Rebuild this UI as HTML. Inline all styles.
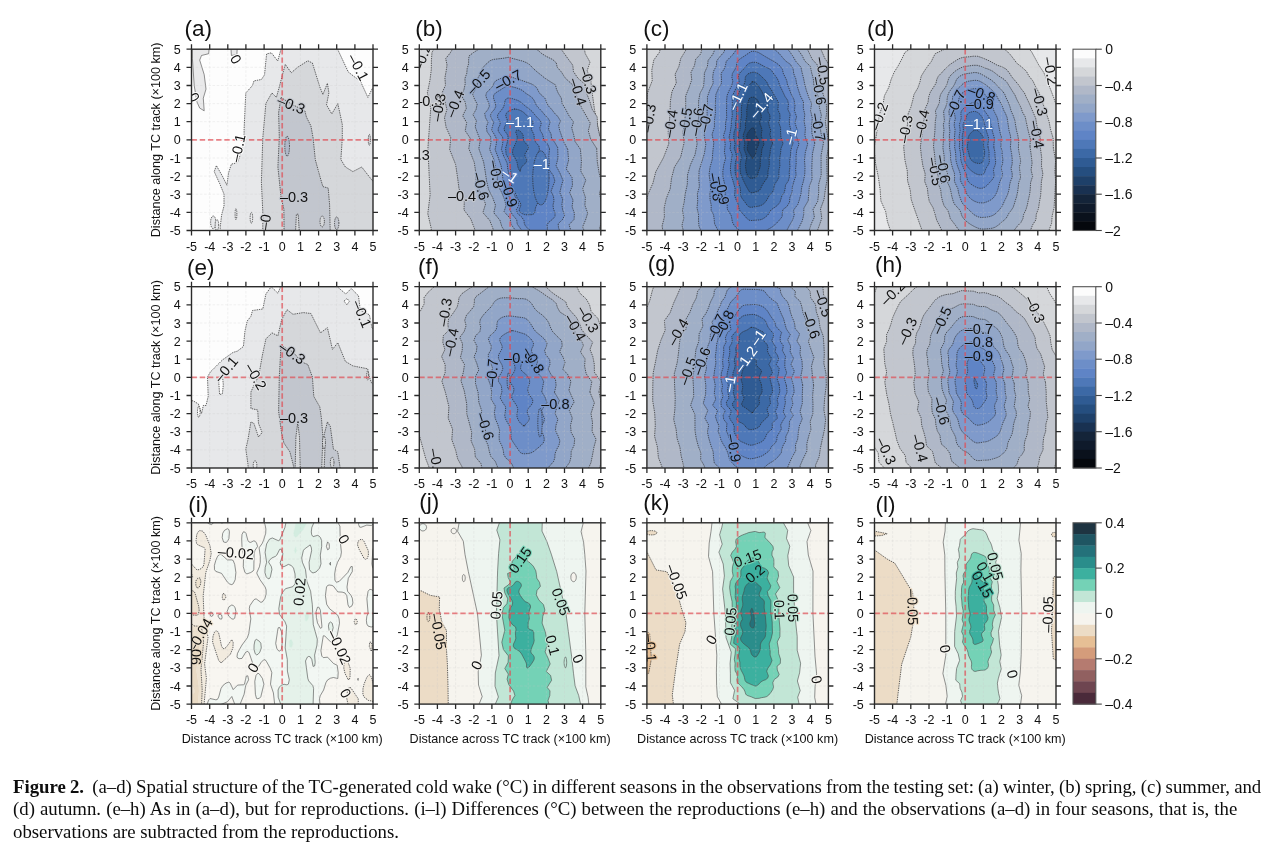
<!DOCTYPE html>
<html><head><meta charset="utf-8"><title>Figure 2</title>
<style>
html,body{margin:0;padding:0;background:#fff;width:1268px;height:850px;overflow:hidden}
svg{position:absolute;left:0;top:0}
svg text{font-family:'Liberation Sans', Arial, Helvetica, sans-serif;fill:#111}
.tl{font-size:12.5px}
.at{font-size:12.6px}
.pl{font-size:22.5px}
.cl{font-size:14.5px;text-anchor:middle;stroke-width:2.2px;paint-order:stroke;stroke-linejoin:round}
.cb{font-size:14px}
.cd{stroke:#262626;stroke-width:.7;stroke-dasharray:1.4 .9}
.cs{stroke:#4a4a4a;stroke-width:.6}
.cap{position:absolute;left:13px;font-family:'Liberation Serif','Times New Roman',serif;font-size:18.8px;line-height:23px;color:#0d0d0d;white-space:nowrap}
.cap b{font-weight:bold}
</style></head><body>
<svg width="1268" height="850" viewBox="0 0 1268 850">
<clipPath id="k00"><rect x="191.5" y="49.2" width="181.5" height="181.3"/></clipPath>
<g clip-path="url(#k00)">
<rect x="191.5" y="49.2" width="181.5" height="181.3" fill="#fdfdfd"/>
<path d="M281 43.8l56.8 0 0 5.8 10.5 22.4 5.6 4.4 6.4 4.5 7.6 16.5 4.4-8.9 6.1 4.2 0 143.2-158.2 0 0-8.8 1.4-12 2.4-9.1 0-11.9-4.4-10.7-5.4-11.8 2.2-6 6 10.5 4.5 9.1 1.6-12.2 2.9-8.9 6-1.4 2.2-6 4.5-18.7 0-9 1.7-36.1 1.4-1.5 5.3-5.9 1.4-4.6 7.5-1.4 3.1-4.6 2.1-21 4.8-1.1 6.3 8.2 3.3-11.8z" fill="#e7e8ea" class="cd"/>
<path d="M262.8 235.9l0-23.9-1.4-29.9 .7-22.5 .7-21.7 3.1-34.5 6-10.5 4.5 4.5 2.9-10.5 3.1-12 2.9-10.5 6 8.4 6-5.3 10.5-6.7 4.6 2.2 7.4 23.9 3.1 7.6 4.5-11.2 1.5 9.6-2.4 12 5.3 9 6-10.3 4.5 20.8 0 13.5-1.4 21.7 4.5 7.4 7.5 4.6 8.8-4.6 10.6 13.6 6.1 2.8 0 52.5z" fill="#d5d7da" class="cd"/>
<path d="M281 97.4l6.7 4.4 5.3 3.1 11.9 5.9 1.5 6.2 4.5 8.9 2.2 12 2.2 21.7 4.5 16.5 3.1 10.5 5.3 1.5 1.4 16.5 .7 31.3-30.8 0-1.3-21.7-1.8 0-1.1 21.7-11.2 0-.2-26.8-2.9-12-3.1-30.1 1.4-29.9-.7-24.4z" fill="#c2c6ce" class="cd"/>
<path d="M289.5 146.2l-.1-2.6-.2-2.4-.4-2.1-.5-1.5-.5-1-.6-.4-.7.4-.5 1-.5 1.5-.4 2.1-.2 2.4-.1 2.6 .1 2.6 .2 2.4 .4 2 .5 1.6 .5 1 .7.4 .6-.4 .5-1 .5-1.6 .4-2 .2-2.4z" fill="#b0b8c8" class="cd"/>
<path d="M192.4 43.8l17.2 0-.9 9.9-7.2 1.8-1.8 4.6 4.5 14.5 1.8 14.5-2.7 9.1 .9 12.6-4.5-2.7-2.8-6.3-2.7-16.3-1.8-27.2z" fill="#e9e9ea" class="cs"/>
<path d="M230.7 43.8l6.7 0-.5 10.8-5.5.9z" fill="#e9e9ea" class="cs"/>
<path d="M216 222.3l-.1-1.6-.3-1.5-.4-1.3-.6-1.1-.6-.6-.7-.2-.7.2-.7.6-.5 1.1-.5 1.3-.2 1.5-.1 1.6 .1 1.7 .2 1.5 .5 1.3 .5 1 .7.7 .7.2 .7-.2 .6-.7 .6-1 .4-1.3 .3-1.5z" fill="#e7e8ea" class="cd"/>
<path d="M236.9 214.2l-.1-1.4 0-1.3-.2-1.2-.2-.8-.2-.6-.2-.2-.3.2-.2.6-.2.8-.1 1.2-.1 1.3 0 1.4 0 1.4 .1 1.3 .1 1.1 .2.9 .2.5 .3.2 .2-.2 .2-.5 .2-.9 .2-1.1 0-1.3z" fill="#e7e8ea" class="cd"/>
<path d="M252.7 217.8l-.1-1.4-.1-1.3-.2-1.1-.3-.9-.3-.5-.3-.2-.3.2-.3.5-.3.9-.2 1.1-.1 1.3-.1 1.4 .1 1.4 .1 1.3 .2 1.2 .3.8 .3.6 .3.1 .3-.1 .3-.6 .3-.8 .2-1.2 .1-1.3z" fill="#e7e8ea" class="cd"/>
<path d="M324.4 221.4l-.1-1.4-.2-1.3-.4-1.1-.4-.9-.6-.5-.5-.2-.6.2-.5.5-.5.9-.3 1.1-.2 1.3-.1 1.4 .1 1.4 .2 1.4 .3 1.1 .5.8 .5.6 .6.2 .5-.2 .6-.6 .4-.8 .4-1.1 .2-1.4z" fill="#d5d7da" class="cd"/>
<path d="M338.9 223.2l-.1-1.6-.2-1.5-.4-1.3-.4-1-.5-.7-.6-.2-.6.2-.5.7-.4 1-.4 1.3-.2 1.5-.1 1.6 .1 1.7 .2 1.5 .4 1.3 .4 1 .5.7 .6.2 .6-.2 .5-.7 .4-1 .4-1.3 .2-1.5z" fill="#c2c6ce" class="cd"/>
<path d="M370.5 139.9l-.1-1.5-.1-1.3-.2-1.1-.2-.9-.2-.5-.3-.2-.3.2-.3.5-.2.9-.2 1.1-.1 1.3 0 1.5 0 1.4 .1 1.3 .2 1.1 .2.9 .3.5 .3.2 .3-.2 .2-.5 .2-.9 .2-1.1 .1-1.3z" fill="#d5d7da" class="cd"/>
<path d="M218.7 225.1l0-1.4-.2-1.4-.3-1.1-.4-.8-.4-.6-.5-.2-.5.2-.4.6-.4.8-.3 1.1-.1 1.4-.1 1.4 .1 1.4 .1 1.3 .3 1.1 .4.9 .4.5 .5.2 .5-.2 .4-.5 .4-.9 .3-1.1 .2-1.3z" fill="#e7e8ea" class="cd"/>
<path d="M209.7 49.2V230.5M191.5 212.4H373M227.8 49.2V230.5M191.5 194.2H373M245.9 49.2V230.5M191.5 176.1H373M264.1 49.2V230.5M191.5 158H373M282.2 49.2V230.5M191.5 139.9H373M300.4 49.2V230.5M191.5 121.7H373M318.6 49.2V230.5M191.5 103.6H373M336.7 49.2V230.5M191.5 85.5H373M354.9 49.2V230.5M191.5 67.3H373" stroke="#c8c8c8" stroke-width="0.7" stroke-dasharray="2.6 1.6" fill="none" opacity="0.35"/>
<path d="M282.2 49.2V230.5M191.5 139.9H373" stroke="#e04850" stroke-width="1.7" stroke-dasharray="5.4 2.8" fill="none" opacity="0.68"/>
<text x="236" y="64.3" transform="rotate(60 236 59.2)" style="fill:#111;stroke:#fdfdfd" class="cl">0</text>
<text x="194.2" y="102.3" transform="rotate(60 194.2 97.2)" style="fill:#111;stroke:#fdfdfd" class="cl">0</text>
<text x="358.5" y="72.4" transform="rotate(62 358.5 67.3)" style="fill:#111;stroke:#fdfdfd" class="cl">–0.1</text>
<text x="291.3" y="109.6" transform="rotate(22 291.3 104.5)" style="fill:#111;stroke:#c2c6ce" class="cl">–0.3</text>
<text x="237.8" y="153.1" transform="rotate(-78 237.8 148)" style="fill:#111;stroke:#fdfdfd" class="cl">–0.1</text>
<text x="294" y="202.1" transform="rotate(0 294 197)" style="fill:#111;stroke:#c2c6ce" class="cl">–0.3</text>
<text x="265" y="227.4" transform="rotate(-82 265 222.3)" style="fill:#111;stroke:#d5d7da" class="cl">–0</text>
</g>
<path d="M191.5 49.2v-5M191.5 230.5v5M191.5 230.5h-5M373 230.5h5M209.7 49.2v-5M209.7 230.5v5M191.5 212.4h-5M373 212.4h5M227.8 49.2v-5M227.8 230.5v5M191.5 194.2h-5M373 194.2h5M245.9 49.2v-5M245.9 230.5v5M191.5 176.1h-5M373 176.1h5M264.1 49.2v-5M264.1 230.5v5M191.5 158h-5M373 158h5M282.2 49.2v-5M282.2 230.5v5M191.5 139.9h-5M373 139.9h5M300.4 49.2v-5M300.4 230.5v5M191.5 121.7h-5M373 121.7h5M318.6 49.2v-5M318.6 230.5v5M191.5 103.6h-5M373 103.6h5M336.7 49.2v-5M336.7 230.5v5M191.5 85.5h-5M373 85.5h5M354.9 49.2v-5M354.9 230.5v5M191.5 67.3h-5M373 67.3h5M373 49.2v-5M373 230.5v5M191.5 49.2h-5M373 49.2h5" stroke="#2a2a2a" stroke-width="1.3" fill="none"/>
<rect x="191.5" y="49.2" width="181.5" height="181.3" fill="none" stroke="#2a2a2a" stroke-width="1.4"/>
<text x="191.5" y="250.6" text-anchor="middle" class="tl">-5</text>
<text x="180.8" y="235" text-anchor="end" class="tl">-5</text>
<text x="209.7" y="250.6" text-anchor="middle" class="tl">-4</text>
<text x="180.8" y="216.9" text-anchor="end" class="tl">-4</text>
<text x="227.8" y="250.6" text-anchor="middle" class="tl">-3</text>
<text x="180.8" y="198.7" text-anchor="end" class="tl">-3</text>
<text x="245.9" y="250.6" text-anchor="middle" class="tl">-2</text>
<text x="180.8" y="180.6" text-anchor="end" class="tl">-2</text>
<text x="264.1" y="250.6" text-anchor="middle" class="tl">-1</text>
<text x="180.8" y="162.5" text-anchor="end" class="tl">-1</text>
<text x="282.2" y="250.6" text-anchor="middle" class="tl">0</text>
<text x="180.8" y="144.4" text-anchor="end" class="tl">0</text>
<text x="300.4" y="250.6" text-anchor="middle" class="tl">1</text>
<text x="180.8" y="126.2" text-anchor="end" class="tl">1</text>
<text x="318.6" y="250.6" text-anchor="middle" class="tl">2</text>
<text x="180.8" y="108.1" text-anchor="end" class="tl">2</text>
<text x="336.7" y="250.6" text-anchor="middle" class="tl">3</text>
<text x="180.8" y="90" text-anchor="end" class="tl">3</text>
<text x="354.9" y="250.6" text-anchor="middle" class="tl">4</text>
<text x="180.8" y="71.8" text-anchor="end" class="tl">4</text>
<text x="373" y="250.6" text-anchor="middle" class="tl">5</text>
<text x="180.8" y="53.7" text-anchor="end" class="tl">5</text>
<text x="184.5" y="36.1" class="pl">(a)</text>
<text x="160.0" y="139.9" transform="rotate(-90 160.0 139.9)" text-anchor="middle" class="at">Distance along TC track (×100 km)</text>
<clipPath id="k01"><rect x="419.3" y="49.2" width="181.5" height="181.3"/></clipPath>
<g clip-path="url(#k01)">
<rect x="419.3" y="49.2" width="181.5" height="181.3" fill="#e7e8ea"/>
<path d="M611.7 149.7l0-44.3 0-18 0-14.2 0-11.2 0-10.2 0-10 0-3.5-4.4 0-2.1 0-1.7 0-.4 0-3.6 0-4.9 0-4.1 0-4.4 0-5.1 0-5.5 0-5.9 0-6.7 0-8 0-10.5 0-25.5 0-28.2 0-12.6 0-10 0-8.5 0-7 0-5.1 0-3.6 0-4 0-5.8 0-5.6 0-4.3 0-3 0 .4 0-5.1 0-2.8 0-1.5 0-2.7 0-1.1 4.9 .1 9-.1 9.6 0 11.6 0 13.8 0 18.4 0 43.6 0 51.7 0 20.9 0 16.1 0 3.5 .7 0 5.6 0-1.6 0 3.7 0-.6 0 8.7 0 1.9 0 3.1 0 3.7 0 2.4 0 5.1 0 6.8 0 6.3 0 6.4 0 7.5 0 9.4 0 12.4 0 29.8 0 25 0 10.5 0 8 0 7.1 0 6.3 0 5.2 0 4 0 5 0 6.7 0 1.5 0-1.8 0 7 0 3 0 2.1 0 2.2 0 .2 0 0-4.8 0-16 0-21.1z" fill="#d5d7da" class="cd"/>
<path d="M602.1 148.2l-7.6-38.6-2.2-15.9-1.4-12.3-3.7-10.7 2.8-8.6-4.8-8.6-1.2-7.2-5.1-5.8 2.1-2.2-3 0-.8 0-4 0-4.3 0-2.6 0-2.7 0-2.6 0-2 0-2.1 0-3 0-4.1 0-4.8 0-5.6 0-7 0-11.1 0-25.2 0-9.8 0-7.4 0-6.3 0-5.5 0-4.9 0-4.1 0-2.5 0-1.3 0-2.7 0-6 0-3.2 0 .6 0-4.8 0-1.6 0-1.1.7 .3 6.5-3.8 6.9-.6 8-.1 9-1.3 10.5-2.6 12.9 3.3 15.6-2.8 40 2.2 46.4-2.3 18.9 3.5 15-1 12 1.2.7 2.1 0 .3 0 .5 0 2.2 0 5.4 0-1.2 0 3.1 0 1.6 0 .4 0 6.7 0 6.2 0 2.8 0 2.8 0 4.5 0 5.6 0 6.2 0 7.2 0 9.4 0 23.1 0 23.4 0 8.4 0 6.1 0 4.2 0 2.2 0 1.6 0 3.2 0 6.2 0 5.4 0 1.7 0 2 0 3.2 0 1.8 0 1.2 0-.6 0 5.7 0 .5 0-1 0 1.6 0 2.4-.5-1.9-12.4 4.3-13.9-3.1-19.6z" fill="#c2c6ce" class="cd"/>
<path d="M605.8 148.2l-6-12.2-2.2-9.8-.4-9.3-5.1-7.8-2.5-8.3-3.4-8.5-.5-7.6-7.8-6.5-4.4-6.6-.8-6.5-4.8-6.5-5.1-7.1-4.2-5.9-9.1-3.6-2.4-3.7-3.1 0-6.1 0-5.2 0-4.7 0-5.8 0-6.7 0-6.9 0-7.1 0-8 0-7.7 0-4.8 0-3.7 0-3 0-3.2 0-5.1 0-5.4 0-2.3 0-1.4 0-3.5 4.2 .3 4.8-3.6 5.8-4.4 5.5 1.3 6.3-.9 6.4-1.2 6.6 .6 7.3-3.2 7.1 2.5 8.4 2.1 8.7-2.4 8.4 1.6 9.5 4.6 10.2-1 12.2 5.8 14.4 2 12.8 1.5 11.9 5.4 10.5-.4 10.6 6.8 9.1 3.8 9.9 2.5 9.3 1.3 3.2 8.4 0 2.8 0 3.3 0 3.3 0 4.8 0 7.1 0 5 0 1.7 0 5.9 0 5 0 2.9 0 3.7 0 5.3 0 6.1 0 6.7 0 11.1 0 5.8 0 5 0 4.9 0 5.4 0 4.9 0 3.8 0 3.8 0 1.3 0 2.9 0 6.4 0 1.2 0-.3 0 2.6 0 1.8 0 .7-3.2-.9-9 .9-9.5 0-9.9 0-10.5-3-10.9 1.5-11.6-4.9-12.4z" fill="#b0b8c8" class="cd"/>
<path d="M596.7 148.5l-5.9-9.2-2.5-8.5 2-7.6-4.3-7.8-4.1-7-2.8-6.1-2.3-6-1.9-5.9-2.5-5.8-7-6.4-4-6.2-4.2-4.8-.9-4.3-3.5-3.3-6.9-3.4-4.4-2.8-3.1-2.8-5.3-3.1-7.2-2-6.8-2-5.9-1.9-5.4-1.8-5.6.8-6.9.1-1.9.1-3.9.4-3.4.6-2.9 1.1-1.8 1.8-1.1 2.2-2.3 2.8-4.6 2.9-4.3 3.3-.5 3.8 0 4-1.4 4.7-.4 4.8-1.9 5.4 .3 5.3-1.3 5.9-2.3 6.1 3.6 6.1 1.1 6.4-3.6 7.4 4 6.9-1.5 8 5.1 7.7-1.5 10.2 5.4 13.5 1.7 11.4 .3 10.3 5 10.4 4.4 9.7-2.7 8.7 6.9 7.9 2.9 7.5 2.9 7.6 1.3 5.8 2.7 0 7.1 0 1.9 0 3.4 0 1.4 0 3.8 0 3.8 0 3.9 0 5.4 0 5.2 0 3.8 0 3.1 0 3.4 0 4.5 0 6.2 0 5.5 0 4.8 0 3.8 0 3 0 3.4 0 5.4 0 5.8 0 3.1 0 .9 0 1 0 3 0 1.6 0 3 0 1.2-5.3-2.4-8 2.4-7.7 1.4-8.3-1.7-9-2.2-9.6 2.4-9.4-2.7-10.8-1.9-11.4z" fill="#a0afc7" class="cd"/>
<path d="M580.4 149.2l-5.4-7.8-1.4-6.9-1.9-6.5 1.8-6.1-4.4-6-3.3-6.2-3.7-6.4-.8-5.2-3.1-5-1.8-4.2-.9-4-5.2-3.2-5.4-3.5-3.5-2.9-3.8-3-3.7-3.2-2.4-2.5-2-2.1-2.7-1.7-3.8-1.6-4.6-1.2-4.9-1.3-4.9-1.4-5.6 1-6.9.8-2.7.3-2.2.7-1.8 1.1-1.5 1.4-1.8 1.6-2 1.9-1.7 2.3-1.1 2.8-1.3 3.1-2.1 3.6-.7 3.7 .2 3.9-2.4 4.3-2.3 4.4 1.8 4.9 2.7 5-1.1 5.3-3.1 5.4 3.4 5.9-1.2 6.1 2.3 6.4 2.8 6.8-1.5 8.6 4.8 13.3 1.7 10.1 1.3 9.2 2 8.4 3.9 7.7 3 7.9-1.7 7.6 6.1 7.4 2 6.6 4 6.1 .9 6.1 .8 2.4 4 0 6 0 1.8 0 2.6 0 2.7 0 1.6 0 2.2 0 3.1 0 3.4 0 3.3 0 3.2 0 3.8 0 6.8 0 4.8 0 4.6 0 4 0 3.2 0 2.3 0 1.5 0 1.3 0 2.3 0 2.7 0 1.5 0 2.7 0 1.6-1.9 1-6-3.1-6.5 3-6.9 2.2-7-2.8-7.8 .5-8-2.8-8.4 3.2-8.7-5-9.1 .6-10.1z" fill="#92a6c8" class="cd"/>
<path d="M567.7 149.4l-4-7.7-2.2-6.1-1.9-5.4-.9-4.8 1.8-4.5-2.7-4.4-3.4-3.5-2.7-3.6-3.4-3.6-1.8-3.5-1-3.3-2.6-2.8-3-2.5-1.6-2.7-1.1-2.5-2.2-2.5-3.6-2.1-4.2-1.5-4.2-1.5-3.8-1.3-3.6-1-3.5-1.4-3.6-.9-4.3.6-1.1.5-2.3 1-2.1.9-1.8.8-1.6 1.1-1.1 1.4-.7 1.6-.8 1.9-1.6 2.1-2.5 2.3-2.2 2.4-.6 2.9 1.1 3.2 1.7 3.6 .8 3.6-1.7 3.6-3 3.6 .8 4.3 2.5 4.6-1.6 4.4 .6 4.9 3.7 5.4 .3 5.6-1.4 6.6 4.2 10.2 2 9 1.6 8.3-.2 7.8 4.2 7.3 2.8 6.7 1.9 6.7-2 6.5 6 6.5 .8 5.9 4.1 5.7 1.9 5.1 .9 4.7 .9 1.8 1.2 0 4.2 0 4.5 0 2.5 0 1.5 0 1.7 0 2.2 0 2.4 0 2.4 0 2.8 0 2.4 0 3.2 0 2.9 0 2.7 0 2.9 0 2.7 0 2.2 0 1.7 0 2.2 0 2.5 0 1.3-1.4 1.2-4.6-1.3-5.2-1.6-5.5 5-5.4 .3-6.1-2.3-6.5 .9-6.7-3.3-7.4 2.8-7.2-.4-7.8-5.8-8.6 2.3-8.8z" fill="#7f9acb" class="cd"/>
<path d="M557.7 147.6l-3-5.2-3.1-4.2-.6-4.4-2.4-4.1 .3-3.9 1.3-3.8-2-3.6-3.2-3.2-2.3-2.9-2.5-2.8-2.9-2.9-1.8-2.9-1-2.6-1.4-2.4-2.3-2.1-2.7-1.8-2.4-1.6-1.9-1.6-1.7-1.3-1.8-1-2-.8-2.3-.7-2.6-.7-3.3-.8-3.7.1-1.9.9-1.8 1.1-1.9 1.3-2 1.2-2 1.2-1.8 1.3-1.2 1.6-.4 1.9 .4 2.1 .8 2.3 .9 2.6 .2 2.7-1.3 2.8-2.6 2.9-1.5 3.2 1.5 3.5 1.9 3.6-1.3 3.7-.8 3.9 2.8 4.3 2.2 4.6-.3 4.7-1.2 5.7 3.3 8.7 2.7 7.7 1.1 7.1 .8 6.7 .4 6.4 4 6.1 2.3 6.3 2.7 6-2.8 4.9 2.9 5.5 4.2 4.8 .5 4.4 3 4.2 3 4.1 .9 3.5 .9 3.2 1.3 2.3 1 0 1 0 1.6 0 2.1 0 2.4 0 2.3 0 2.4 0 4 0 2.6 0 2.6 0 2.4 0 2.5 0 2.1 0 1.7-.5 1.4-2.8 1.4-3 .4-3.4-1.7-3.9-.3-4.1 4.2-4 2.3-4.6-2.1-5.2-.7-5.4 .8-5.5-2.9-6.3 1.4-6 1.8-6.3-3-7.2-3.9-7.4 1.9-7.8z" fill="#6d8ec8" class="cd"/>
<path d="M549.5 148.7l-1.8-4.6-3.7-3.5-.7-3.5-.9-3.2-2-2.9-.6-3.1 1.2-2.9 .2-2.8-1.8-2.5-2.6-2.6-2.2-2.6-1.8-2.3-2-2-2.3-1.8-2.3-1.6-1.9-1.6-1.6-1.4-1.4-1.2-1.5-1.1-1.5-.8-1.7-.7-1.9-.6-2.1-.7-2.5-.6-2.1-.1-1 .4-.9.6-.6.8-.4.9-.3 1.1-.2 1.3-.2 1.4-.6 1.7-1 2-1.7 2.3-2 2.3-1.5 2.2 0 2.3 1.4 2.5 1.3 2.5-.4 2.8-1.6 3-.1 3 2.2 3.1 2.2 2.8 .4 3.4-.5 4-1.1 5 2.4 7 3.3 6.6 .7 6.2 1.3 6.1 .1 5.6 .6 5.4 3.4 5.5 1.9 4.9 2.6 4.5 1 4.4-2.3 4 1.1 3.8 4.3 3.7 2.2 3.5 .3 3 1.3 2.7 2.5 2.3 2.3 2.1 1.7 1.8 1.1 1.5 1 1.2 1.1.8 1.3.5 1.6-.1 3-1 2-1 1.7-1 1.5-1.1 .9-1.4 .2-1.7-.3-2.1-.1-2.4 1.6-2.4 3.4-2.6 2.9-3.2 .1-3.6-1.6-3.7-.5-4.1 1-4.3-.6-4.6-2.4-4.9 1.9-5 2-5.3-1.6-5.5-4.5-6.3 .5-6.1-.5-6.8z" fill="#5f84c6" class="cd"/>
<path d="M539.5 149.6l-.6-3.7-3-3.4-1.6-3-.1-2.7-.4-2.6-1.3-2.5-1.1-2.3 .1-2.2 .9-2.1 .7-1.9-.2-1.9-1.3-1.8-1.7-1.5-1.7-1.4-1.5-1.3-1.3-1.3-1.2-1.1-1.2-1-1.3-.8-1.4-.7-1.3-.5-1.4-.4-1.4-.3-1.7-.3 1.1.3-1.1 0-1.2.2-1.2.2-1.3.4-1.4.6-1.4.9-1.2 1.2-.8 1.4-.3 1.4 .3 1.4 .7 1.5 .6 1.7-.1 1.8-1.1 2.2-1.4 2.5-.7 2.4 .7 2.1 1.7 2 1.4 2.4 .3 2.6-.5 2.9-.8 3.2-1.2 3.9 .5 6.1 3 5.3 1.2 4.9 .1 4.4 .5 4.2 .7 4.1-.3 3.8-.3 3.6 1.4 3.6 2.2 3.3 1.4 3.1 .9 2.8 1.6 2.7 1.7 2.5 .7 2.2-.5 2-.8 1.7-.4 1.6 .3 1.3 1 1.2 1.3.9 1.4.7 1.3.5 1.3.2 6-.1 1.2-.3 .8-.6 .7-.8 .4-1.1 .2-1.3 .2-1.6 .4-1.8 .9-2 1.1-2.4 1-2.6 0-2.7-1.1-2.6-.7-2.9 1.4-3.5 2.5-4.1 1.2-4-.5-3.6-2-3.5-2.9-3.6 .8-4.4 2.2-5.2-2.5-4.5z" fill="#4e78b8" class="cd"/>
<path d="M549.1 177.9l-.3-7-.8-6.6-1.3-5.6-1.7-4.3-2-2.7-2.1-1-2.1 1-2 2.7-1.7 4.3-1.3 5.6-.8 6.6-.3 7 .3 7.1 .8 6.5 1.3 5.7 1.7 4.3 2 2.7 2.1.9 2.1-.9 2-2.7 1.7-4.3 1.3-5.7 .8-6.5z" fill="#4e78b8" class="cd"/>
<path d="M527.4 150.1l1.1-1.9-.1-1.5-.8-1.4-1.2-1.3-1.2-1.3-1-1.2-.6-1.2-.3-1.1 0-1.1 0-1-.1-.9-.1-.9-.3-.8-.5-.8-.5-.7-.5-.6-.5-.5-.5-.5-.5-.4-.4-.4-.5-.2-.4-.2-.5-.1-.5 0-.3 0-.4.1-.3.1-.3.3-.2.3-.2.4 0 .5 0 .5 .2.6 .2.7 .3.8 .3.8 .2.9 .2.9 0 1-.2 1.1-.3 1.1-.4 1.1-.4 1.2-.5 1.2-.6 1.3-.6 1.3-.6 1.4-.7 1.7-.4 2.4 .1 1.6 .5 1.5 .8 1.5 .8 1.3 .8 1.3 .6 1.2 .5 1.2 .4 1 .2 1.1 .2.9 .2 1 .1.8 .2.8 .2.7 .2.6 .3.6 .2.5 .3.4 .4.4 .3.3 .4.2 .4.2 .5 0-1.6-.1 .3-.1 .3-.2 .2-.2 .2-.4 .1-.4 .2-.5 .1-.5 .3-.7 .4-.6 .5-.8 .8-.7 .9-.9 1-.9 .9-1 .7-1.1 .4-1.1-.1-1.2-.6-1.3-.7-1.4-.5-1.4 .1-1.5 .9-1.5z" fill="#3c69a6" class="cd"/>
<path d="M437.4 49.2V230.5M419.3 212.4H600.8M455.6 49.2V230.5M419.3 194.2H600.8M473.8 49.2V230.5M419.3 176.1H600.8M491.9 49.2V230.5M419.3 158H600.8M510.1 49.2V230.5M419.3 139.9H600.8M528.2 49.2V230.5M419.3 121.7H600.8M546.4 49.2V230.5M419.3 103.6H600.8M564.5 49.2V230.5M419.3 85.5H600.8M582.6 49.2V230.5M419.3 67.3H600.8" stroke="#c8c8c8" stroke-width="0.7" stroke-dasharray="2.6 1.6" fill="none" opacity="0.35"/>
<path d="M510.1 49.2V230.5M419.3 139.9H600.8" stroke="#e04850" stroke-width="1.7" stroke-dasharray="5.4 2.8" fill="none" opacity="0.68"/>
<text x="422" y="62.5" transform="rotate(-70 422 57.4)" style="fill:#111;stroke:#d5d7da" class="cl">–0.2</text>
<text x="428.4" y="106" transform="rotate(0 428.4 100.9)" style="fill:#111;stroke:#d5d7da" class="cl">–0.3</text>
<text x="438.4" y="112.3" transform="rotate(-80 438.4 107.2)" style="fill:#111;stroke:#c2c6ce" class="cl">–0.3</text>
<text x="454.7" y="108.7" transform="rotate(-68 454.7 103.6)" style="fill:#111;stroke:#b0b8c8" class="cl">–0.4</text>
<text x="478.3" y="86.9" transform="rotate(-48 478.3 81.8)" style="fill:#111;stroke:#92a6c8" class="cl">–0.5</text>
<text x="508.2" y="85.1" transform="rotate(-28 508.2 80)" style="fill:#111;stroke:#7f9acb" class="cl">–0.7</text>
<text x="520" y="126.8" transform="rotate(0 520 121.7)" style="fill:#ffffff;stroke:#4e78b8" class="cl">–1.1</text>
<text x="496.4" y="179.4" transform="rotate(80 496.4 174.3)" style="fill:#111;stroke:#92a6c8" class="cl">–0.8</text>
<text x="481" y="191.2" transform="rotate(75 481 186.1)" style="fill:#111;stroke:#a0afc7" class="cl">–0.6</text>
<text x="509.1" y="198.4" transform="rotate(72 509.1 193.3)" style="fill:#111;stroke:#6d8ec8" class="cl">–0.9</text>
<text x="510.1" y="180.3" transform="rotate(35 510.1 175.2)" style="fill:#ffffff;stroke:#5f84c6" class="cl">–1</text>
<text x="541.8" y="169.4" transform="rotate(0 541.8 164.3)" style="fill:#ffffff;stroke:#4e78b8" class="cl">–1</text>
<text x="462" y="201.2" transform="rotate(0 462 196.1)" style="fill:#111;stroke:#c2c6ce" class="cl">–0.4</text>
<text x="588.1" y="85.1" transform="rotate(72 588.1 80)" style="fill:#111;stroke:#c2c6ce" class="cl">–0.3</text>
<text x="578.1" y="96.9" transform="rotate(72 578.1 91.8)" style="fill:#111;stroke:#b0b8c8" class="cl">–0.4</text>
<text x="423.8" y="160.4" transform="rotate(0 423.8 155.3)" style="fill:#111;stroke:#d5d7da" class="cl">.3</text>
</g>
<path d="M419.3 49.2v-5M419.3 230.5v5M419.3 230.5h-5M600.8 230.5h5M437.4 49.2v-5M437.4 230.5v5M419.3 212.4h-5M600.8 212.4h5M455.6 49.2v-5M455.6 230.5v5M419.3 194.2h-5M600.8 194.2h5M473.8 49.2v-5M473.8 230.5v5M419.3 176.1h-5M600.8 176.1h5M491.9 49.2v-5M491.9 230.5v5M419.3 158h-5M600.8 158h5M510.1 49.2v-5M510.1 230.5v5M419.3 139.9h-5M600.8 139.9h5M528.2 49.2v-5M528.2 230.5v5M419.3 121.7h-5M600.8 121.7h5M546.4 49.2v-5M546.4 230.5v5M419.3 103.6h-5M600.8 103.6h5M564.5 49.2v-5M564.5 230.5v5M419.3 85.5h-5M600.8 85.5h5M582.6 49.2v-5M582.6 230.5v5M419.3 67.3h-5M600.8 67.3h5M600.8 49.2v-5M600.8 230.5v5M419.3 49.2h-5M600.8 49.2h5" stroke="#2a2a2a" stroke-width="1.3" fill="none"/>
<rect x="419.3" y="49.2" width="181.5" height="181.3" fill="none" stroke="#2a2a2a" stroke-width="1.4"/>
<text x="419.3" y="250.6" text-anchor="middle" class="tl">-5</text>
<text x="408.6" y="235" text-anchor="end" class="tl">-5</text>
<text x="437.4" y="250.6" text-anchor="middle" class="tl">-4</text>
<text x="408.6" y="216.9" text-anchor="end" class="tl">-4</text>
<text x="455.6" y="250.6" text-anchor="middle" class="tl">-3</text>
<text x="408.6" y="198.7" text-anchor="end" class="tl">-3</text>
<text x="473.8" y="250.6" text-anchor="middle" class="tl">-2</text>
<text x="408.6" y="180.6" text-anchor="end" class="tl">-2</text>
<text x="491.9" y="250.6" text-anchor="middle" class="tl">-1</text>
<text x="408.6" y="162.5" text-anchor="end" class="tl">-1</text>
<text x="510.1" y="250.6" text-anchor="middle" class="tl">0</text>
<text x="408.6" y="144.4" text-anchor="end" class="tl">0</text>
<text x="528.2" y="250.6" text-anchor="middle" class="tl">1</text>
<text x="408.6" y="126.2" text-anchor="end" class="tl">1</text>
<text x="546.4" y="250.6" text-anchor="middle" class="tl">2</text>
<text x="408.6" y="108.1" text-anchor="end" class="tl">2</text>
<text x="564.5" y="250.6" text-anchor="middle" class="tl">3</text>
<text x="408.6" y="90" text-anchor="end" class="tl">3</text>
<text x="582.6" y="250.6" text-anchor="middle" class="tl">4</text>
<text x="408.6" y="71.8" text-anchor="end" class="tl">4</text>
<text x="600.8" y="250.6" text-anchor="middle" class="tl">5</text>
<text x="408.6" y="53.7" text-anchor="end" class="tl">5</text>
<text x="415.3" y="35.6" class="pl">(b)</text>
<clipPath id="k02"><rect x="646.9" y="49.2" width="181.5" height="181.3"/></clipPath>
<g clip-path="url(#k02)">
<rect x="646.9" y="49.2" width="181.5" height="181.3" fill="#e7e8ea"/>
<path d="M839.3 143.9l0-16.2 0-14.6 0-13.8 0-13.3 0-12.8 0-13.4 0-12.3 0-9.2-2.3 0-2.7 0-6.7 0-7.7 0-4.5 0-8 0-5.6 0-5.3 0-9.1 0-9.3 0-8.4 0-8.5 0-9.8 0-10.8 0-9.5 0-9 0-8.1 0-7 0-7.3 0-7.7 0-7 0-6.8 0-7.7 0-6.2 0-4.1 0-5.3 0-6.6 0-3 0-5.1 0-2.8 10.6-1.4 11.4 0 12.2 0 12.7 0 13.5 0 13.8 0 14.6 0 16.7 0 18.5 0 15.5 0 14.6 0 14.6 0 14.5 0 13.4 0 6.5 10 0 14.2 0 18.3 0 23.4 0 48.6 0 11.3 0 8.3 0 8.2 0 8.6 0 7.5 0 6.1 0 8 0 6.1 0 8.8 0 2.5 0 6.6 0 5.8 0 1 0 0-7.4 0-13.5 0-13.9 0-14.3 0-15.1 0-15.9z" fill="#d5d7da" class="cd"/>
<path d="M839.3 142.7l0-14.1 0-12.6 0-11.8 0-11.1 0-10.9 0-10.5 0-10.1-.8-9.6 0-9.2-6.3-4.5-2.7 0-4.8 0-3.8 0-5.6 0-5.8 0-2.4 0-6.9 0-6.2 0-6.1 0-7.4 0-7.2 0-6.7 0-6.9 0-8.2 0-8.1 0-7.8 0-7.3 0-6.7 0-7.1 0-8.7 0-6.9 0-2.6 0-6.1 0-5.9 0-5.2 0-6.1 0-3.3 0-4 0-4.4 5.3-1.8 8.6-5.7 7.8-2 10.2 .4 10.5-4.7 12.1-.7 11.6 .1 11.9-1.2 12.9-.3 14.5-8.1 16.2-1.3 14.4 0 14.2 0 14.7 0 11.7 0 10.7 0 11.8 0 4 7.7 0 11 0 11.7 0 13 0 15.1 0 18.8 0 39.2 0 7.7 0 7.6 0 7.1 0 6.2 0 6.5 0 8 0 5 0 3.1 0 6.4 0 6.2 0 4 0 5.8 0 2.7 0 3.3 0 4.6 0 2.6 0 0-2.5 0-12.3 0-12.5 0-12.5 0-13.1 0-13.3 0-15z" fill="#c2c6ce" class="cd"/>
<path d="M839.3 143.6l-.2-12.1-1.4-10.5-.5-10 .8-9.7-3.5-8.9-1.9-8.9-1.5-8.6-.6-8.1-5.8-8.7-3.3-7.7-.8-7-4.8-5.1-4 0-3.6 0-5.8 0-3.8 0-4.6 0-5 0-5.7 0-6.5 0-6.4 0-6.2 0-6.2 0-7.2 0-5.2 0-6.4 0-6 0-5.4 0-4.8 0-5.1 0-5.7 0-5.4 0-4.8 0-2.8 0-3.4 0-5.2 0-3.3 5.2-1.8 7.2-4.8 7.9-1.8 7.8-3.8 7.8 1.2 8.7-4.3 8.6-1.6 9.4-.3 9.6-.6 10.2-1.3 10.9 .6 12.1-5.2 13.7-7.8 14.3-2.9 11.5-4.8 10.8-2.7 11.7-1.8 11.1-3.6 10 .3 9.9-1 4.7-1.1 0 2.8 0 1.6 0 3.4 0 .2 0 6.3 0 4.9 0 5.6 0 7.6 0 8 0 8.9 0 10 0 11.4 0 14 0 29.6 0 5.4 0 6.5 0 6.4 0 6.2 0 6.3 0 5.8 0 4.3 0 5.4 0 6.3 0 1.1 0 5.8 0 2.8 0 4.9 0 5 0-.6 0 4.1-4.8 3.4-10.8 2.6-10.8 .9-10.7 1.4-10.8 .6-11.4 1.4-11.6-.3-12.8z" fill="#b0b8c8" class="cd"/>
<path d="M829.3 143.9l-2.4-11.5-1.5-10 1.2-8.9-.2-8.8-2.8-8.9-2.4-8.3-.8-7.8-1.9-7.5-.9-7-5.5-6.1-2.8-6-2.8-5.7-.8-5.4-6.2-3.7-3.2 0-3.1 0-5.6 0-4.8 0-4 0-4.4 0-4.9 0-5.2 0-5.5 0-6.3 0-6 0-5.2 0-5 0-4.9 0-4.6 0-4.3 0-3.5 0-2.5 0-3.5 0-4.8 0-3.3 3.8-2.7 5.8-1.5 6-5 5.4-1.3 6.4-3.4 6.6 .7 7.5-2.6 7.7-3.4 8.3 0 8.5-.1 8.8-1.1 9.3-1.5 9.9 1 10.9-3.4 14.1-6.2 9.9-2.9 11.2-1.3 10.5-4 9.8-2 9.3 .2 9.2-2.3 8.8 1.2 8.2 .8 7.2-1.3 0 2.4 0 3.3 0 2.5 0 4.7 0 2.5 0 2.7 0 6.7 0 7.4 0 6.8 0 7.4 0 8.8 0 11.1 0 22.6 0 6.3 0 5.5 0 5.7 0 6.1 0 5.7 0 3.5 0 2.1 0 5.1 0 4.5 0 3.1 0 4.8 0 3.9 0 3.2 0 .3 0 4.2-6.1 3.1-8.4 3-8.8-1.3-9.2 3.5-9.3 1.3-9.8 1.9-10.4-.3-10.8-.2-11.4z" fill="#a0afc7" class="cd"/>
<path d="M823.5 142.9l-2.6-10.4-1.1-8.9 1.6-8.4-2.1-8 .1-7.8-3.1-7.2-2.4-6.9-.6-6.8-1.8-6.3-1.2-6-5.5-5.2-2.6-5.3-3.9-5.5-1.2-4.9-2.4-4.8-5.9-2.2-4.3 0-2.8 0-3.8 0-4.9 0-5.3 0-5.2 0-5.3 0-5.8 0-4.8 0-3.9 0-3.4 0-3.1 0-2.8 0-3.2 0-4 0-4 0-2.9 1.7-2.7 4.3-1.6 4.8-2.2 5.2-4.7 6.1-.7 6-3 6.7-.2 6.5-.7 7-3.6 7.1-1.3 7.2-.1 7.7 .2 8.1-1.1 8.2-1.9 8.5 1.4 10.5-2.1 10.9-4.6 10-2.9 10.2-.2 9.2-2 9.4-1.2 8.6-1.6 8.1 1.3 7.8-1.8 7.3 1.8 7.1 1.7 6.3 1.1 2.6 2.5 0 3.9 0 3.8 0 3.4 0 4.6 0 5.5 0 5.4 0 5.4 0 6.1 0 7.9 0 16.4 0 5.7 0 5.4 0 5.3 0 4.8 0 3.9 0 3.6 0 4.7 0 4.7 0 3.4 0 5.1 0 2.2 0 .7 0 4.2-3.7 3.9-7 2.1-6.7 3.2-6.8-1.3-7.9 4.6-7.9 1-8.5 0-8.7 2.5-9.2-.1-9.6 0-10.1z" fill="#92a6c8" class="cd"/>
<path d="M814.8 143l-2.8-9.1-.3-8.1 .6-7.9-1.8-7.2 1.1-7.3-3-6.6-2.2-6.3-1.7-6.2-1.1-5.9-1.5-5.7-1.1-5.4-5.1-5.9-3-5.2-3.1-4.5-3.3-3.6-1.2-3.4-2.2-3-4.7-3.1-5.1-.3-4.3 0-3.7 0-3.8 0-4.1 0-5 0-3.1 0-3.6 0-3.6 0-3.5 0-3.5 0-2.9 1-2.6 2.9-2.6 3.1-1.8 3.3-1.4 3.7-3.4 3.8-3.6 4.6-.4 5.1-2.9 5.5-.8 5.8 .5 6-3.3 6.7-2.5 7 .1 6.9-.4 7.2 0 7.5-.7 7.9-2.2 8.6 1.6 9.2-1.4 9.4-2.7 8.6-2.6 8.5-.3 8.1 .6 7.7-2 7.5 .3 7.2-.7 6.8 1.5 6.4 0 6.2 .5 5.8 2.4 5.4 2.2 5.2 2.3 4.5 1.1 0 1.5 0 3 0 4 0 4.4 0 4.6 0 4.9 0 5.3 0 6.2 0 11.8 0 5 0 4.4 0 4.1 0 3.9 0 4 0 4.6 0 4.4 0 2.2 0 1 0 3.1 0 3.9-4.4 3.7-5.7 2.6-5.1 2.7-5.4 1.4-6.2 .2-6.5 4.3-7.3 .5-7.1 .7-7.4 2.7-7.3-.3-8.2 .2-8.3 .5-8.8z" fill="#7f9acb" class="cd"/>
<path d="M807.7 143.9l-2.8-8.2 .5-7.5-1.3-6.9 .7-6.8-1.5-6.4 .2-6.2-3.1-6-2-6-1.7-5.8-.9-5.3-2.1-5.3-.6-4.7-2.7-4.4-4.8-3.4-2.9-3.3-2.7-3.4-3.5-3.2-3.3-2.3-2.5-1.6-2.2-1.2-2.7-1.1-3.3-1.5-3.9-1.8-4.5-.9-5.5 1.3-2.9 1.2-2.6 1.1-2.5 1.1-2.3 1.5-1.8 2.1-1.5 2.6-2.2 3.1-3.6 3.5-3 3.3-.7 3.8-1.5 4-2.9 4.1 .4 4.9-.1 5.1-3 5.2-2.5 5.8-.4 6-.2 6.2 .1 6.5-.9 6.7-.1 7.1-2.3 7.6 1.7 8.4-1 8.9-.6 7.8-2.2 7.7-.9 7.1 .9 6.6 1.1 6.2-1.2 6.4 .1 5.9 1.2 5.4-.1 5.3 2.5 4.7 .6 4.7 .4 4.4 2.5 4.7 2.5 4.7 2.5 3.8 2.8 2.3 2.8 1.3 2.5.6 2.5 0 2.9 0 3.5 0 4.3 0 7.8 0 5.1 0 3.6 0 3.1 0 3.1 0 3.4 0 3.7-.2 3.8-2.3 3.5-3.4 3.6-2.8 3.1-2.9 2-4 3.2-5.4 1.9-5.4-.7-4.9 4.3-5.8 1.7-5.3 1.4-5.6 .7-6.1 1.8-6.4 1.3-6.8 .2-7-.5-7.2 .9-7.8z" fill="#6d8ec8" class="cd"/>
<path d="M799 144.1l-2.7-8.2 .8-6.5-2.2-6.8 1.7-5.7-2.1-6.2 .5-5.5-1-5.6-2.8-5.4-1.8-4.9-1.9-4.4-.7-4.2-1.8-3.9-1.8-3.7-.7-3.5-2.1-3.3-3.9-3.2-3.8-2.3-2.9-1.6-2.4-1.4-2.8-1.6-3-1.9-3.3-1.9-3.4-1.2-3.8.3 .1.1-1.9 1.1-2 1.3-2.2 1.6-2.5 1.6-2.6 1.7-2.2 2-1 2.6-.4 2.9-1.6 3.3-2.4 3.8-.5 3.9 .9 3.9-1.1 4.5-2.6 4.8-2 4.7-.5 5.1 .1 5.4-.2 5.5 .2 5.9-1.1 5.8-.1 6.3-2 6.3 1.7 8-.8 8.4 1.2 6.1-1.9 7.1-.9 6.2 .2 5.8 1.3 5.2 1.3 4.7-.2 5.2-.7 5.2 1.6 3.8 .9 3.9 .1 4 2 3.2 2 3.4 .6 3.3 .5 3 1.6 3 2.2 2.6 2.4 2 2.3 1.4 2.3 1.2 2.4 1.3 2.8.9 4.2-.1 3.4-.4 3.4-.1 3.3-1.1 3.3-2.1 3-1.9 2.7-1.5 2.3-1.6 2.5-2.5 3.1-3.3 2.5-3.2 .2-3.4 .6-3.7 4-3 2.6-4.3 .4-4.7 2.2-5.6 .2-5.1 1.8-6 2-6-.5-5.7 .6-6.1-.2-6.2 .7-6.7z" fill="#5f84c6" class="cd"/>
<path d="M793 142.9l-2.4-6.9 .3-5.9-1.4-5.5-.1-5.3 .8-5.1-2.3-4.7 .6-4.8-.8-4.4-2.7-3.9-1.8-3.9-1.9-3.9-1.8-3.7-.9-3.5-1.5-3.2-2.1-2.8-1.8-2.4-1.3-2-1.5-1.6-2.3-1.2-2.8-1.2-3.1-1.7-3.2-1.8-3.1-1.2-3.4 0-3 .8-1.4.8-1.2 1.1-1.1 1.3-1.1 1.5-1.4 1.7-2 1.8-1.9 2.1-1 2.4 .4 2.9 .3 3.1-1.1 3.3-2.2 3.5-2 4-1.4 4.3-.1 4.3 0 4.5-.3 4.7 .3 4.9-.8 5.2-.3 5.3-.9 5.6-1.2 5.9 1.6 6.7-.7 4.8 2.2 5.8-.8 5.1-.8 5.1-.2 4.9 .6 4.7 1.4 4.7 1.4 4.7 1.2 4.3-.1 3.9-.3 3.6 1.3 3.7 1.7 3.3 .8 3 .4 2.6 1.1 2.4 1.8 2.1 1.9 2 1.7 1.9 1.3 1.5 1.2 1.2 1.2.8 1.5.4 1.7 0 4.3-.4 3-.1 2.8-.8 2.6-1.7 2.3-1.9 1.5-1.7 1-1.9 1.2-1.9 2.4-1.8 3.7-2.5 2.9-3.4 1-3.2 1-3.4 2.3-3.2 .9-3.6 .4-4 2.7-3.8 1.3-4.6-.3-4.6 .8-5.1-.4-5 .8-5.5 .4-5.7z" fill="#4e78b8" class="cd"/>
<path d="M783 143.5l-2-5.9-.4-5.2 0-4.8-1.8-4.9 1.2-4.3-.1-4.3-2-4.3 .3-3.9 .1-3.8-2.1-3.7-2-3.3-1.4-2.9-1.6-2.6-1.8-2.3-1.2-2.2-.9-2.1-1.2-1.9-1.7-1.8-1.9-1.9-1.9-1.8-1.9-1.6-1.9-1.2-2-.6-2.4.1-2.9.8-1.3.7-1.2 1-1 1.1-.6 1.3-.2 1.5-.1 1.7-.3 2-1 2.3-1.6 2.4-1.8 2.5-1.6 2.8-1.3 3.1-.6 3.3 .1 3.6-.2 3.7-.3 4 .3 4.1-.5 4.3-.8 4.5 .1 4.6-1.6 5-.3 5.2 1.3 5.8-.8 4.7 1.7 5 .7 4.5-1.1 4.1-.4 3.9-.1 3.9 .3 3.8 1 3.7 1.2 3.4 1.3 3.2 1.1 3 .6 2.8 0 2.6 0 2.5 .7 2.2 1.2 2 1.5 1.9 1.4 1.8 1 1.6 1 1.2 .9 1 1.1.6 1.1.3 1.5 0 1.9-.4 2.4-.4 2.4-.3 2.4-.7 2.4-1.5 2-1.9 1.4-2 1-1.9 1.1-2.1 1.6-2 1.9-1.9 1.3-2.4 .3-2.8 .8-2.9 2.3-3.3 1.8-3.6 0-3.6 .2-3.8 .8-3.9-.2-4.1 .1-4.2 .8-4.4 .4-4.7z" fill="#3c69a6" class="cd"/>
<path d="M772.7 143.4l-1.6-4.7-1.2-4.2 .9-4.4-1.4-3.7-.8-3.7 1.4-4-.1-3.6-1.8-3-.3-3.2 .7-3.2-.4-2.8-1.6-2.6-1.7-2.6-1.2-2.5-1-2.4-1.2-2.3-1.4-2.1-1.2-1.9-1.2-1.6-1-1.3-1.1-1-1.1-.6-1.3-.3-1.5.1 1.5-.1-.9.5-1 .8-1 1-1.1 1.4-1.2 1.6-1.3 1.8-1.3 1.9-1.2 2-1.1 2.1-.9 2.3-.3 2.5 0 2.7-.1 2.9-.3 3.1-.1 3.2 .2 3.5-.4 3.5-.8 3.6 0 3.9-.4 4-1.7 4 .5 4.5 1.1 5.2-.9 3.8 .7 3.5 1.5 3.3 .3 3.2-.7 3.2-.6 3-.1 2.9 .1 2.8 .2 2.6 .5 2.4 .9 2.3 1 2.3 1 2.1 .9 2 1 1.9 .9 1.8 .9 1.5 .7 1.3 .6 1 .6.9 .6.6 .7.4 .8.2 1.1 0 1.6-.3 1.4-.3 1.4-.4 1.2-.5 1.1-.7 .9-1 .7-1.2 .6-1.4 .8-1.7 1.2-1.9 1.6-2.4 1.8-2.5 1-2.4 .2-2.3 0-2.5 .5-2.6 .7-2.8 .1-2.8-.2-3 .3-3.1 .7-3.2 .2-3.3 .8-3.5z" fill="#2f5b93" class="cd"/>
<path d="M764 144.5l-.8-4-1.8-3.8-.1-3.1 .7-2.8-.5-3.1-1.3-3.2-.4-2.8 .9-2.2 .7-2.2-.3-2.4-1.2-2.6-1-2.4-.3-2 .2-1.6 .3-1.6-.1-1.4-.5-1.4-.7-1.4-.9-1.2-1-.9-.9-.7-.8-.4-.9-.2-.8 0-2.2.5-.5.4-.5.6-.4.7-.3.9-.3 1-.2 1.2-.2 1.3-.3 1.6-.4 1.6-.3 1.9-.2 1.9 .1 2 .1 2.2-.3 2.3-.6 2.5-.5 2.7-.1 2.6 .1 2.8-.7 2.9-1.3 3.1-.3 3.1 1.1 3.3 .5 3.8-.6 2.3-.2 2.5 .8 2.5 1 2.5 .7 2.3 .1 2.1-.4 1.9-.4 1.9-.2 1.8-.1 1.8 .1 1.6 .2 1.6 .2 1.5 .2 1.4 .3 1.2 .5 1.2 .5 1 .6 1 .5.7 .6.6 .6.5 .6.3 .6.1 .7 0 2.5-.4 .8-.2 .7-.3 .6-.4 .6-.6 .4-.7 .4-.8 .2-.9 .2-1.1 .3-1.2 .5-1.3 .5-1.3 .5-1.6 .4-1.6 0-1.7-.1-1.9 .1-1.9 .3-2 .5-2.2 .4-2.2 .1-2.3 .3-2.4 1-2.7z" fill="#254e7f" class="cd"/>
<path d="M758.9 143l.1-1.2-.3-1.1-.4-1.2-.6-1.1-.6-1-.6-1-.5-1-.3-.8-.3-.8-.1-.8-.1-.7 0-.6 0-.6-.1-.6-.1-.5-.1-.5-.2-.4-.3-.4-.3-.3-.3-.2-.3-.2-.3-.1-.4 0-.4 0-.2.1-.4.1-.3.2-.4.3-.4.4-.3.4-.4.4-.4.5-.5.6-.4.6-.5.7-.4.7-.4.8-.3.8-.3.7-.1.8 0 .9 .1.8 .2.8 .3.9 .3.9 .3.9 .1 1.1-.1 1.2-.2 1.7-.2 1-.2 1-.1.9 .1 1 .2.9 .3.9 .4.8 .5.8 .5.8 .5.7 .4.6 .4.6 .3.5 .3.5 .3.4 .3.4 .2.3 .2.3 .3.2 .3.2 .3.1 .3 0 .3 0-1.9.2 .4-.1 .3-.2 .4-.2 .3-.3 .4-.4 .3-.4 .4-.4 .3-.5 .3-.5 .3-.6 .3-.6 .2-.6 .2-.7 .1-.7 .2-.8 .2-.8 .2-.9 .2-.8 .4-.9 .4-.9 .5-1 .5-1z" fill="#1e4069" class="cd"/>
<path d="M665 49.2V230.5M646.9 212.4H828.4M683.2 49.2V230.5M646.9 194.2H828.4M701.4 49.2V230.5M646.9 176.1H828.4M719.5 49.2V230.5M646.9 158H828.4M737.6 49.2V230.5M646.9 139.9H828.4M755.8 49.2V230.5M646.9 121.7H828.4M773.9 49.2V230.5M646.9 103.6H828.4M792.1 49.2V230.5M646.9 85.5H828.4M810.2 49.2V230.5M646.9 67.3H828.4" stroke="#c8c8c8" stroke-width="0.7" stroke-dasharray="2.6 1.6" fill="none" opacity="0.35"/>
<path d="M737.6 49.2V230.5M646.9 139.9H828.4" stroke="#e04850" stroke-width="1.7" stroke-dasharray="5.4 2.8" fill="none" opacity="0.68"/>
<text x="670.5" y="128.6" transform="rotate(-80 670.5 123.5)" style="fill:#111;stroke:#b0b8c8" class="cl">–0.4</text>
<text x="685" y="126.8" transform="rotate(-80 685 121.7)" style="fill:#111;stroke:#a0afc7" class="cl">–0.5</text>
<text x="696.8" y="126.8" transform="rotate(-80 696.8 121.7)" style="fill:#111;stroke:#a0afc7" class="cl">–0.6</text>
<text x="705.9" y="123.2" transform="rotate(-78 705.9 118.1)" style="fill:#111;stroke:#92a6c8" class="cl">–0.7</text>
<text x="737.6" y="101.4" transform="rotate(-65 737.6 96.3)" style="fill:#ffffff;stroke:#3c69a6" class="cl">–1.1</text>
<text x="761.2" y="110.5" transform="rotate(-50 761.2 105.4)" style="fill:#ffffff;stroke:#2f5b93" class="cl">–1.4</text>
<text x="790.3" y="141.3" transform="rotate(-75 790.3 136.2)" style="fill:#ffffff;stroke:#4e78b8" class="cl">–1</text>
<text x="818.4" y="132.3" transform="rotate(80 818.4 127.2)" style="fill:#111;stroke:#92a6c8" class="cl">–0.7</text>
<text x="819.3" y="96" transform="rotate(80 819.3 90.9)" style="fill:#111;stroke:#a0afc7" class="cl">–0.6</text>
<text x="823" y="76.1" transform="rotate(80 823 71)" style="fill:#111;stroke:#b0b8c8" class="cl">–0.5</text>
<text x="715.9" y="192.1" transform="rotate(80 715.9 187)" style="fill:#111;stroke:#6d8ec8" class="cl">–0.8</text>
<text x="722.2" y="195.7" transform="rotate(80 722.2 190.6)" style="fill:#111;stroke:#6d8ec8" class="cl">–0.9</text>
<text x="648.7" y="123.2" transform="rotate(-80 648.7 118.1)" style="fill:#111;stroke:#c2c6ce" class="cl">–0.3</text>
</g>
<path d="M646.9 49.2v-5M646.9 230.5v5M646.9 230.5h-5M828.4 230.5h5M665 49.2v-5M665 230.5v5M646.9 212.4h-5M828.4 212.4h5M683.2 49.2v-5M683.2 230.5v5M646.9 194.2h-5M828.4 194.2h5M701.4 49.2v-5M701.4 230.5v5M646.9 176.1h-5M828.4 176.1h5M719.5 49.2v-5M719.5 230.5v5M646.9 158h-5M828.4 158h5M737.6 49.2v-5M737.6 230.5v5M646.9 139.9h-5M828.4 139.9h5M755.8 49.2v-5M755.8 230.5v5M646.9 121.7h-5M828.4 121.7h5M773.9 49.2v-5M773.9 230.5v5M646.9 103.6h-5M828.4 103.6h5M792.1 49.2v-5M792.1 230.5v5M646.9 85.5h-5M828.4 85.5h5M810.2 49.2v-5M810.2 230.5v5M646.9 67.3h-5M828.4 67.3h5M828.4 49.2v-5M828.4 230.5v5M646.9 49.2h-5M828.4 49.2h5" stroke="#2a2a2a" stroke-width="1.3" fill="none"/>
<rect x="646.9" y="49.2" width="181.5" height="181.3" fill="none" stroke="#2a2a2a" stroke-width="1.4"/>
<text x="646.9" y="250.6" text-anchor="middle" class="tl">-5</text>
<text x="636.2" y="235" text-anchor="end" class="tl">-5</text>
<text x="665" y="250.6" text-anchor="middle" class="tl">-4</text>
<text x="636.2" y="216.9" text-anchor="end" class="tl">-4</text>
<text x="683.2" y="250.6" text-anchor="middle" class="tl">-3</text>
<text x="636.2" y="198.7" text-anchor="end" class="tl">-3</text>
<text x="701.4" y="250.6" text-anchor="middle" class="tl">-2</text>
<text x="636.2" y="180.6" text-anchor="end" class="tl">-2</text>
<text x="719.5" y="250.6" text-anchor="middle" class="tl">-1</text>
<text x="636.2" y="162.5" text-anchor="end" class="tl">-1</text>
<text x="737.6" y="250.6" text-anchor="middle" class="tl">0</text>
<text x="636.2" y="144.4" text-anchor="end" class="tl">0</text>
<text x="755.8" y="250.6" text-anchor="middle" class="tl">1</text>
<text x="636.2" y="126.2" text-anchor="end" class="tl">1</text>
<text x="773.9" y="250.6" text-anchor="middle" class="tl">2</text>
<text x="636.2" y="108.1" text-anchor="end" class="tl">2</text>
<text x="792.1" y="250.6" text-anchor="middle" class="tl">3</text>
<text x="636.2" y="90" text-anchor="end" class="tl">3</text>
<text x="810.2" y="250.6" text-anchor="middle" class="tl">4</text>
<text x="636.2" y="71.8" text-anchor="end" class="tl">4</text>
<text x="828.4" y="250.6" text-anchor="middle" class="tl">5</text>
<text x="636.2" y="53.7" text-anchor="end" class="tl">5</text>
<text x="643.3" y="35.9" class="pl">(c)</text>
<clipPath id="k03"><rect x="874.5" y="49.2" width="181.5" height="181.3"/></clipPath>
<g clip-path="url(#k03)">
<rect x="874.5" y="49.2" width="181.5" height="181.3" fill="#fcfcfc"/>
<path d="M1066.9 147.7l0-17.4 0-14.5 0-13.1 0-11.9 0-11.2 0-10.4 0-10.3 0-11.7 0-8.9-7.2 0-3.7 0-9.8 0-4.6 0-7.5 0-8.1 0-8.3 0-7.1 0-7.8 0-8.5 0-8.7 0-8.8 0-8.8 0-7.2 0-1.6 0-7.3 0-7.7 0-7.7 0-7.5 0-7.2 0-7.8 0-6.1 0-6.8 0-7.7 0-5.1 0-7.6 0-6.3 0-4.6 0-6.2 0 0 9 0 10.7 0 10.8 0 11.6 0 11.4 0 11.5 0 11.9 0 13.7 0 17.3 0 20.2 0 17.1 0 16.3 0 15.7 0 13.9 0 12 3.9 0 7.7 0 6.8 0 7.1 0 6.2 0 8.3 0 8.9 0 7 0 11.5 0 8.7 0 8.3 0 9.8 0 10.5 0 11.3 0 13.5 0 12.7 0 10.6 0 10.2 0 9.2 0 7.7 0 7.7 0 7.7 0 7.7 0 .3 0 0-.2 0-13.2 0-13.8 0-14.5 0-15.6 0-16.8z" fill="#e7e8ea" class="cd"/>
<path d="M1066.1 147l-1.4-12.6-2.7-10.2-2.4-9.3-3-8.7-2.9-8.6-3.4-8.9-3.2-8.4-3.3-7.8-5.1-7.6-3.8-7.1-3.4-6.2-5-5.2-5.1-4.9-3.5-3.2-4.7 0-5.8 0-6.1 0-5.7 0-4.4 0-4.1 0-4.9 0-5.6 0-5.8 0-4.5 0-2.4 0-5 0-5.2 0-5.4 0-5.4 0-5.1 0-4.2 0-4.2 0-5.4 0-5.6 0-3.9 3.5-2.3 5.6-7.4 5.1-3 6.5-3.6 6.8-4.1 6.5-3 7.2-2.3 7.8-4.4 8.5-1.4 8.9-3.6 9.6-1.6 9.9-1.4 10.8-2.4 13.1 1.6 15.8 2.8 13.3 1.7 12.3 .8 11.5 4.7 10.3 1.8 10.2 3.3 9.9 2.3 9.7 5 .3 4.1 0 5.1 0 3.6 0 5.3 0 3.9 0 7.9 0 4.8 0 5.7 0 6.8 0 7.1 0 6.9 0 6.6 0 6.8 0 7.7 0 9.4 0 9.4 0 6.8 0 6.1 0 5.3 0 4.8 0 5.6 0 6.9 0 4 0 2.7 0 4.9 0 4.5 0 2.1 0 4.1 0 2.8 0 1.5 0 2.5-.1 2-9.6 1.2-10.4 0-10.5 0-11.2 0-11.6 0-12.6 0-12.9z" fill="#d5d7da" class="cd"/>
<path d="M1053.4 148.2l-.3-10.2-2.6-8.8-1.5-8-2.6-7.7-2.4-7.1-2.9-6.8-1.9-6.6-3.6-6.4-2.7-5.7-4-4.9-2.5-4.7-4.7-4.3-4.9-3.8-3-4.1-3.6-4.6-4.3-4.3-4.6-2.3-5-1.9-5-2.4-4.8-1.9-4.7-1.8-4.7-1.6-5 .1-4.6.3-2.2.2-3.6.5-3.5.9-3.2 1.3-2.8 1.7-2.8 2.3-3.8 3.1-5.4 2.6-4.9 2.3-2 3.6-1.9 4.2-3.9 5-3.2 4.7-3.1 5.1-1.2 5.5-2.1 6.1-3.9 6.6-1.4 6.4-1.8 6.5-2.7 6.6-.3 7.3-.9 7.6-1.8 8.2-1.4 10.2 1.2 12.8 2.4 11 .3 9.9 2.7 9.5 .8 8.8 2.7 8 2.7 7.6 2.6 7.4 2.6 7.3 2.6 6.8 2.6 5.1 4.2 0 4.2 0 3.2 0 4.2 0 4.7 0 3.4 0 4.2 0 5.1 0 4.7 0 4.4 0 4.7 0 5.3 0 6.7 0 8.6 0 6.1 0 5.6 0 5.5 0 4.8 0 3.6 0 3.3 0 4.8 0 5.2 0 3.1 0 1.8 0 3.7 0 3.2 0 1.4-4.6 2.4-6.5 2.6-7 .6-7.6 1.9-8.1 .5-8.5 .5-8.9 .5-9.3-.7-9.7 .7-10.7z" fill="#c2c6ce" class="cd"/>
<path d="M1040.2 146.6l.1-8.4-2.1-7.2-1.5-6.7-1-6.1-2.6-5.9-2.2-5.3-2.2-4.9-2.3-4.7-2-4.5-3.3-4.2-2.6-3.9-3.1-3.7-3.6-4.2-2.6-4.2-3.1-3.7-4.4-2.3-4.7-1.6-4.1-2.3-3.7-2-3.5-1.5-3.8-1.6-4.1-1.4-4.3-.1-4.4.6-3.3.2-2.9.4-2.6.8-2.4 1.1-2.3 1.5-2.7 1.7-3.2 2.2-3.2 2.9-2.8 2.9-2.6 2.9-2.7 2.7-1.6 3.3-.8 3.8-2.5 4.1-3.2 4.8-1.7 5-.5 5.1-2.4 5.4-1.9 5.5 .4 5.8-1.6 6.1 .1 6.4-1.3 7-1 8.5 1.1 10.4 1.4 8.7 2.3 7.9-.5 7.6 2.7 6.9 .7 6.8 1.2 6.3 3.8 6.3 1.9 6.3 1.7 6.1 3.1 6 2.4 5.2 2.6 4.4 2.1 4 2.9 1.6 3.7 0 3.7 0 3.8 0 3.7 0 3.7 0 3.6 0 3.8 0 4.2 0 5.2 0 6.5 0 4.7 0 4.2 0 3.8 0 3.6 0 3.7 0 4.3 0 4.3 0 2.8 0 1.8-2 3.3-4.6 2.5-4.9 1.9-5 3.3-5.1 .4-5.5 2.2-5.9 .9-6.2 1.2-6.5 .5-6.9 .3-7.2 1.5-7.5-1.4-8 .2-8.7z" fill="#b0b8c8" class="cd"/>
<path d="M1030 146.5l.4-7.7-1.7-6-1.3-5.6-1.1-5.3-1.1-5.1-2.7-4.7-1.6-4.6-2.1-4.3-2.1-4-1.7-4.1-2.7-4.1-2.7-4.4-2.4-3.9-2.9-3.2-3.3-2.1-2.9-1.9-2.6-2.1-2.9-2.2-3.4-1.7-3.9-1.4-4-1.6-4.1-1.2-4 0-4.2.6-1.2.2-2.6.4-2.6.6-2.6 1-2.3 1.4-2.3 1.5-2.2 1.9-2.3 2.2-1.9 2.6-1.1 2.9-.7 3.2-1.7 3.5-2.7 3.6-2.2 3.5-1 3.8-.2 4.3-1.7 4-2.3 4.4 .8 5-.9 5.1-.2 5.5-.3 5.8-.6 6.2-.7 7.7 1.2 9.4 .6 7.5 1.9 7.4 1.1 6.8-.1 6.2 2.5 6.3 .6 5.7 1.1 5.3 1.7 5 3.6 4.4 1.6 4.4 1 4 2.8 3.6 2.4 3.2 2.1 3 2.5 2.8 2.4 2.8 2.2 2.5 2.3 2 2.6 1.5 2.9 1.1 3.2.3 3.3 0 4 0 6.4 0 4 0 3.5 0 3.2-1.4 3.1-2.3 3.3-1.9 3.5-1.6 3-2.3 2.1-2.8 2.4-3.2 3.4-3.4 2-3.8 .7-4.2 2.3-4.7 1.5-5 1-5.2 1.3-5.5 .6-5.6 .3-5.9 2-6.2-1.5-6.5 1-6.8-.8-7.4z" fill="#a0afc7" class="cd"/>
<path d="M1018.4 147.9l.4-6.9-1-5.6-1.3-5.2-.9-4.9-.7-4.8-1.6-4.7-2.2-4.9-1.2-4.4-1.7-4.4-2-4.1-1.3-3.4-1.9-3-2.5-2.5-2.3-2.3-2.1-2.4-2.3-2.4-2.8-2.1-2.8-1.8-2.8-1.6-2.6-1.5-2.7-1.4-2.8-.9-3.1-.2-3.5.6-3.1.4-2.2.4-2.1.6-2.1.9-1.9 1.2-1.7 1.5-1.2 1.7-.8 2-.9 2.2-1.4 2.5-2.2 2.7-2.1 3.2-1.4 3.4-.5 3.5-.1 3.7-1.3 4-2.1 4.3 .3 4.3 .5 4.5-1.1 4.7 .7 5-.6 5.3 0 5.7-.5 6.9 1.2 8.1 .2 6.2 1.3 5.7 1.8 5.3 .4 5.2 0 5 2.2 4.5 1 4.4 .8 4.2 1.1 3.9 1.3 3.6 2.8 3.2 2.8 3.1 1.2 3 .9 2.9 1.8 2.7 2.4 2.4 2.4 1.9 2.2 1.5 2.1 1.2 2.2 1.2 2.3 1 2.5.9 3.1.3 3.3-.2 3.2-.3 3-.4 2.8-1 3-2 3-2.6 2.9-2.4 2.2-2.1 1.3-2.3 1.3-2.5 2.1-2.7 2.1-3.1 1.2-3.5 1.1-3.7 1.3-4 .9-4.3 .6-4.5 .5-4.7 1.8-4.9-.5-5.2-.6-5.5 1.2-5.8-1-6.3z" fill="#92a6c8" class="cd"/>
<path d="M1010.4 147.2l.5-6.1-.4-5.2-1.4-5.1-.7-4.7-.7-4.4-.6-4.2-1.6-4-1.9-3.5-1.1-3.3-1.3-3-1.8-2.7-1.5-2.6-1.3-2.6-1.6-2.5-2.2-2.4-2.3-2.2-2.1-1.8-1.9-1.5-2.1-1.5-2.3-1.4-2.4-1.3-2.6-.8-2.7-.1-3.3.5-2.4.4-1.8.5-1.6.5-1.4.8-1.3 1.1-1.4 1.3-1.5 1.5-1.9 1.8-1.9 2-1.6 2.2-1.2 2.4-.6 2.7-.1 2.9-.4 3.1-1.5 3.3-1.6 3.6 .3 3.7 .8 3.8-.8 4.1 .1 4.2 .6 4.4-.6 4.8 .5 5.1-.3 6.2 1.1 6.9 0 5.3 .9 4.9 1.3 4.6 1.6 4.2 .2 4.2-.2 4.1 1.7 3.6 1.7 3.5 .6 3.4 .8 3.2 1.1 3.1 1 2.9 1.5 2.7 2.3 2.6 2.5 2.2 2 1.8 1.6 1.6 1.3 1.3 1.3 1.2 1.5 1 1.8.9 1.9.7 2.5.4 3.7-.2 2.6-.4 2.2-.4 2-.7 2-1 2.1-1.6 2.2-2.2 2.2-2.6 1.8-2.6 1.2-2.6 1.2-2.7 1.4-2.7 1.3-2.8 1-3.1 .8-3.3 .4-3.6 .9-3.7 1.7-3.9 0-4.2-1.2-4.7 1.2-4.5 0-5-.6-5.5z" fill="#7f9acb" class="cd"/>
<path d="M1001 146.9l.2-5.5 .3-4.5-1.3-3.8-.8-3.8-.7-3.6-.5-3.4-.5-3.3-1.2-3.2-1.7-3.1-1.3-2.9-.8-2.8-1.2-2.6-1.5-2.4-1.5-2.2-1.2-1.9-1.1-1.8-1.3-1.6-1.6-1.6-1.7-1.4-1.9-1.3-1.9-1-1.9-.5-2 0-2.4.4-1.5.3-1.7.5-1.7.6-1.5.7-1.6.9-1.4 1.1-1.2 1.3-1 1.6-.8 1.8-.4 1.9-.3 2.2-.6 2.4-1.2 2.5-1.7 2.6-.7 2.8 .6 3.1 .5 3.3-.8 3.3-.3 3.5 .8 3.8-.2 3.9-.4 4.1 .5 4.5-.3 5.4 .9 4.8 .3 4.2 .1 4 .9 3.6 1.1 3.4 1.3 3.3 1.1 3.2 .1 3.1-.1 2.9 .9 2.8 1.7 2.7 1.5 2.6 .9 2.3 .8 2.1 .9 1.9 1.1 1.7 1.2 1.5 1.2 1.2 1.2 1 1.3.9 1.4.8 1.5.6 1.6.6 2 .4 3.3.1 1.9-.3 1.8-.6 1.6-.7 1.6-.8 1.6-.9 1.4-1.1 1.4-1.5 1.2-1.8 1.1-2 .9-2.3 .8-2.5 .6-2.6 .7-2.8 1.2-3.1 1.5-3.3 .4-3.2-.9-3-.2-3.3 1.2-3.9 .3-3.8-.7-3.8-.1-4.2z" fill="#6d8ec8" class="cd"/>
<path d="M993.9 147.5l0-4.1 .6-3.4-.4-3.1-1-3.1-.8-2.8-.5-2.8-.6-2.6-.6-2.4-.5-2.3-.5-2.2-1-2.1-1.2-1.9-1.4-1.8-1.2-1.7-1.1-1.6-.9-1.5-1-1.4-1.1-1.2-1.1-1.1-1.3-.8-1.3-.7-1.4-.3-1.4 0-1.8.2-.6.2-1.2.5-1.2.6-1 .6-1.1.8-1.2.9-1.3 1-1.3 1.1-1.2 1.3-1 1.5-.4 1.6 0 1.8 .2 1.9 0 2.1-.7 2.2-.7 2.3-.3 2.4 .5 2.6 .2 2.7-.5 2.8-.5 3 .4 3.1 .1 3.4-.3 4.1 .6 2.9 .6 3.2 .1 2.9 .1 2.8 .6 2.6 .8 2.6 .9 2.4 1 2.4 1 2.3 1 2.1 .6 1.9 .3 1.8 .3 1.6 .4 1.6 .8 1.3 1.1 1.2 1.3 1.1 1.3.9 1.3.8 1.2.7 1.2.6 1.3.6 1.3.4 1.5.3 1 0 1.4-.1 1.2-.4 1.2-.6 1-.7 1-.8 1-1 .9-1 1-1.2 1.2-1.2 1.2-1.4 1.2-1.6 .8-1.7 .1-1.9-.3-2.1-.3-2.1 .4-2.3 1-2.4 .7-2.6 0-2.6-.5-2.7-.1-2.9-.1-3.1z" fill="#5f84c6" class="cd"/>
<path d="M988.1 147.3l-.2-3.3 .5-2.7 .3-2.5-.5-2.4-.8-2.2-.7-2.2-.6-2-.4-2-.5-1.8-.5-1.8-.5-1.7-.5-1.6-.4-1.5-.6-1.4-.8-1.3-.8-1.2-1-1.2-1-.9-1-.9-1-.6-1-.4-1-.2-1-.1-1.2.2-2.1.5-1 .3-.9.5-.7.5-.7.6-.5.7-.3.8-.3 1-.3 1.1-.4 1.1-.6 1.3-.7 1.4-.8 1.5-.5 1.6-.1 1.8 .2 1.8 .1 2-.2 2-.6 2.1-.3 2.3 .1 2.4 .3 2.5-.1 2.7-.3 3.2 .3 1.8 .5 2.2 .5 2 .2 1.9 .1 1.7 .2 1.7 .4 1.7 .6 1.6 .7 1.5 .7 1.4 .8 1.3 .8 1.2 .8 1 .9 1 .9.9 .9.7 1 .8 .9.6 .9.6 .9.5 1 .5 .9.4 1.1.3 1.2.2 1.1.1 .9-.1 .9-.2 .7-.3 .6-.5 .5-.6 .4-.6 .3-.8 .3-.8 .3-1 .4-1 .6-1.2 .7-1.2 .8-1.2 .8-1.3 .5-1.4 .2-1.5-.1-1.7-.2-1.7-.1-1.7 .1-1.9 0-1.9-.3-2.2z" fill="#4e78b8" class="cd"/>
<path d="M983.7 147.1l-.2-1.5 0-1.3 .1-1.1 .1-1.1 .1-1.1 .1-.9-.1-1-.3-.9-.3-.9-.5-.9-.5-.9-.5-.8-.5-.7-.6-.7-.5-.7-.6-.6-.5-.5-.6-.4-.5-.4-.6-.3-.6-.2-.6-.1-.7 0-.7 0 .2 0-.7.2-.6.3-.5.3-.6.4-.5.4-.5.5-.5.6-.6.6-.4.6-.5.7-.4.7-.4.7-.3.8-.2.8-.2.9 0 .9-.1.9 0 1 0 1.1-.2 1.1-.2 1.1-.1 1.3-.1 1.5 .1.9 .3 1.2 .3 1.2 .3 1.1 .4 1 .2 1 .2.9 .2.9 .2.9 .3.8 .3.7 .3.7 .4.6 .4.6 .5.5 .5.5 .5.4 .6.4 .6.3 .5.3 .6.3 .7.2 .6.2 .8.1 1.6.3 .6 0 .7-.1 .5-.1 .6-.3 .5-.3 .5-.3 .4-.5 .4-.5 .3-.5 .2-.6 .2-.7 .2-.7 .1-.8 .1-.8 .1-.9 .2-.9 .1-.9 .2-1 0-1.1 0-1.1-.2-1.1-.3-1.3z" fill="#3c69a6" class="cd"/>
<path d="M892.6 49.2V230.5M874.5 212.4H1056M910.8 49.2V230.5M874.5 194.2H1056M929 49.2V230.5M874.5 176.1H1056M947.1 49.2V230.5M874.5 158H1056M965.2 49.2V230.5M874.5 139.9H1056M983.4 49.2V230.5M874.5 121.7H1056M1001.5 49.2V230.5M874.5 103.6H1056M1019.7 49.2V230.5M874.5 85.5H1056M1037.8 49.2V230.5M874.5 67.3H1056" stroke="#c8c8c8" stroke-width="0.7" stroke-dasharray="2.6 1.6" fill="none" opacity="0.35"/>
<path d="M965.2 49.2V230.5M874.5 139.9H1056" stroke="#e04850" stroke-width="1.7" stroke-dasharray="5.4 2.8" fill="none" opacity="0.68"/>
<text x="879" y="121.4" transform="rotate(-70 879 116.3)" style="fill:#111;stroke:#e7e8ea" class="cl">–0.2</text>
<text x="905.4" y="134.1" transform="rotate(-80 905.4 129)" style="fill:#111;stroke:#d5d7da" class="cl">–0.3</text>
<text x="921.7" y="128.6" transform="rotate(-78 921.7 123.5)" style="fill:#111;stroke:#c2c6ce" class="cl">–0.4</text>
<text x="935.3" y="176.7" transform="rotate(80 935.3 171.6)" style="fill:#111;stroke:#b0b8c8" class="cl">–0.5</text>
<text x="943.5" y="174" transform="rotate(80 943.5 168.9)" style="fill:#111;stroke:#a0afc7" class="cl">–0.6</text>
<text x="955.3" y="108.7" transform="rotate(-65 955.3 103.6)" style="fill:#111;stroke:#7f9acb" class="cl">–0.7</text>
<text x="981.6" y="98.7" transform="rotate(20 981.6 93.6)" style="fill:#111;stroke:#6d8ec8" class="cl">–0.8</text>
<text x="979.8" y="108.7" transform="rotate(0 979.8 103.6)" style="fill:#111;stroke:#6d8ec8" class="cl">–0.9</text>
<text x="978.9" y="128.6" transform="rotate(0 978.9 123.5)" style="fill:#ffffff;stroke:#4e78b8" class="cl">–1.1</text>
<text x="1050.6" y="76.1" transform="rotate(80 1050.6 71)" style="fill:#111;stroke:#e7e8ea" class="cl">–0.2</text>
<text x="1039.7" y="106.9" transform="rotate(75 1039.7 101.8)" style="fill:#111;stroke:#c2c6ce" class="cl">–0.3</text>
<text x="1036.9" y="139.5" transform="rotate(80 1036.9 134.4)" style="fill:#111;stroke:#b0b8c8" class="cl">–0.4</text>
</g>
<path d="M874.5 49.2v-5M874.5 230.5v5M874.5 230.5h-5M1056 230.5h5M892.6 49.2v-5M892.6 230.5v5M874.5 212.4h-5M1056 212.4h5M910.8 49.2v-5M910.8 230.5v5M874.5 194.2h-5M1056 194.2h5M929 49.2v-5M929 230.5v5M874.5 176.1h-5M1056 176.1h5M947.1 49.2v-5M947.1 230.5v5M874.5 158h-5M1056 158h5M965.2 49.2v-5M965.2 230.5v5M874.5 139.9h-5M1056 139.9h5M983.4 49.2v-5M983.4 230.5v5M874.5 121.7h-5M1056 121.7h5M1001.5 49.2v-5M1001.5 230.5v5M874.5 103.6h-5M1056 103.6h5M1019.7 49.2v-5M1019.7 230.5v5M874.5 85.5h-5M1056 85.5h5M1037.8 49.2v-5M1037.8 230.5v5M874.5 67.3h-5M1056 67.3h5M1056 49.2v-5M1056 230.5v5M874.5 49.2h-5M1056 49.2h5" stroke="#2a2a2a" stroke-width="1.3" fill="none"/>
<rect x="874.5" y="49.2" width="181.5" height="181.3" fill="none" stroke="#2a2a2a" stroke-width="1.4"/>
<text x="874.5" y="250.6" text-anchor="middle" class="tl">-5</text>
<text x="863.8" y="235" text-anchor="end" class="tl">-5</text>
<text x="892.6" y="250.6" text-anchor="middle" class="tl">-4</text>
<text x="863.8" y="216.9" text-anchor="end" class="tl">-4</text>
<text x="910.8" y="250.6" text-anchor="middle" class="tl">-3</text>
<text x="863.8" y="198.7" text-anchor="end" class="tl">-3</text>
<text x="929" y="250.6" text-anchor="middle" class="tl">-2</text>
<text x="863.8" y="180.6" text-anchor="end" class="tl">-2</text>
<text x="947.1" y="250.6" text-anchor="middle" class="tl">-1</text>
<text x="863.8" y="162.5" text-anchor="end" class="tl">-1</text>
<text x="965.2" y="250.6" text-anchor="middle" class="tl">0</text>
<text x="863.8" y="144.4" text-anchor="end" class="tl">0</text>
<text x="983.4" y="250.6" text-anchor="middle" class="tl">1</text>
<text x="863.8" y="126.2" text-anchor="end" class="tl">1</text>
<text x="1001.5" y="250.6" text-anchor="middle" class="tl">2</text>
<text x="863.8" y="108.1" text-anchor="end" class="tl">2</text>
<text x="1019.7" y="250.6" text-anchor="middle" class="tl">3</text>
<text x="863.8" y="90" text-anchor="end" class="tl">3</text>
<text x="1037.8" y="250.6" text-anchor="middle" class="tl">4</text>
<text x="863.8" y="71.8" text-anchor="end" class="tl">4</text>
<text x="1056" y="250.6" text-anchor="middle" class="tl">5</text>
<text x="863.8" y="53.7" text-anchor="end" class="tl">5</text>
<text x="867.1" y="36.1" class="pl">(d)</text>
<clipPath id="k10"><rect x="191.5" y="286.7" width="181.5" height="181.3"/></clipPath>
<g clip-path="url(#k10)">
<rect x="191.5" y="286.7" width="181.5" height="181.3" fill="#fdfdfd"/>
<path d="M280.1 281.3l57.7 0 0 5.9 8 6.8 5.4-5.5 7.3 7.3 1.8 14.5 9.1 4.5 2.7 13.6 6.3 1.8 0 143.2-192.3 0 0-73.4 7.2.9 5.1 3.1 3.1 9.6 1.8-8.1 2.7 0 2.2-9.1-.7-19.4 2.9-5.1 12.1-12 10.4-7.4 4.5-1.4 6-4.6 1.5-15 2.3-10.5 3.7-4.6 1.6-5.9 10.3-1.5 3.1-15 5.3-7.3 6.7 6.5 2.2-5.2z" fill="#e7e8ea" class="cd"/>
<path d="M222.4 375.5l-3.7 5.5 .9 13.6 2.8-.9 .9-9.1z" fill="#fdfdfd" class="cd"/>
<path d="M248.7 473.4l-.8-9.6-2.1-14.8 2.1-9.1 3-18 3 1.5 4.6 13.6 3.6-4.5-3.6-9.1-.8-13.4-6.8-1.5 0-16.5 5-11 2.6-4 3.8-21.4 3.6-16.7 6-6 6 2.9 3.8-16.3 5.3-9.8 6 4.6 10.3-1.7 7.6.9 9.6 19.4 6.9-5.2 5.1 21.7 5.3-6.7 7.6 18.7 7.5 4.5 14.8 2.9 1.7 8.2 2.1 5.8 6.9 5.4 0 85.2z" fill="#d5d7da" class="cd"/>
<path d="M281 344.9l4.9 3.4 7.1 3.7 8.9 10.1 5.9 2.4 4.6 12.5 1.4 19.4 6 10.5 1.7 12 1.4 18.1-1.4 36.4-21.1 0-.9-36.2-1.8-14.5-1.8 14.5-.9 36.2-2-9.6-3.1-11.9-6-8.9-2.2-9.1-3.1-22.5 .7-34.4z" fill="#c2c6ce" class="cd"/>
<path d="M327.4 421.9l2.9 4.4 3.1 22.7 4.4 2.9 3.1 21.5-16.9 0 .9-23.5-.9-14.5z" fill="#c2c6ce" class="cd"/>
<path d="M344 301.2l2.9-2.7 2.5 2.7-2.5 3.6z" fill="#fdfdfd" class="cd"/>
<path d="M200 411.8l0-1.4-.1-1.3-.2-1.1-.3-.9-.3-.6-.3-.1-.4.1-.3.6-.2.9-.2 1.1-.2 1.3 0 1.4 0 1.4 .2 1.3 .2 1.1 .2.9 .3.6 .4.1 .3-.1 .3-.6 .3-.9 .2-1.1 .1-1.3z" fill="#fdfdfd" class="cd"/>
<path d="M256.8 465.3l0-1.2-.2-1.1-.3-.9-.4-.7-.4-.5-.5-.2-.4.2-.5.5-.4.7-.2.9-.2 1.1-.1 1.2 .1 1.2 .2 1 .2 1 .4.7 .5.5 .4.1 .5-.1 .4-.5 .4-.7 .3-1 .2-1z" fill="#e7e8ea" class="cd"/>
<path d="M325.4 442.6l0-1.6-.1-1.6-.3-1.3-.3-1-.3-.6-.4-.2-.4.2-.3.6-.3 1-.3 1.3-.1 1.6-.1 1.6 .1 1.7 .1 1.5 .3 1.3 .3 1 .3.6 .4.3 .4-.3 .3-.6 .3-1 .3-1.3 .1-1.5z" fill="#d5d7da" class="cd"/>
<path d="M334 462.6l-.1-1.4-.2-1.4-.3-1.1-.3-.8-.5-.6-.4-.2-.5.2-.4.6-.4.8-.3 1.1-.2 1.4-.1 1.4 .1 1.4 .2 1.3 .3 1.1 .4.9 .4.5 .5.2 .4-.2 .5-.5 .3-.9 .3-1.1 .2-1.3z" fill="#d5d7da" class="cd"/>
<path d="M368.5 375.5l-.1-1.1-.1-1.1-.1-1-.2-.7-.2-.4-.2-.2-.3.2-.2.4-.2.7-.1 1-.1 1.1-.1 1.1 .1 1.2 .1 1.1 .1.9 .2.8 .2.4 .3.2 .2-.2 .2-.4 .2-.8 .1-.9 .1-1.1z" fill="#e7e8ea" class="cd"/>
<path d="M209.7 286.7V468M191.5 449.9H373M227.8 286.7V468M191.5 431.7H373M245.9 286.7V468M191.5 413.6H373M264.1 286.7V468M191.5 395.5H373M282.2 286.7V468M191.5 377.4H373M300.4 286.7V468M191.5 359.2H373M318.6 286.7V468M191.5 341.1H373M336.7 286.7V468M191.5 323H373M354.9 286.7V468M191.5 304.8H373" stroke="#c8c8c8" stroke-width="0.7" stroke-dasharray="2.6 1.6" fill="none" opacity="0.35"/>
<path d="M282.2 286.7V468M191.5 377.4H373" stroke="#e04850" stroke-width="1.7" stroke-dasharray="5.4 2.8" fill="none" opacity="0.68"/>
<text x="226" y="374.3" transform="rotate(-50 226 369.2)" style="fill:#111;stroke:#e7e8ea" class="cl">–0.1</text>
<text x="255.9" y="381.5" transform="rotate(60 255.9 376.4)" style="fill:#111;stroke:#e7e8ea" class="cl">–0.2</text>
<text x="292.2" y="358" transform="rotate(35 292.2 352.9)" style="fill:#111;stroke:#c2c6ce" class="cl">–0.3</text>
<text x="294" y="423.2" transform="rotate(0 294 418.1)" style="fill:#111;stroke:#c2c6ce" class="cl">–0.3</text>
<text x="362.1" y="319" transform="rotate(68 362.1 313.9)" style="fill:#111;stroke:#e7e8ea" class="cl">–0.1</text>
</g>
<path d="M191.5 286.7v-5M191.5 468v5M191.5 468h-5M373 468h5M209.7 286.7v-5M209.7 468v5M191.5 449.9h-5M373 449.9h5M227.8 286.7v-5M227.8 468v5M191.5 431.7h-5M373 431.7h5M245.9 286.7v-5M245.9 468v5M191.5 413.6h-5M373 413.6h5M264.1 286.7v-5M264.1 468v5M191.5 395.5h-5M373 395.5h5M282.2 286.7v-5M282.2 468v5M191.5 377.4h-5M373 377.4h5M300.4 286.7v-5M300.4 468v5M191.5 359.2h-5M373 359.2h5M318.6 286.7v-5M318.6 468v5M191.5 341.1h-5M373 341.1h5M336.7 286.7v-5M336.7 468v5M191.5 323h-5M373 323h5M354.9 286.7v-5M354.9 468v5M191.5 304.8h-5M373 304.8h5M373 286.7v-5M373 468v5M191.5 286.7h-5M373 286.7h5" stroke="#2a2a2a" stroke-width="1.3" fill="none"/>
<rect x="191.5" y="286.7" width="181.5" height="181.3" fill="none" stroke="#2a2a2a" stroke-width="1.4"/>
<text x="191.5" y="488.1" text-anchor="middle" class="tl">-5</text>
<text x="180.8" y="472.5" text-anchor="end" class="tl">-5</text>
<text x="209.7" y="488.1" text-anchor="middle" class="tl">-4</text>
<text x="180.8" y="454.4" text-anchor="end" class="tl">-4</text>
<text x="227.8" y="488.1" text-anchor="middle" class="tl">-3</text>
<text x="180.8" y="436.2" text-anchor="end" class="tl">-3</text>
<text x="245.9" y="488.1" text-anchor="middle" class="tl">-2</text>
<text x="180.8" y="418.1" text-anchor="end" class="tl">-2</text>
<text x="264.1" y="488.1" text-anchor="middle" class="tl">-1</text>
<text x="180.8" y="400" text-anchor="end" class="tl">-1</text>
<text x="282.2" y="488.1" text-anchor="middle" class="tl">0</text>
<text x="180.8" y="381.9" text-anchor="end" class="tl">0</text>
<text x="300.4" y="488.1" text-anchor="middle" class="tl">1</text>
<text x="180.8" y="363.7" text-anchor="end" class="tl">1</text>
<text x="318.6" y="488.1" text-anchor="middle" class="tl">2</text>
<text x="180.8" y="345.6" text-anchor="end" class="tl">2</text>
<text x="336.7" y="488.1" text-anchor="middle" class="tl">3</text>
<text x="180.8" y="327.5" text-anchor="end" class="tl">3</text>
<text x="354.9" y="488.1" text-anchor="middle" class="tl">4</text>
<text x="180.8" y="309.3" text-anchor="end" class="tl">4</text>
<text x="373" y="488.1" text-anchor="middle" class="tl">5</text>
<text x="180.8" y="291.2" text-anchor="end" class="tl">5</text>
<text x="187.1" y="274.7" class="pl">(e)</text>
<text x="160.0" y="377.4" transform="rotate(-90 160.0 377.4)" text-anchor="middle" class="at">Distance along TC track (×100 km)</text>
<clipPath id="k11"><rect x="419.3" y="286.7" width="181.5" height="181.3"/></clipPath>
<g clip-path="url(#k11)">
<rect x="419.3" y="286.7" width="181.5" height="181.3" fill="#e7e8ea"/>
<path d="M611.7 391.2l0-17.7 0-14.7 0-13.4 0-12.9 0-11.9 0-10.7 0-11.1 0-11.1-3.4-10.2-7.8-1.7-5.9 0-5.6 0-3.1 0-7.2 0-5.7 0-8.1 0-8.6 0-6.7 0-7.4 0-8.6 0-8.8 0-9 0-9.4 0-11.1 0-8.3 0-9.9 0-9.2 0-8.6 0-7.5 0-7.4 0-8.5 0-7 0-4.6 0-6.6 0-3.9 0-4.3 0-1.1 0 0 2 0 10 0 10.2 0 11.3 0 11.2 0 12.2 0 12.9 0 13.5 0 14.8 0 17.9 0 20.3 0 17 0 15.6 0 14.8 .4 13.5 3.7 5.9 4.6 0 3.6 0 8.7 0 3.5 0 6.8 0 3.4 0 10.5 0 4.5 0 8.2 0 8.6 0 5.4 0 8.6 0 9.5 0 8.9 0 8.4 0 8.5 0 9.4 0 11.7 0 13.6 0 8.3 0 7.4 0 7.1 0 8.1 0 7.8 0 2.9 0 3.6 0 7.6 0 0-7.2 0-13.6 0-14.5 0-15.9 0-16.6z" fill="#d5d7da" class="cd"/>
<path d="M611.7 392.5l0-12.5-.6-11.2 .6-9.2-3.4-9.4 3.3-8.5-7.1-7.8-4-7.8-2.6-7.7-6.8-7-1.5-6.5-3.3-5.9-6.4-5.8-2.9-6.1-4-6.3-6.4-4.2-6.8-.8-6.9 0-6.9 0-6.5 0-6.5 0-6.7 0-7.1 0-7.7 0-9.2 0-8 0-8 0-7.4 0-6.7 0-6.2 0-5.7 0-5.8 0-7.1 0-7.6 1.9-4.6 5-1.9 4.9-5.1 4.5-4.2 5.6 .2 6.2-3.6 6.7-5.3 7.5 .6 7.3-3.2 8.3-2.6 8.6 1.9 8.3-2 9.3 4 8.9-4.7 11 3.8 12 3.7 17.7 1 14.1 1.9 12.9 3.1 11.5 3 10.9 4.3 11 3.6 9 3.1 0 5.4 0 3.4 0 6.2 0 6.2 0 4.3 0 7.2 0 4.4 0 4.6 0 7.5 0 9.3 0 7.5 0 5.7 0 6.1 0 7.3 0 8.3 0 10 0 11.4 0 7.1 0 6 0 5.6 0 5.9 0 6.7 0 7.2 0 5.2 0 1.9 0 4.5 0 3.9 0-.6 0 6.7 0 0-8.1 0-10.9 0-11.6 0-12.2 0-13.1 0-13.9z" fill="#c2c6ce" class="cd"/>
<path d="M599 391.9l1.8-10.5-6.4-9.2-.1-8.1-1.5-7.6-2.8-7.1 2.7-7.2-5.6-6.1-5.3-6.1-2-6.1-3.4-6.5-6.1-6.8-3.2-4.4-1.2-4.2-4.2-3-6-3.8-4.5-3.4-3.4-3.2-3.8-3.2-4.8-2.5-5.5-1.7-5.9-2.8-6.1-.3-6.4.3-7.5-.6-10.8.1-5.9.5-5.4 1.1-4.6 2.3-3.8 1.9-2.9 1.6-3.1 2-4.3 2.8-5 3.5-3 4.1-.6 4.4-1.2 4.9-4.1 6.2-4.5 5.7-.7 5.5 .7 6.1-5.3 5.2-.5 6.6 2.1 7.3-3.3 6.9 3.6 8.2-.1 8.1-3.2 8.3 3.5 11.2 3.5 14.2-.7 11.8 4.4 11-.8 10.4 3.6 9.8 2.3 9.4 4.8 8.8 2 8.4 3 2.8 2.7 0 4.3 0 4.5 0 1.5 0 6.1 0 6.3 0 2.8 0 3.9 0 5.7 0 5.7 0 5 0 4.8 0 5 0 5.5 0 6.9 0 7.4 0 5.8 0 5.4 0 5.6 0 5.8 0 5 0 2.4 0 1.1 0 4.4 0 6.2 0 3.5 0 3.1 0 3.1 0 1 0-.1 0 2.8-2.9-1.2-8.8 4-8.5 .2-9.4 2-9.9-5.3-10.6 2-10.7-.5-11.9z" fill="#b0b8c8" class="cd"/>
<path d="M589.9 392l1.9-10.3-5.6-7.9-1.6-7.6 .5-7.3-4.6-6.9 2.9-6.6-2.5-6.4-6.2-7.5-3.1-6.5-1.8-5.5-4.3-4-5.5-3.4-2.5-4.5-1.3-4.1-3.6-3.6-5.4-3.4-5-3.6-3.8-2.5-3.6-2-3.9-2.6-4.4-2.2-5 0-5.4.2-6.7-.5-9.2-.1-3.8.7-3.3 1-2.9 1.3-2.9 1.8-3.4 2.6-4.1 3.2-3.6 2.6-1.8 2.9-.1 3.6-.7 3.9-3.1 3.8-4 4.6-1.8 5.1 1.4 5.3-1.9 5.8-4.5 6.1 2.8 6.2-.3 6.6-1.8 7.1 4.1 7.2-1.2 7.8-2.3 8.4 3.3 10.1 2.4 13 .1 10 2.6 9.5 2.3 9.1-.6 8.3 3.5 8.3 .7 7.7 5.6 6.7 1.5 6.7 2.4 6.2 2.7 2.5 2.3 0 2.8 0 3.7 0 4.4 0 2.8 0 1.9 0 3.1 0 4.7 0 5.2 0 4.9 0 4.6 0 4.5 0 5.3 0 2.5 0 5.8 0 5.7 0 5.4 0 4.9 0 4.2 0 3.6 0 3.7 0 3.8 0 3.3 0 2.2 0 .4 0 2.1 0 2.9-1.8-.9-6.2 3.6-8.1 1.6-7.7 1.4-7.8 2.2-8-4-8 .4-8.9-1.5-8.8 3.4-10.8z" fill="#a0afc7" class="cd"/>
<path d="M569 390.2l1.9-8.8-3.2-6.9-4.8-5.2 2.1-7-2-5.4-3.4-5.3 2.6-5.7-.5-5.1-5-4.9-4.3-4.6-2.1-4.3-1.5-4.2-2.7-4.1-4.3-4-4.2-3-2.7-2.8-1.7-2.7-1.6-2.7-2.5-2.5-3.2-1.9-3.7-.5-4 .1-4.1-.5-4.7-.4-6.1 0-3 .4-2.5.9-2 1.3-1.6 1.6-1.2 1.9-1.4 2.2-2.1 2.4-3 3-3.3 3.7-2.8 4-.7 3.8 1 4.1-.8 4.4-4.2 4.2-1.8 4.5 3.1 6-.6 5.3-2.4 5.2 2.8 6.7 2 6.6-3.2 6.2-.1 7.2 2.6 9.3 .8 9.8 2.7 8-.5 7.8 3.2 7 1.5 6.8-.8 6.7 2.9 6.1 1.2 5.8 1.6 5.5 4.7 5.4 2.2 5.6 1.2 5.1 2.4 4.9 2.6 1.7 2.1 0 2.2 0 2.5 0 2.6 0 2.9 0 3.1 0 3.3 0 3.4 0 3.5 0 4 0 6 0 3.8 0 3.5 0 3.2 0 2.8 0 2.3 0 1.6 0 1.3 0 1.9 0 3.1 0 2.2-2.1-.2-4.4 .9-4.8 3.8-5.2 1.4-5.4 .2-5.7 2.9-6.1 .6-6.3-3.5-6.6-.7-6.9 1.8-7.4-3-7.7 4.9-8.4z" fill="#92a6c8" class="cd"/>
<path d="M554.5 392.4l1.6-7.1-.6-5.8-4.7-5.3-2.6-5.2 1.8-4.8-.3-4.6-3.8-4.8-1.3-4.4 1.8-3.7 .6-3.7-2.5-3.9-4-3.6-3.6-2.8-2.6-2.9-1.8-2.9-1.6-2.7-1.7-2.5-2-2.2-2.4-1.4-2.7-.6-2.8-.3-3-.4-2.9-.5-3.4-.3-2.5 0-2.3.4-2.2.6-2 .9-1.8 1.3-1.4 1.5-.7 1.9-.2 2.1 0 2.3-.8 2.6-2.4 2.9-3.4 2.9-2 3.3 1.1 3.5 2 3.9-.6 4-2.4 4.1-.1 4.4 2.7 4.8 1.6 5-1.9 5-2.7 5.3 2.3 5.9 1.4 7.2-.6 7.4 4.3 6.9-1 6.2 .8 6.1 2.6 6.2 1.8 5.9-.5 5.1 .2 5 2.5 5.1 1.5 4.5 .4 4.1 2 3.6 3.6 2.9 2.7 3.4 1.4 3.3 1.1 3 1.4 2.8 1.9 2.5 2.1 1.8 2.1 1.3 2.1 0 2.1 0 2.3 0 2.6 0 2.7 0 2.8 0 2.6-.6 2.4-.9 1.9-1.1 1.4-1.6 .7-2 .8-2.4 1.7-2.6 2.8-3.1 2.8-3.3 1.1-3.5 .2-3.9 1.4-4 2.5-4.4 1-4.6-1.8-5-2.7-5.3 .6-5.4 1.9-5.6-2.8-6.1 1.6-6.2 2.7-6.8z" fill="#7f9acb" class="cd"/>
<path d="M541.8 391.8l1.1-5.7 .8-4.6-2.3-4.6-3.9-3.9-2.1-3.9 1-3.7 1.2-3.7-1.3-3.3-2.9-3.4-1.9-3.5 .2-2.8 1.3-2.4 .6-2.4-.8-2.5-2-2.5-2.5-2.5-2.6-1.9-2.4-1-2.2-.6-2-.6-1.9-.6-1.8-.5-1.8-.4-2.1-.3 1.2.2-1.5.3-1.5.5-1.6.7-1.9 1-2 1.2-2 1.4-1.7 1.6-.8 1.9 .3 2.1 1.1 2.3 1.1 2.5-.3 2.7-1.6 2.9-1.7 3-.2 3.3 1.6 3.4 2.1 3.6 .7 3.8-1.5 3.9-2.5 4.1-.4 4.4 3 4.7 .5 5.8-1.8 6.1 2.9 5.1 2.7 4-.3 4.2-.7 4.1 .8 3.6 1.7 3.2 1.9 3.1 1.4 3.2 .5 3.1-.1 2.9 0 2.7 .7 2.5 1.5 2.6 1.7 2.5 1.6 2.3 1.3 1.9 1 1.6 .9 1.2 1 1 1 .6 1.3.4 1.3.1 1.7-.1 3.5-.4 1.7-.5 1.6-.7 1.5-1 1.5-1.3 1.7-1.3 1.7-1.5 1.8-1.5 1.6-1.6 1.2-1.9 .6-2.2-.3-2.6-.9-2.8-1.3-3.1-.7-3.2 .9-3.1 1.9-3 .6-3.5-1.7-4.1-1.1-4.1 2.4-3.8 2.8-4-1.7-4.9z" fill="#6d8ec8" class="cd"/>
<path d="M527.8 390.7l.3-3.1 .8-2.4 .7-2.3 0-2.2-.7-2.3-1.4-2.3-1.8-2-2-1.5-1.6-1.4-1-1.3-.5-1.5 .1-1.5 .3-1.4 .4-1.4 .2-1.2 0-1-.3-.8-.4-.7-.7-.5-.7-.4-.7-.3-.8-.2-.7-.1-.9-.1-2.3 0-.5.2-.3.3-.2.4-.1.6 .1.7 .2.8 .3.9 .4 1 .4 1.2 .4 1.3 .2 1.3 0 1.5-.4 1.6-.7 1.6-1.1 1.7-1.3 1.8-1.1 1.9-.6 2 .4 2.2 1.2 2.3 1.6 2.4 1 2.7-.5 3.1-1.4 2.4-.4 2.6 1.1 2.5 1.8 2.7 1.7 2.6 1 2.2 .4 2-.2 1.9-.4 1.7-.2 1.6 0 1.6 .4 1.5 .5 1.4 .6 1.3 .8 1.2 .7 1 .8.9 .7.7 .7.5 .6.5 .6.3 .6.2 .6.1 .7 0-2.3.3 .7-.3 .8-.5 .7-.5 .8-.7 .8-.7 .8-.9 .8-1 .5-1 .4-1.2 0-1.2-.3-1.4-.6-1.4-.7-1.5-.4-1.7 .3-1.7 1-2 1.7-2 1.7-2.2 1-2.3-.3-2.2-1.4-2.3-2-2.4z" fill="#5f84c6" class="cd"/>
<path d="M510 381l0-2.1-.1-2-.3-1.7-.3-1.3-.3-.8-.4-.3-.4.3-.3.8-.3 1.3-.3 1.7-.1 2-.1 2.1 .1 2.1 .1 2 .3 1.6 .3 1.3 .3.9 .4.2 .4-.2 .3-.9 .3-1.3 .3-1.6 .1-2z" fill="#6d8ec8" class="cd"/>
<path d="M542.2 422.7l-.1-3.8-.2-3.5-.4-3-.4-2.3-.5-1.4-.6-.5-.6.5-.5 1.4-.4 2.3-.4 3-.2 3.5-.1 3.8 .1 3.7 .2 3.5 .4 3 .4 2.3 .5 1.5 .6.5 .6-.5 .5-1.5 .4-2.3 .4-3 .2-3.5z" fill="#6d8ec8" class="cd"/>
<path d="M437.4 286.7V468M419.3 449.9H600.8M455.6 286.7V468M419.3 431.7H600.8M473.8 286.7V468M419.3 413.6H600.8M491.9 286.7V468M419.3 395.5H600.8M510.1 286.7V468M419.3 377.4H600.8M528.2 286.7V468M419.3 359.2H600.8M546.4 286.7V468M419.3 341.1H600.8M564.5 286.7V468M419.3 323H600.8M582.6 286.7V468M419.3 304.8H600.8" stroke="#c8c8c8" stroke-width="0.7" stroke-dasharray="2.6 1.6" fill="none" opacity="0.35"/>
<path d="M510.1 286.7V468M419.3 377.4H600.8" stroke="#e04850" stroke-width="1.7" stroke-dasharray="5.4 2.8" fill="none" opacity="0.68"/>
<text x="444.7" y="317.2" transform="rotate(-80 444.7 312.1)" style="fill:#111;stroke:#c2c6ce" class="cl">–0.3</text>
<text x="451.1" y="347.1" transform="rotate(-78 451.1 342)" style="fill:#111;stroke:#b0b8c8" class="cl">–0.4</text>
<text x="436.5" y="467.7" transform="rotate(80 436.5 462.6)" style="fill:#111;stroke:#c2c6ce" class="cl">–0.5</text>
<text x="485.5" y="431.4" transform="rotate(72 485.5 426.3)" style="fill:#111;stroke:#92a6c8" class="cl">–0.6</text>
<text x="491.9" y="377.9" transform="rotate(-85 491.9 372.8)" style="fill:#111;stroke:#7f9acb" class="cl">–0.7</text>
<text x="518.2" y="363.4" transform="rotate(0 518.2 358.3)" style="fill:#111;stroke:#6d8ec8" class="cl">–0.9</text>
<text x="533.6" y="365.2" transform="rotate(60 533.6 360.1)" style="fill:#111;stroke:#6d8ec8" class="cl">–0.8</text>
<text x="555.4" y="408.7" transform="rotate(0 555.4 403.6)" style="fill:#111;stroke:#7f9acb" class="cl">–0.8</text>
<text x="588.1" y="324.4" transform="rotate(60 588.1 319.3)" style="fill:#111;stroke:#c2c6ce" class="cl">–0.3</text>
<text x="575.4" y="332.6" transform="rotate(60 575.4 327.5)" style="fill:#111;stroke:#b0b8c8" class="cl">–0.4</text>
</g>
<path d="M419.3 286.7v-5M419.3 468v5M419.3 468h-5M600.8 468h5M437.4 286.7v-5M437.4 468v5M419.3 449.9h-5M600.8 449.9h5M455.6 286.7v-5M455.6 468v5M419.3 431.7h-5M600.8 431.7h5M473.8 286.7v-5M473.8 468v5M419.3 413.6h-5M600.8 413.6h5M491.9 286.7v-5M491.9 468v5M419.3 395.5h-5M600.8 395.5h5M510.1 286.7v-5M510.1 468v5M419.3 377.4h-5M600.8 377.4h5M528.2 286.7v-5M528.2 468v5M419.3 359.2h-5M600.8 359.2h5M546.4 286.7v-5M546.4 468v5M419.3 341.1h-5M600.8 341.1h5M564.5 286.7v-5M564.5 468v5M419.3 323h-5M600.8 323h5M582.6 286.7v-5M582.6 468v5M419.3 304.8h-5M600.8 304.8h5M600.8 286.7v-5M600.8 468v5M419.3 286.7h-5M600.8 286.7h5" stroke="#2a2a2a" stroke-width="1.3" fill="none"/>
<rect x="419.3" y="286.7" width="181.5" height="181.3" fill="none" stroke="#2a2a2a" stroke-width="1.4"/>
<text x="419.3" y="488.1" text-anchor="middle" class="tl">-5</text>
<text x="408.6" y="472.5" text-anchor="end" class="tl">-5</text>
<text x="437.4" y="488.1" text-anchor="middle" class="tl">-4</text>
<text x="408.6" y="454.4" text-anchor="end" class="tl">-4</text>
<text x="455.6" y="488.1" text-anchor="middle" class="tl">-3</text>
<text x="408.6" y="436.2" text-anchor="end" class="tl">-3</text>
<text x="473.8" y="488.1" text-anchor="middle" class="tl">-2</text>
<text x="408.6" y="418.1" text-anchor="end" class="tl">-2</text>
<text x="491.9" y="488.1" text-anchor="middle" class="tl">-1</text>
<text x="408.6" y="400" text-anchor="end" class="tl">-1</text>
<text x="510.1" y="488.1" text-anchor="middle" class="tl">0</text>
<text x="408.6" y="381.9" text-anchor="end" class="tl">0</text>
<text x="528.2" y="488.1" text-anchor="middle" class="tl">1</text>
<text x="408.6" y="363.7" text-anchor="end" class="tl">1</text>
<text x="546.4" y="488.1" text-anchor="middle" class="tl">2</text>
<text x="408.6" y="345.6" text-anchor="end" class="tl">2</text>
<text x="564.5" y="488.1" text-anchor="middle" class="tl">3</text>
<text x="408.6" y="327.5" text-anchor="end" class="tl">3</text>
<text x="582.6" y="488.1" text-anchor="middle" class="tl">4</text>
<text x="408.6" y="309.3" text-anchor="end" class="tl">4</text>
<text x="600.8" y="488.1" text-anchor="middle" class="tl">5</text>
<text x="408.6" y="291.2" text-anchor="end" class="tl">5</text>
<text x="417.9" y="273.6" class="pl">(f)</text>
<clipPath id="k12"><rect x="646.9" y="286.7" width="181.5" height="181.3"/></clipPath>
<g clip-path="url(#k12)">
<rect x="646.9" y="286.7" width="181.5" height="181.3" fill="#d5d7da"/>
<path d="M839.3 385.3l0-15.3 0-13.2 0-12.2 0-12.1 0-11.8 0-11.5 0-10.7 0-10.1 0-9.3-.3-3.3-4.3 0-2.7 0-6.5 0-4.2 0-6.2 0-6.9 0-3.8 0-7.4 0-7.7 0-4.8 0-6.3 0-8.4 0-9 0-9.5 0-3.9 0-7.5 0-7.7 0-6.1 0-4.6 0-7.5 0-9 0-5 0-6.7 0-7.7 0-2.5 0-9.8 0-4.2 0-3.4 0-7.7 3.5-5.3 9.9-2.8 10.8-4.1 10.8-6.2 9-.9 11.6-2.7 12.6 0 12.9 0 13.2 0 15.1 0 17.2 0 14.8 0 13.9 0 13.2 0 12.6 1.5 11.9 4.3 10.1 2.3 0 1.7 0 5.9 0 3.8 0 6.3 0 5.2 0 6.3 0 4.5 0 8.7 0 6.5 0 6.4 0 9.4 0 6.4 0 6.6 0 8.4 0 9.4 0 10.6 0 9.8 0 8.8 0 8.3 0 6.1 0 5 0 10 0 6.4 0 3.1 0 9.3 0 2.1 0 7.6 0 4.5 0 3.7 0 4.4 0 0-10.1 0-12.2 0-12.8 0-13 0-13.3 0-14.8z" fill="#c2c6ce" class="cd"/>
<path d="M839 386.3l.3-13.1-1.1-11-2-10.4-2.2-10.3 1.2-9.7-2.6-9.8-2.7-9.7-.6-8.8-5.7-8.7-.7-7.9-5-7.6-2.1-3.5-4.1 0-6.1 0-3.6 0-2.5 0-7 0-4.9 0-4.6 0-5.6 0-6 0-6.3 0-6.6 0-7.4 0-2.4 0-5.6 0-6 0-6.2 0-5.7 0-3.9 0-3.3 0-7.8 0-6.1 0-3.9 0-5.7 0-2.8 0-6.3 5.1-4.5 5.7-3.1 7.3-4.4 9.7-3.3 9.2-5.7 7.9 .8 9.5-4.3 10-3.3 10.5-2 10.6-2.4 11.5-.4 12.9-.1 15 2 12.4 .6 11.8-.7 11.5 2.8 10.6 1 10.5 3.9 10.2 2.5 9.6 .5 1.6 6.8 0 2.2 0 5.3 0 3.2 0 4.7 0 6.1 0 5.9 0 3.8 0 6.4 0 7.4 0 5.1 0 5.1 0 6.6 0 7.7 0 8.5 0 9.9 0 7.1 0 6 0 4.1 0 3.4 0 6.3 0 6.7 0 5 0 4.2 0 3.6 0 3.8 0 6.4 0 1.5 0 2.9 0 5.9 0 1-1.7 1.4-10.2 3-10.6 1.5-10.2 1.1-10.6 1.1-11 1.5-11.4 0-12.7z" fill="#b0b8c8" class="cd"/>
<path d="M826.3 385.2l-.3-11.5-2.1-10.2 .4-9.5-.4-9.2-.7-8.8-3.2-8.6-1.1-8.2-2.6-7.6-.8-7.3-4.8-6.5-.6-6.6-5.9-6.8-1.7-5.6-2.3-3-5.7 0-2.4 0-6.5 0-5.1 0-2.3 0-3.3 0-5 0-5.8 0-5.9 0-6.4 0-1.6 0-5 0-5.6 0-5.7 0-4.5 0-2.8 0-4.3 0-5.7 0-1.5 0-4.4 0-5.4 3.2-2 5.3-5.6 6.9-1.4 6.7-3.6 6.9-2.9 7.7-4.7 8.2 1.2 8.2-5.7 6.6-1.2 8.4-.9 9.1-1.3 9.6-2.9 11.1 .3 11.5 .6 13-.3 10.9-1.2 10.3 2.4 9.8 1 9.4 2.8 8.5 1.2 8.5 2 8.2 1.7 8 5.9 7.1-1.3 0 7.1 0-.4 0 7.3 0 3.3 0 2.9 0 4.2 0 4.5 0 5.1 0 5.4 0 5.6 0 5.7 0 5.8 0 6.5 0 6.2 0 5.3 0 4.9 0 4.3 0 4.3 0 4.7 0 4 0 4.7 0 5.8 0 1.1 0 6.2 0-.1 0 6.6 0-.3 0 6.2-5.7-.8-8 3.6-8.2 1.3-8.7 1.9-9 2.1-9.4 1.2-10.1-1.7-10 .7-11z" fill="#a0afc7" class="cd"/>
<path d="M813.6 385.4l-1.2-10.2-.9-9 2.4-8.8-2.9-7.9-2.6-8.1 2.7-7.3-4.7-7.8-.8-7-2.5-6.5-1.3-6.1-1.7-5.4-5.2-4.8 .5-5.2-5.6-5-4.2-5.1 .5-3.8-3.9-1.6-5.6 0-3.4 0-2.9 0-3.9 0-4.7 0-5 0-5.3 0-3.5 0-3.9 0-3.8 0-3.1 0-1.9 0-1.9 0-4.5 0-5.2 1.8-1.4 3.8-2.9 3.8-4.9 5-.6 5.3-3.3 6.4-2 5.8-2.5 5.6-4.1 5.9 1 6.9-3.8 7.7-.3 7.6-2.9 8.2-.9 8.1 .4 8.6-2.7 8.9 .7 10.4 .3 10.8-3.1 8.7 4.3 9.4 .1 8.3 0 8 1.3 7.9 2 7.5 2.6 6.8-.2 6.7 3.2 5.4 1.9 5.6 3 5.7 3.9 2.5-.8 0 5.7 0 3.7 0 .4 0 3.6 0 5.7 0 5 0 4 0 3.7 0 4 0 4.8 0 5.4 0 4.2 0 3.5 0 3 0 3.7 0 5.4 0 4.8 0 .8 0 2.5 0 6.7 0 .2 0 4.2-2.3 3.3-4.9-.1-6 3-6.9 3.9-7.9-.2-7 1.8-7.3 2.3-7.1-.7-8.2 2.6-7.4 .2-8.6-.4-9.3z" fill="#92a6c8" class="cd"/>
<path d="M802.7 385.1l-1.9-8.7 1.6-8.3-.4-7.5-2-6.7 .5-7.1-3.6-5.9 2.8-6.9-4.5-5.5-.7-5.8-2.4-5.6-1.8-5.4-1.1-5-1.7-4.8-5-5.5-1.9-4-.3-3.5-4.2-1.9-5.6-2.5-3.4-3.1-1.7-2-1.7-1.3-2.6-.5-3.3-.3-4.2-.1-6.3.1-3.1-.4-2.8.8-2.2 1.9-1.7 2.4-2.4 2.8-4.1 2.2-3.7 2.9-1.2 3.6-1.4 4.1-3.1 4.1-1.6 4.2-2.1 4.5-2.3 5.3-3.7 6.6 2.4 5.1-3.9 7.1-.5 6.5-2.5 6.2 .5 7.1-1.6 6.7 .1 7.6-1.8 7.4 1.2 9.4-.2 9.1-2.3 8.8 4.5 7.2-3 7.6 3.9 7.1-1.3 6.7 1.5 6.8 2 6.7 2.3 6.4 .3 5.7 .8 5.4 4.2 4.3 .3 4.7 3.1 3.9 4.5 3.1-.1 0 .9 0 4.4 0 4.7 0 3.1 0 2.2 0 2.2 0 2.9 0 3.7 0 6.5 0 3.2 0 2.5 0 2 0 2.7 0 4.6 0 5.3 0 2.1 0 .3 0 4.8-1.8 3.6-4.5-.6-4.6 2.3-5.6 2.9-6.1 3.1-5.5-.2-6 2.2-5.7 .6-6.4 1-6.7 3-7.3-2.3-7.2 2.3-8.1 0-8.2z" fill="#7f9acb" class="cd"/>
<path d="M793.6 386.4l-2.1-8.2 2.9-6.9-3.3-6.9 2.4-6.2-3.3-6.4 .4-5.9-3-6.1 2.7-5.1-3.9-5.7-1.5-5.3-1.3-5-2.3-4.8-1.6-4-1.4-3.4-1-3.1-2.8-2.2-4.1-3-3.1-3.2-1.6-2.2-1.3-1.6-1.9-.9-2.7-.5-3.1-.4-3.5 0-6.2-.1-2.9-.3-2.5.6-2 1.6-1.5 2.2-1.5 2.5-2.2 2.6-2.7 2.4-1.9 2.7-1.4 3.4-1.9 3.9-1.9 4.3-3.1 4.2-1.1 4.4 2.1 5.3-4.2 4.4-.3 5.4-1.4 5.6-.5 6-.8 6.3 .6 6.3-1.3 6.9-.9 7.4 1.5 7.7-.9 8 1.4 6.2-3.1 6 4.9 5.3-2.1 5.9 1.6 5 2.1 4.6-1 5.1 1.6 4.3 1.2 4.2 2 4 2.4 3.7 1.8 3.6 1.2 3.4 .6 3.1 1.3 3 2.8 3.4 3.4 3.1 2.8 1.6 2.2.8 2 .6 2.1.7 2.4.8 3 .4 5.4-.8 2.7-.5 2.3-.7 1.9-1.3 2-1.9 2.3-2.1 2.7-1.8 2.7-1.5 2.6-2 3.2-3.1 2.7-3.7 .5-3.7 1.4-3.8 2.5-4.1 0-4.4 2.4-4.8 1.1-5.1 .2-5.1 3.8-6.1-2.9-4.9 2.5-6.3-1.1-5.8 2.4-6.5z" fill="#6d8ec8" class="cd"/>
<path d="M786.4 385.6l-2.1-7.4 2.4-5.3-1.9-6.2 .1-5.4 .6-5-3.1-5.8 1-4.6-3.3-4.9 .2-4.4 1.3-4.1-3.4-3.6-2.5-2.8-.6-3.2-1.7-2.9-2.3-3.1-1.9-3.1-1.7-2.8-1.9-2.1-1.8-1.6-1.7-1-1.9-.8-2.2-.6-2.4-.4-2.8 0-3.7.3-2.1 0-2 .2-1.8.6-1.9 1.3-1.9 2.1-1.8 2.6-1.7 2.7-2 2.7-2.8 2.4-1.9 2.9 1.2 3.6 .4 3.7-3.8 3.8-1.6 4.4 .7 4.3-2.5 4.8 .2 4.8-.7 5-.5 5.2 .6 5.4-1.8 5.5-.5 5.8 1.6 7.1-.9 5.2 1.5 5.2-2.1 5.3 .2 4.8 4.1 4.4-2.2 4.6 .6 4.2 3.2 4.1-.3 3.9-.1 3.7 1.5 3.6 1.3 3.4 1.3 3.3 2 3.5 2.1 3.4 1.9 2.7 1.7 2.1 1.6 1.4 1.5 1 1.4.9 1.5.7 1.7.7 2 .7 2.5.3 3.4-.4 2.6-.8 2.6-.6 2.7-1 2.7-1.6 2.7-2 2-1.7 1.2-1.8 .8-2 1.8-1.9 2.5-2.1 1.3-3 .2-3.3 2.2-3.8 2.2-3.9-.8-3.9 2.2-4.2 2.8-4.2-2.4-4.6 1.2-4.6 1-4.8-.6-5.1 2.3-5.4z" fill="#5f84c6" class="cd"/>
<path d="M779.1 384.5l-1.9-5.4 1.3-5.7 .7-5.1-2.9-3.9 2.4-5.3-1.3-4-2.4-3.5 1-4.3-2.3-3.3-1.9-3.7 1.6-3.4 .1-3.2-2.9-3.3-2.7-3.5-1.1-2.8-.9-2.3-1.4-2-1.8-1.4-2-1.1-1.9-1.1-1.8-.9-1.9-.6-1.9-.3-2.3.1-1.1.1-1.8.2-1.8.2-1.7.4-2 .8-2.2 1.7-2.1 2.4-1.3 2.4 .1 2.3 1 2.2-.8 3-3.2 3.4-2.3 2.9 .6 3.5-.7 3.5-2.2 3.6 .4 4-.3 4.2-1.3 4.4 1.1 4.6-1.1 4.7-1.1 5.1-.4 5.3 1.6 5.9-.7 4.3 .6 4.4 .7 4.2-2.6 3.8 .7 3.8 3.9 4.2 0 3.5-1.8 2.9 1.3 3.5 2.9 4 1 3.2-.3 2.6 .2 2.6 1.3 2.6 1.5 2.3 1.3 1.9 1.3 1.4 1.3 1 1.6.7 1.7.7 1.7.8 1.8.8 1.8.6 2.1.1 1.6-.3 2.1-.7 2.1-.7 2.1-.7 2-1 1.9-1.4 1.3-1.7 .9-1.8 .8-2.1 1.5-2.2 2.3-1.9 2-1.8 .1-2.6-.1-2.9 2.3-2.3 2.9-2.9-.6-3.3-1.6-3.6 1.8-3.5 1.2-3.9-1.1-3.9 1.5-4.3 1.3-4.5z" fill="#4e78b8" class="cd"/>
<path d="M771.9 386l-1.5-5.2-.4-4.4 2.4-3.6-1.2-4.1-2.3-4.4 1.8-3.1 .6-3.3-2.7-4.1-1.3-3.4 .7-2.9-.9-3-2.4-2.6-1.4-2.3 .5-2.4 .8-2.2-.3-1.8-1.5-1.4-2.1-1-2.1-1.1-1.9-.9-1.5-.8-1.5-.4-1.5-.2-1.7 0 .8 0-1.1.4-.9.6-.9.7-1 .7-1.6.8-2.2.8-2.3 1.4-1.8 2.3-.4 2.2 .3 2.2-.5 2.6-1.8 3.2-1.4 3.1 .3 3 .1 3.1-1.4 3.5-.4 3.4 .9 3.6-.7 3.8-1.4 3.8-.4 4-.1 4.3 1.5 5.1-.3 3.9-.5 3 1 3.4 .8 3.2-1.4 2.3-1.5 2.1 1 3 2.9 3.3 2.1 2.4 0 2.2-1.1 2.2-.4 2 1 1.8 1.9 1.3 2 .9 1.6 1 1.2 1 .8 1.1 .7.9 .7.9 .9.7 1 .6 1.2.3 1.5.1 2.8-.4 1.5-.5 1.3-.5 1.2-.6 1-.7 .7-.9 .6-1 .6-1.2 1-1.5 1.8-1.7 2.3-2.1 2-2.1 .8-1.9-.8-2.1-.9-2.2 .5-2.4 1.8-2.3 1.1-2.3-.4-2.8-.4-2.9 1.2-2.6 1.5-2.4 0-3.3z" fill="#3c69a6" class="cd"/>
<path d="M761.5 385.4l-.4-2.1-.8-1.9-.8-1.7-.4-1.8 .4-1.7 .9-1.8 .8-1.7 .3-1.5-.6-1.4-1.2-1.2-1.3-1.1-1.2-1.2-.7-1.1-.3-1.1 0-.9 .1-.9 .1-.7 0-.7-.2-.6-.4-.4-.5-.4-.5-.2-.7-.1-.8 0-3.2.3-.7.1-.6.2-.7.3-.5.3-.5.5-.4.5-.2.7-.2.8-.1.9-.3.9-.3 1-.6 1-.8 1.1-.8 1.1-.7 1.4-.5 1.4-.3 1.6-.3 1.7-.3 1.7-.2 1.8 .2 1.8 .6 2 .7 2.3 .1 3.3-.5 2.1-.4 2 .3 1.7 .8 1.5 .8 1.5 .3 1.5-.5 1.6-.8 1.6-.8 1.6-.3 1.4 .4 1.1 1 .9 1.4.8 1.4.9 1.4 1.1 1.2.9 1 .8 .7.6 .7.5 .6.3 .6.2 .7.1 .7-.1-1.6.2 .6-.2 .5-.4 .4-.4 .3-.5 .4-.6 .5-.8 .6-.8 .8-1 .9-1 1.1-1 .9-1.1 .6-1.2 .1-1.3-.2-1.4-.3-1.4 .1-1.6 .5-1.5 1-1.6 1-1.7 .5-1.9 0-1.8-.3-2z" fill="#2f5b93" class="cd"/>
<path d="M665 286.7V468M646.9 449.9H828.4M683.2 286.7V468M646.9 431.7H828.4M701.4 286.7V468M646.9 413.6H828.4M719.5 286.7V468M646.9 395.5H828.4M737.6 286.7V468M646.9 377.4H828.4M755.8 286.7V468M646.9 359.2H828.4M773.9 286.7V468M646.9 341.1H828.4M792.1 286.7V468M646.9 323H828.4M810.2 286.7V468M646.9 304.8H828.4" stroke="#c8c8c8" stroke-width="0.7" stroke-dasharray="2.6 1.6" fill="none" opacity="0.35"/>
<path d="M737.6 286.7V468M646.9 377.4H828.4" stroke="#e04850" stroke-width="1.7" stroke-dasharray="5.4 2.8" fill="none" opacity="0.68"/>
<text x="677.8" y="337.1" transform="rotate(-60 677.8 332)" style="fill:#111;stroke:#b0b8c8" class="cl">–0.4</text>
<text x="687.7" y="376.1" transform="rotate(-70 687.7 371)" style="fill:#111;stroke:#a0afc7" class="cl">–0.5</text>
<text x="701.4" y="366.1" transform="rotate(-70 701.4 361)" style="fill:#111;stroke:#92a6c8" class="cl">–0.6</text>
<text x="715.9" y="332.6" transform="rotate(-65 715.9 327.5)" style="fill:#111;stroke:#7f9acb" class="cl">–0.7</text>
<text x="724" y="329" transform="rotate(-65 724 323.9)" style="fill:#111;stroke:#6d8ec8" class="cl">–0.8</text>
<text x="729.5" y="388.8" transform="rotate(-80 729.5 383.7)" style="fill:#ffffff;stroke:#4e78b8" class="cl">–1</text>
<text x="745.8" y="364.3" transform="rotate(-55 745.8 359.2)" style="fill:#ffffff;stroke:#3c69a6" class="cl">–1.2</text>
<text x="757.6" y="342.6" transform="rotate(-55 757.6 337.5)" style="fill:#ffffff;stroke:#3c69a6" class="cl">–1</text>
<text x="734" y="453.2" transform="rotate(80 734 448.1)" style="fill:#111;stroke:#6d8ec8" class="cl">–0.9</text>
<text x="811.2" y="329.9" transform="rotate(70 811.2 324.8)" style="fill:#111;stroke:#a0afc7" class="cl">–0.6</text>
<text x="823" y="308.1" transform="rotate(70 823 303)" style="fill:#111;stroke:#b0b8c8" class="cl">–0.5</text>
</g>
<path d="M646.9 286.7v-5M646.9 468v5M646.9 468h-5M828.4 468h5M665 286.7v-5M665 468v5M646.9 449.9h-5M828.4 449.9h5M683.2 286.7v-5M683.2 468v5M646.9 431.7h-5M828.4 431.7h5M701.4 286.7v-5M701.4 468v5M646.9 413.6h-5M828.4 413.6h5M719.5 286.7v-5M719.5 468v5M646.9 395.5h-5M828.4 395.5h5M737.6 286.7v-5M737.6 468v5M646.9 377.4h-5M828.4 377.4h5M755.8 286.7v-5M755.8 468v5M646.9 359.2h-5M828.4 359.2h5M773.9 286.7v-5M773.9 468v5M646.9 341.1h-5M828.4 341.1h5M792.1 286.7v-5M792.1 468v5M646.9 323h-5M828.4 323h5M810.2 286.7v-5M810.2 468v5M646.9 304.8h-5M828.4 304.8h5M828.4 286.7v-5M828.4 468v5M646.9 286.7h-5M828.4 286.7h5" stroke="#2a2a2a" stroke-width="1.3" fill="none"/>
<rect x="646.9" y="286.7" width="181.5" height="181.3" fill="none" stroke="#2a2a2a" stroke-width="1.4"/>
<text x="646.9" y="488.1" text-anchor="middle" class="tl">-5</text>
<text x="636.2" y="472.5" text-anchor="end" class="tl">-5</text>
<text x="665" y="488.1" text-anchor="middle" class="tl">-4</text>
<text x="636.2" y="454.4" text-anchor="end" class="tl">-4</text>
<text x="683.2" y="488.1" text-anchor="middle" class="tl">-3</text>
<text x="636.2" y="436.2" text-anchor="end" class="tl">-3</text>
<text x="701.4" y="488.1" text-anchor="middle" class="tl">-2</text>
<text x="636.2" y="418.1" text-anchor="end" class="tl">-2</text>
<text x="719.5" y="488.1" text-anchor="middle" class="tl">-1</text>
<text x="636.2" y="400" text-anchor="end" class="tl">-1</text>
<text x="737.6" y="488.1" text-anchor="middle" class="tl">0</text>
<text x="636.2" y="381.9" text-anchor="end" class="tl">0</text>
<text x="755.8" y="488.1" text-anchor="middle" class="tl">1</text>
<text x="636.2" y="363.7" text-anchor="end" class="tl">1</text>
<text x="773.9" y="488.1" text-anchor="middle" class="tl">2</text>
<text x="636.2" y="345.6" text-anchor="end" class="tl">2</text>
<text x="792.1" y="488.1" text-anchor="middle" class="tl">3</text>
<text x="636.2" y="327.5" text-anchor="end" class="tl">3</text>
<text x="810.2" y="488.1" text-anchor="middle" class="tl">4</text>
<text x="636.2" y="309.3" text-anchor="end" class="tl">4</text>
<text x="828.4" y="488.1" text-anchor="middle" class="tl">5</text>
<text x="636.2" y="291.2" text-anchor="end" class="tl">5</text>
<text x="647.8" y="271.0" class="pl">(g)</text>
<clipPath id="k13"><rect x="874.5" y="286.7" width="181.5" height="181.3"/></clipPath>
<g clip-path="url(#k13)">
<rect x="874.5" y="286.7" width="181.5" height="181.3" fill="#fcfcfc"/>
<path d="M1066.9 382.3l0-16.7 0-13.3 0-12.9 0-12 0-11.3 0-11.4 0-11.8 0-10 0-7.1-3.6 0-7.3 0-5.9 0-11 0-10.6 0-7.1 0-7.4 0-9.8 0-11 0-11.2 0-11.4 0-13.7 0-14.1 0-12.2 0-11 0-9.7 0-8.2 0-8.2 0-10 0-9.7 0-5.3 0-4.9 0 0 8.1 0 10.1 0 10.7 0 11.1 0 11.6 0 12 0 12.7 0 14.3 0 16.9 0 20.6 0 16.3 0 15 0 14.5 0 14.1 0 13 0 2.1 1.3 0 5.8 0 7.1 0 8.4 0 8.6 0 5.8 0 9.8 0 9.9 0 9.1 0 10.9 0 10.5 0 10 0 10.8 0 11.8 0 14.4 0 13.5 0 11.2 0 10.4 0 10.3 0 9.3 0 7.1 0 7.1 0 .2 0 0-1.3 0-13.8 0-14.1 0-14.4 0-15.6 0-16.3z" fill="#e7e8ea" class="cd"/>
<path d="M1066.9 383.6l0-12.8 0-10.7 0-10.5 0-9.4 0-8.9-1.6-8.3-3.4-8.1-4.1-7.6-3.5-6.8-4.6-7-3-6.8-5.6-6.2-4.6-4.7-6 0-5.2 0-4.4 0-6.9 0-8 0-7.1 0-6.2 0-6.2 0-6.8 0-7.7 0-9.4 0-9.5 0-8.7 0-8.2 0-8.4 0-8.7 0-8.2 0-5.7 0-3.5 0-4.9 0-6 0-4 0-5.5 5.4-4.7 6.1-2.3 6.2-4.4 7.2-2.3 7.3-2.5 7.2-1.1 7.7-.4 7.9 0 8.8 0 9.2 0 9.8 0 10.8 0 12.7 .7 15.5-.1 12.3 4.2 11.4 1.8 10.8 1.2 10.3 6.8 10.6 .7 9.2 6.7 7.1 1.1 8.3 6.1 1.3 5.2 0 6.6 0 5.4 0 3.5 0 6.6 0 8.3 0 6.5 0 6.4 0 7.3 0 7.7 0 7.8 0 8.2 0 8.9 0 10.6 0 10 0 7.8 0 7.2 0 6.6 0 5.5 0 4.7 0 5.6 0 7.6 0 5.2 0 2.1 0 5 0 4.5 0 3.3 0 0-1.5 0-7.9 0-8.5 0-9.1 0-9.8 0-10.1 0-10.7 0-11.4 0-12.2z" fill="#d5d7da" class="cd"/>
<path d="M1059.8 382.6l-1.6-10.1 .1-8.3-2-7.6-4.1-7-1.4-7-.7-6.7-2.9-6.8-3.1-6.2-2.9-5.7-4.4-5.2-3.5-4.8-3.3-4.8-4.9-5.1-4.3-3.6-3.4-2.9-4.3-3.4-5.4-2.8-5.6-3.6-5.2-3.3-5.3-.5-5.7-1.4-6 .2-6.5-.2-7.8 0-7.9 0-6.8 0-6.2 0-5.9.3-6.1 3.1-6.1 2.5-5.8 2.8-4.5 2.6-3.3 2.6-3.9 4.1-4.7 4.3-3.8 3.4-2.7 4.9-2.9 6-2.5 5.6-1.4 5.5-1.9 5.5-2.7 5.8 .1 6.7-2.8 7.3 .5 7.2 .5 7.6 1.8 8.3-1.8 10.3 1.9 12 2.3 10.1 1.5 9.5 2.3 9.1 2.1 8.9 1.9 8.4 3.1 8.2 5.3 7.1 .9 6.9 6.5 6.6 1.4 6 3.8 3.9 5.6 0 4.5 0 5.6 0 5.9 0 5.8 0 5.3 0 5 0 5 0 5.5 0 6.2 0 6.9 0 8.5 0 9 0 6 0 5.5 0 5.4 0 5.6 0 5.6 0 5 0 4.3 0 4.1 0 3.8 0 3 0 2 0 1.6-4.3 5.5-5.5 2-6.4 1.2-6.7 2-6.8-.6-7.9 2.1-7.6 .1-8.5 2.2-9.1-3.1-9.4 1.2-10z" fill="#c2c6ce" class="cd"/>
<path d="M1045.5 382.5l-2.2-8.7 1.4-7-2.1-6.6-1.9-6.1-3.7-5.7-1.4-5.5-.5-5.2-2.2-5-3.1-4.9-2.8-5-2.7-4.5-3.7-3.4-4.1-2.9-3.5-3.6-3.2-3.2-3.8-2.5-4.6-4-4.7-2.9-4.4-.6-4.4-1.8-4.4-.8-4.8.4-5.2-1.8-6.4-.3-5.3-.3-4.6 1.4-4.2 1.7-4.1.4-4 .7-4.1 1.3-3.7 2.2-3.3 3.3-2.6 3.6-2.5 3.3-2.5 3.2-2.5 3.6-1.8 4.2-1.2 4.4-1.5 4.6-2.5 4.4-1.1 4.8 0 5.4-2.5 5-.3 5.9 1 6.3 .9 6.7 .5 7.2-1.4 8.2 1.2 10.9 3.8 8.4-1.4 8.2 3.7 8 .6 7.4 2.3 7.5 1.7 6.7 .8 6.3 5.9 5.5 1.6 6 1.3 5.6 5.3 4.2 2.6 3.6 1.1 4 3.4 4.2 4.5 0 4 0 3.7 0 4 0 4.3 0 4.6 0 4.6 0 5 0 5.8 0 6.3 0 5.3 0 4.9 0 4.5 0 4.3 0 3.9 0 3.6 0 3.1 0 2.2 0 2-2.7 4-4.3 5.1-4.2 1.5-5.5 .9-5.7 3.3-6.7-.1-6 .7-6.4 2-6.3 .2-7 1.9-6.6-.7-7.9-.9-8.5 0-8.8z" fill="#b0b8c8" class="cd"/>
<path d="M1028.1 382.6l-2.4-7.7 1.6-5.8-1.1-5.8-1.6-5.4-2-4.9-3.3-4-1.5-4.2-.3-4.3-1.2-4-2.2-4-2.7-3.9-2.6-3.2-2.4-3-2.5-3.4-3.1-3.9-3.5-3-3.5-1.2-3.3-1.4-3.1-2-3.2-1.1-3.4.2-3.6-.6-4-1.7-4.8-.2-4.9-.2-3.6.5-3.2 1.7-3 1.7-2.9 1-2.7.8-2.6 1.4-2.5 1.8-2.3 2.1-1.9 2.5-1.5 3-1.3 3.4-1.6 3.9-2.3 4.4-1.7 4.3-.2 4.1-.6 4.4-2.4 4.4-.6 4.7 1.1 5.2 0 5.3 1.5 5.6-.6 6-1 7.3 .8 8.6 3.6 7.1-.3 6.8 .5 6.5 3.2 6.8 .5 5.9 1.4 5.7 2.7 4.6 .5 4.9 1.2 4.2 4.7 3.9 3.7 5.4 .6 4 1.3 3.8 3.9 3 4.2 3.6 3 3.1 1.9 2 2 1.4 2.5.9 3 1.5 3.4 1.5 3.8.1 4.4-.4 5-.1 3.7-.5 3.4-.3 3.2-.7 3.2-1.9 3.7-2.3 4.2-2.2 3.9-3 2.6-3.2 1-3.2 1.2-3.4 2.9-3.1 2.2-3.9-.1-4.5 .6-4.8 2-5.4 1.1-5.6 .3-5.6 1.7-6.2 .6-6.1-2.5-6.2 1.7-7.1-1.4-7.2z" fill="#a0afc7" class="cd"/>
<path d="M1014.3 383.5l-2.4-6.4 1-5 .4-4.7-1.6-4.5-1.1-4.3-1.7-3.9-2.7-3.6-2.1-4.1-.8-3.7-.5-3.5-1-3.5-1.7-3.6-2-3-2.3-2.1-2.3-1.5-2.2-1.7-2.2-2-2.2-1.8-2.4-1.2-2.5-.2-2.7-.2-2.8-1-3-1.3-3.6-.4-3.7.3-2.6 0-2.3.5-2.1 1.1-1.9 1.7-1.7 1.9-1.6 1.9-1.4 1.8-1.4 1.8-1.7 1.9-1.9 1.9-1.8 2.4-1.1 2.7-.1 3.1-.5 3.2-1.7 3.3-1.7 3.4 0 3.8 .8 4.2 0 4.2 .7 4.6 1.2 4.8-1.5 4.9-.5 6.1 .7 7.4 1.9 5.4 2.6 5.8-1.2 5 .5 5 2.8 5.7 1.4 5 .3 4.4 1.3 4.2 2.2 3.9 1.7 3.5 .5 3.4 .7 3.1 2.4 3.4 3.7 3.3 3.4 1.7 2.4 1.5 1.5 1.6 1.3 1.7 1.5 1.6 1.9 1.4 2.3.8 2.5 0 3.2-.4 4.7-.1 2.7-.4 2.4-.7 2.3-.7 2.3-.8 2.6-1.3 2.6-2.1 2.4-2.5 1.7-2.4 .7-2.7 .4-2.9 1.1-3.1 1.8-3.3 1.6-3.7 .8-4 .4-4.2 1.1-4.5 1.8-4.7-.1-4.8-2-4.7 .8-5.4 .7-5.6-1.4-5.8z" fill="#92a6c8" class="cd"/>
<path d="M1004.8 383.5l-2.1-5.8 .1-4.1 1.1-3.4-.4-3.7-1.3-4-1.1-3.8-1-3.5-1.8-3.4-2.2-2.5-2-2-1.3-2.2-.7-2.2-.7-2.1-.9-2-1.2-2-1.5-1.9-1.7-1.6-1.8-1-2-.4-2-.2-2-.6-2.2-1-2.2-1-2.7-.6-2.3.3-2.2.4-2 .3-1.9.5-1.9.8-1.8 1.4-1.7 1.8-1.5 2-1.1 1.9-.7 2-.6 2-.7 2.2-1.4 2.2-1.8 2-1.4 2.3-.3 2.8 .5 3.1 .2 3.2-.3 3.2 .4 3.5 1.1 4-.2 3.7-1.6 3.8-.1 5 .8 5 .3 4.7 2.5 4.9 1.9 4-.5 3.9-.6 3.6 1.2 3.5 2.3 3.1 1.8 3.3 .9 3.1 .6 2.9 .9 2.9 1.5 2.8 1.9 2.4 1.9 1.7 1.8 1.2 1.4 1.3 1.3 1.2 1.2 1.2 1.4 1.2 1.6 1.1 1.8.9 2 .2 2.6-.4 3.3-.5 2.1-.3 1.9-.5 1.8-.8 1.8-1 1.9-1.1 1.8-1.1 1.7-1.3 1.6-1.5 1.3-2 1-2.2 .7-2.5 .8-2.7 1.1-3 1.6-3.2 1.3-3.3 0-3.3-1.3-3.4-.6-3.6 1.3-4 .8-4-1-4.3-.3-4.5z" fill="#7f9acb" class="cd"/>
<path d="M996.1 381.6l-1.7-3.3-.8-2.8 .5-3.1 .8-2.9 0-2.6-.8-2.2-1-2.1-1-2-.8-2.1-.9-2-1.3-2-1.5-2-1.7-1.7-1.6-1.3-1.5-.9-1.3-.7-1.2-.8-1.1-.7-1.1-.9-1.1-.9-1.2-.9-1.3-.8-1.5-.7-1.8-.2-.2 0-1.5.3-1.4.5-1.4.6-1.3.6-1.4.6-1.4.8-1.5 1.1-1.4 1.4-1.3 1.7-.9 1.8-.5 1.8-.2 1.9 .1 1.8-.1 2.1-.3 2.2-.3 2.3 0 2.4 .5 2.3 .6 2.4-.2 2.7-1.1 3.3-1 3.4 .2 3.7 .7 3 .1 3.3 .4 3 1.6 3 1.9 3.1 1.2 2.9 .2 2.5-.4 2.3-.1 2.1 .6 2.3 1.2 2.1 1.7 1.7 1.7 1.3 1.5 1.1 1.3 1.1 1.1 1.2 1.1 1.1 1 1.2 1.1 1 1.2 1 1.2.7 1.4.4 1.5.1 1.8-.3 1.6-.4 1.5-.3 1.3-.5 1.3-.5 1.3-.6 1.3-.8 1.2-1.1 1.3-1.1 1.4-1.3 1.3-1.3 1-1.4 .7-1.6 .2-1.8-.4-2-.5-2.2-.1-2.3 .6-2.2 1.2-2.2 .8-2.4 0-2.7-.8-3-.3-3.1 .4-3.2z" fill="#6d8ec8" class="cd"/>
<path d="M986.2 382.3l-1.1-2.3-1-1.9-.5-1.7 .1-1.8 .3-1.8 .5-1.7 .2-1.6 0-1.4-.3-1.3-.6-1.2-.7-.9-.7-.9-.7-.8-.6-.8-.6-.7-.6-.7-.6-.6-.6-.6-.7-.6-.7-.6-.7-.5-.7-.5-.8-.4-.9-.4-1.9-.4-.7.1-.6.2-.5.4-.5.5-.5.5-.4.7-.5.7-.4.9-.4.9-.4 1-.3 1.1-.1 1.1 0 1.2 .1 1.4 .3 1.3 .3 1.5 0 1.5-.3 1.6-.6 1.7-.8 1.7-.7 1.9-.3 2 .4 2.4 .5 3.2 .3 1.9 0 1.8 .1 1.7 .3 1.5 .6 1.4 .9 1.2 1.1 1.1 1.1 1.3 1 1.3 .7 1.3 .5 1.2 .4 1.1 .2 1 .2.9 .2.8 .2.8 .3.6 .4.6 .5.5 .6.4 .6.3 .8.1 .9 0 1-.2 .7-.3 .6-.4 .5-.4 .5-.5 .4-.6 .4-.7 .5-.7 .6-.8 .6-.9 .7-1 .7-1 .7-1.1 .6-1.1 .4-1.3 .2-1.3-.2-1.4-.3-1.5-.3-1.6-.1-1.6 .1-1.7 .3-1.8 .2-1.9z" fill="#5f84c6" class="cd"/>
<path d="M977.3 383.9l-.2-.5-.2-.5-.2-.4-.2-.5-.1-.4-.2-.3-.2-.4-.2-.4-.1-.3-.2-.4-.1-.3-.2-.2-.1-.3-.1-.3-.1-.2-.1-.2-.1-.2-.1-.1-.1-.2-.1-.1 0-.1-.1 0-.1-.1-.1 0 1.1.3-.1 0-.1.1-.1.1-.1 0-.1.1-.1.2-.1.1-.1.1-.1.2 0 .2-.1.2-.1.3 0 .2-.1.3 0 .3 0 .3 0 .3 0 .4 0 .4 .1.4 0 .4 .2.5 .1.6 .1.5 .1.4 .1.3 .1.4 0 .3 .1.4 .1.3 0 .3 .1.3 0 .2 .1.3 0 .2 .1.2 0 .2 .1.2 0 .1 .1.1 0 .2 .1.1 .1 0 0 .1 .1 0 .1 0 .7 0 .1 0 .1 0 0-.1 .1-.1 .1-.1 0-.2 .1-.1 .1-.2 0-.2 .1-.2 .1-.2 0-.2 .1-.3 0-.3 .1-.3 0-.3 0-.3 0-.3 0-.4 0-.3-.1-.4-.1-.4z" fill="#4e78b8" class="cd"/>
<path d="M892.6 286.7V468M874.5 449.9H1056M910.8 286.7V468M874.5 431.7H1056M929 286.7V468M874.5 413.6H1056M947.1 286.7V468M874.5 395.5H1056M965.2 286.7V468M874.5 377.4H1056M983.4 286.7V468M874.5 359.2H1056M1001.5 286.7V468M874.5 341.1H1056M1019.7 286.7V468M874.5 323H1056M1037.8 286.7V468M874.5 304.8H1056" stroke="#c8c8c8" stroke-width="0.7" stroke-dasharray="2.6 1.6" fill="none" opacity="0.35"/>
<path d="M965.2 286.7V468M874.5 377.4H1056" stroke="#e04850" stroke-width="1.7" stroke-dasharray="5.4 2.8" fill="none" opacity="0.68"/>
<text x="892.6" y="298.1" transform="rotate(-45 892.6 293)" style="fill:#111;stroke:#d5d7da" class="cl">–0.2</text>
<text x="907.2" y="336.2" transform="rotate(-65 907.2 331.1)" style="fill:#111;stroke:#c2c6ce" class="cl">–0.3</text>
<text x="941.7" y="325.3" transform="rotate(-65 941.7 320.2)" style="fill:#111;stroke:#a0afc7" class="cl">–0.5</text>
<text x="978.9" y="334.4" transform="rotate(0 978.9 329.3)" style="fill:#111;stroke:#92a6c8" class="cl">–0.7</text>
<text x="978.9" y="347.1" transform="rotate(0 978.9 342)" style="fill:#111;stroke:#7f9acb" class="cl">–0.8</text>
<text x="978.9" y="360.7" transform="rotate(0 978.9 355.6)" style="fill:#111;stroke:#6d8ec8" class="cl">–0.9</text>
<text x="941.7" y="416" transform="rotate(75 941.7 410.9)" style="fill:#111;stroke:#a0afc7" class="cl">–0.6</text>
<text x="919.9" y="453.2" transform="rotate(75 919.9 448.1)" style="fill:#111;stroke:#c2c6ce" class="cl">–0.4</text>
<text x="886.3" y="455.9" transform="rotate(65 886.3 450.8)" style="fill:#111;stroke:#d5d7da" class="cl">–0.3</text>
<text x="1035.1" y="314.5" transform="rotate(65 1035.1 309.4)" style="fill:#111;stroke:#d5d7da" class="cl">–0.3</text>
</g>
<path d="M874.5 286.7v-5M874.5 468v5M874.5 468h-5M1056 468h5M892.6 286.7v-5M892.6 468v5M874.5 449.9h-5M1056 449.9h5M910.8 286.7v-5M910.8 468v5M874.5 431.7h-5M1056 431.7h5M929 286.7v-5M929 468v5M874.5 413.6h-5M1056 413.6h5M947.1 286.7v-5M947.1 468v5M874.5 395.5h-5M1056 395.5h5M965.2 286.7v-5M965.2 468v5M874.5 377.4h-5M1056 377.4h5M983.4 286.7v-5M983.4 468v5M874.5 359.2h-5M1056 359.2h5M1001.5 286.7v-5M1001.5 468v5M874.5 341.1h-5M1056 341.1h5M1019.7 286.7v-5M1019.7 468v5M874.5 323h-5M1056 323h5M1037.8 286.7v-5M1037.8 468v5M874.5 304.8h-5M1056 304.8h5M1056 286.7v-5M1056 468v5M874.5 286.7h-5M1056 286.7h5" stroke="#2a2a2a" stroke-width="1.3" fill="none"/>
<rect x="874.5" y="286.7" width="181.5" height="181.3" fill="none" stroke="#2a2a2a" stroke-width="1.4"/>
<text x="874.5" y="488.1" text-anchor="middle" class="tl">-5</text>
<text x="863.8" y="472.5" text-anchor="end" class="tl">-5</text>
<text x="892.6" y="488.1" text-anchor="middle" class="tl">-4</text>
<text x="863.8" y="454.4" text-anchor="end" class="tl">-4</text>
<text x="910.8" y="488.1" text-anchor="middle" class="tl">-3</text>
<text x="863.8" y="436.2" text-anchor="end" class="tl">-3</text>
<text x="929" y="488.1" text-anchor="middle" class="tl">-2</text>
<text x="863.8" y="418.1" text-anchor="end" class="tl">-2</text>
<text x="947.1" y="488.1" text-anchor="middle" class="tl">-1</text>
<text x="863.8" y="400" text-anchor="end" class="tl">-1</text>
<text x="965.2" y="488.1" text-anchor="middle" class="tl">0</text>
<text x="863.8" y="381.9" text-anchor="end" class="tl">0</text>
<text x="983.4" y="488.1" text-anchor="middle" class="tl">1</text>
<text x="863.8" y="363.7" text-anchor="end" class="tl">1</text>
<text x="1001.5" y="488.1" text-anchor="middle" class="tl">2</text>
<text x="863.8" y="345.6" text-anchor="end" class="tl">2</text>
<text x="1019.7" y="488.1" text-anchor="middle" class="tl">3</text>
<text x="863.8" y="327.5" text-anchor="end" class="tl">3</text>
<text x="1037.8" y="488.1" text-anchor="middle" class="tl">4</text>
<text x="863.8" y="309.3" text-anchor="end" class="tl">4</text>
<text x="1056" y="488.1" text-anchor="middle" class="tl">5</text>
<text x="863.8" y="291.2" text-anchor="end" class="tl">5</text>
<text x="875.1" y="272.1" class="pl">(h)</text>
<clipPath id="k20"><rect x="191.5" y="522.8" width="181.5" height="181.3"/></clipPath>
<g clip-path="url(#k20)">
<rect x="191.5" y="522.8" width="181.5" height="181.3" fill="#f8f6f1"/>
<path d="M182.4 713.2l17.7 0-1.9-13.1 .8-8.7-.2-5.8-2.5-15.9 3-14.6 .1-8.7-1-3.5-5.5-8.1-6.1-5.2-2.1.9-1 4.3 .8 4.4 3.3 8.7 .2 4.3-1.2 3.8-.9.6-3.5-.7 0 57.3zM192.6 693.5l-1.5-2.5-.2-2.5 .2-1.2 1.5-.6 1.4 2 .4 2.7-.4 1.9-1.4.2zM182.4 602.9l0 .6 2-2 .9-4.4-1.1-4.3-1.8-1.8 0 11.9z" fill="#e9dac4" fill-rule="evenodd" stroke="#e9dac4" stroke-width="0.3"/>
<path d="M200.1 713.2l2.2 0-.7-10.2 .6-13-1.2-21.8 2.5-24.7-.5-10.1-1.7-5.2-1.5-1.8-5.8-.5-2.8-2.7-3-5.1-5.8-2.7 0 40.5 3.5.7 .9-.6 1.2-3.8-.2-4.3-3.9-11.6 .2-4.4 1.2-2.1 1.5-.2 1.4.7 4.7 4.5 5.5 8.1 1 3.5-.1 8.7-3 14.6 2.5 15.9 .2 5.8-.8 8.7 1.9 13.1zM192.1 692.9l.5.6 1.4-.2 .4-1.9-.4-2.7-1.4-2-1.5.6-.2 1.2 1.2 4.4zM190 614.5l5.5.9 1.4-.1 1.5-1.1 .8-4-.6-4.4-3.1-11.6-1.5-2.7-4.3-2-4.4-6.7-2.9-.4 0 8.6 1.8 1.8 1.1 4.3-.9 4.4-2 2 0 9.5 2.9-1.2 1.5.2 3.2 2.5zM196.4 587l2 .9 1.4-1.4 1.1-5.3-1.1-3.3-1.4 0-2.2 1.8-.6 2.9 .8 4.4zM188 578.3l1.7 1 1.4-.3 1.4-2.2-.9-2.9-1.9-1.4-1.5 1.4-.2 4.4z" fill="#ede2d0" fill-rule="evenodd" stroke="#ede2d0" stroke-width="0.3"/>
<path d="M202.3 713.2l2 0-.1-10.2 2.2-24.6-1.8-14.5 3.4-24.7-1.2-10.2-2.8-11.6-.8-21.7 2.6-23.2 4.2-12.4 1.2-7.9-1.2-6.5-4.4-10.9-2.8-3.6-3-.7-1.4.9-1.5 2.6-.7 8 1.7 2.9 6.3 2.7 .9 1.7-1.1 14.5-.8 2.9-3.4 2.8-2.9.4-5.8-6.3-1.4-.7-1.5.6-5.8 8.6 0 10.3 2.9.4 4.4 6.7 4.3 2 .9 1.3 3.7 13 .5 5.8-.7 2.6-1.5 1.1-5.8-.4-4.3-2.9-1.5-.2-2.9 1.2 0 2.4 5.8 2.7 3 5.1 2.8 2.7 5.8.5 1.5 1.8 1.5 3.9 .8 10-2.6 27.6 1.2 20.3-.6 13 .7 10.2zM188.2 578.6l-.4-3.2 .4-1.5 1.5-1.4 1.9 1.4 .9 2.9-1.4 2.2-2.9-.4zM196.9 587.7l-1-2.2-.2-4.3 2-2.9 2.1-.4 1.1 3.3-.7 4.3-1.8 2.4-1.5-.2zM349.9 713.2l6.7 0 1.9-13.1-.9-2.9-6.7-9.3-1.5-.8-1.9 4.3-1 5.8 3.4 16zM371.8 713.2l9.5 0 0-52.8-7.2.7-.4 1.3 .1 5.8 3 10.2-1.3 6-1.4 1.7-2.9-9.2-1.5-2.2-1.4.7-1.5 2-2.8 6.8-1 4.3-.1 5.8 1.3 2.9 4.1 3.2 4.3.8 1.1 1.8-1.9 10.2zM347.5 678.4l.5 1 1.4.1 1-5.5-.2-5.8-2.2-6-1.5-1.3-1.5.1-1.2 2.9 0 4.3 1.2 5.2 2.5 5zM220.9 662.4l2.2-.7 7.2-7.3 2.6-6.5 .3-5.3-1.4-3-5.8 7.9-1.5 1.1-1.4 0-1.5-2.3-2.9-13.2-1.4-2-1.5-.2-1.4 1.6-1.4 3.8-.4 5.8 6.1 18.4 2.2 1.9zM371.1 650.8l.9-1.5 .1-4.3-.9-2.8-1.5 0-.4 4.2 1.8 4.4zM378.3 642.1l3 1.1 0-11-2.9 1.7-1.4 2.4-.4 2.9 1.7 2.9zM354.5 623.2l.7 1.3 2-1.3-.2-2.9-1.8-1.6-.9 1.6 .2 2.9zM223.1 600l1.4-.2 1.4-2.7-1.1-2.9-1.7-.9-.9 3.8 .9 2.9zM363.8 558l1.6 1.4 1.4-.4 1.5-3 0-5.3-4.4-9.6-1.4-1.5-1.5-.4-2.9 2-.6 3.7 1.6 4.4 4.7 8.7zM381 533.3l.3.4 0-19.2-1.4 0 1.2 11.6-.8 5.8 .7 1.4zM182.4 531.9l3.7-4.4 5-3.6 1.7-3.6 1-5.8-11.4 0 0 17.4zM221.5 523.2l3-1 1.4-1.9 1.1-5.8-7.9 0 .6 5.8 1.8 2.9zM245.4 521.7l2.4.3 1.4-1.7 1.3-5.8-7.6 0 .6 4.3 1.9 2.9z" fill="#f2ebdf" fill-rule="evenodd" stroke="#f2ebdf" stroke-width="0.3"/>
<path d="M204.3 713.2l2.3 0 .5-8.7 1.5-4.4 1.4-1.6 5.8 1.3 1.5-.3 1.4-2.4 2.3-8.6 3.4-4.3 4.5-2.2 1.4 1.5 2.9 6.1 4.4-4.5 5.8-.3 1.1-.6 1.8-8.2 1.5-.2 .8 4-2.9 5.8-1.6 8.7-4.1 10.2-.6 8.7 39.4 0-.5-2.7-3.6-6-1.3-11.6-2.9-8.7 1.3-11.6-1.6-4.4-3.6-6.5-1.4-1.9-1.5 0-2.6 2.6-3.2 5.2-1.4 1-2.9-2.7-4.4-12.9-1.4-1.7-2.1.9-3.7 6.2-2.9.3-1.5-.7-.6-1.4 .4-2.9 1.7-3.6 2.9-5.1 5.4-7.3 1.4-4.3 2-14.5-1.5-10.2 .5-2.9 3.8-5.6 1.4-1.2 1.5.1 4.3 3.2 1.5-.3 2.5-3.4 1.3-4.4 0-4.3-.9-2.8-5.2-7.4-3-5.8-.1-1.4 2.5-5.7 .9-4.5 0-5.8-1.2-8.7 3.2-4.5 1.4-3.5 2-6.5 .2-4.3-.9-4.4-2-4.3-2.2-1.6-4.8 1.6-1-1-.4-4.8-4.1 0-1.3 5.8-1.4 1.7-1.5.3-2.2-2-1.2-5.8-15.9 0-1.1 5.8-1.4 1.9-2.9 1-1.4-1.3-.5-1.6-.6-5.8-3.4 0-1.3 7.4-2.9 2.7-2.9-1-5.8-4.7-1.3-4.4-7.7 0-1 5.8-1.7 3.6-5.8 4.3-2.9 3.8 0 40.1 5.8-8.6 1.5-.6 1.4.7 5.8 6.3 2.9-.4 3.4-2.8 .8-2.9 1.1-14.5-.9-1.7-5.8-2.4-1.8-1.7-.2-7.3 2-4.8 2.9-.9 3.4 2.8 5.3 12.4 1.1 5 0 4.4-.9 4.3-4.5 13.8-2.5 22.5 .8 21.7 2.8 11.6 1.2 8.7-3.4 26.2 1.8 14.5-2.2 24.6 .1 10.2zM211.5 616.4l-1.5-.9-.3-1 .3-2.2 1.5-.3 1.7 2.5-1.7 1.9zM221.6 662.5l-1.4-.2-1.5-1.8-6.1-18.4 .4-5.8 1.4-3.8 1.4-1.6 1.5.2 1.4 2 2.9 13.2 1.5 2.3 1.4 0 1.5-1.1 5.8-7.9 1.4 3-.3 5.3-2.6 6.5-8.7 8.1zM257.9 698.9l-1.4-.5-.9-2.6-.8-14.5 1.2-5.8 1.9-2.4 1.5 1 3 4.3 1.5 5.8-3.1 12.6-2.9 2.1zM247.8 574l-1.5-.1-1.4-1.5-1.5-4.9 .2-12.4-1.6-8.7-.3-7.3 .3-4.6 1.4-2.7 1.5.3 1.1 1.2 1.8 6.9 1.2 1.8 1.7.4 2.9-1.5 1.4.2 1.5 1.9 1.1 3.4-2.6 3.9-.9 3.3-.3 16-.7 1.4-5.3 3zM220.2 619.3l-2.3-3.3 .8-1.4 1.5-.4 1.4.8 .5 2.4-.5 1.7-1.4.2zM223.1 600l-.9-2.9 .9-3.8 1.7.9 1.1 2.9-1.4 2.7-1.4.2zM231.8 618.9l-3.2-2.9-1.5-4.4 1.8-4.8 2.9-1.8 1.4.5 1.8 1.8 .9 4.3-1.2 6.6-1.5 1-1.4-.3zM230.3 584.4l-2.9-2.3-5.8-8.7-5.8-2-1.3-1.8-.1-4.2 1.4-5 1.5-3.5 1.4-1.9 1.5-.6 1.4.4 5.8 5.1 4.4 0 1.4.6 1.3 3.3 1.3 7.2-.3 7.3-2.3 5.5-1.4.8-1.5-.2zM224.5 542.7l-1.8-2.1-.3-5.8 2-4.4 3-1.7 1.8 1.7-.1 7.3-1.7 3.8-2.9 1.2zM218.5 713.2l18.6 0-.6-4.4-4.7-12.3-4.4 5.3-7.2 3-1.3 4-.4 4.4zM324.1 713.2l25.8 0-3.4-16 1-5.8 1.9-4.3 1.5.8 7.3 10.8 .1 4.3-1.7 10.2 15.2 0 1.9-8.7-.6-2.9-4.8-1.2-2.9-1.9-2.1-2.7-.6-4.4 1.3-7.2 4.3-8.8 1.4-.7 .7.8 3.7 10.6 1.4-1.7 1.3-6-3-10.2-.1-5.8 .4-1.3 7.2-.7 0-17.2-3-1.1-1.7-2.9 1.2-4.4 3.5-2.6 0-48.6-2.9-4.3-2.9-7.6-2.9-4.3-.7-3.6 .9-13.1 1.3-5.2 1.4-1 1.5.1 4.3 1.9 0-12.8-1-1.8 .7-7.3-1.1-10.1-3 0-1.4 7-2.9 3.3-1.4.7-4.4-.4-5.8 2.2-1.4-.2-1-2.5 .6-10.1-26.9 0 1.1 3.9 4.8 4.8 1.7 2.9 .4 15.9 1.1 10.2-.7 4.3-3.2 5.8-1.9 5.8-.9 5.8 .2 6.2 1.4 2.2 2.9-.9 8.6-8.9 3.1-5.9 1.4 0 0 4.9-4 6.8-1.3 8.7 .6 4.3 3.3 3.9 1.4 3 .6 4.7-.9 2.9-2.6 1.7-1.4-2.6-1.2-9.2-1.8-2.7-2.9-.9-4.3-.2-4.4-5.8-1.4-.7-2.9-.4-1.5.5-1.1 1.5-1.1 8.7 1.3 8.7 2.8 4.3 8.3 6.6 1.3 3.6 .4 4.3-2.2 11.6-2.4 5.9-1.5 1.1-2.9 0-5.8-5.9-1.4-.1-.1.5-2.3 14.5 .9 5.3 1.5 1.5 4.3-.4 5.8 6.2 3.8 1.9 1 7.3-.4 5.9-4.4-1-2.9.7-2.9 1.7-1.7 2.8-2.3 7.3-3.4 5.8-.7 2.9 .3 4.3 3.6 7.3 .7 2.9zM348 679.4l-3-6-1.2-5.2 0-4.3 1.2-2.9 1.5-.1 1.5 1.3 2.2 6-.2 8.7-.6 2.6-1.4-.1zM355.2 624.5l-1-2.7 1-3.1 1.5.9 .6 2.2-.6 2.3-1.5.4zM358.1 680.4l0-2.2 0 2.2zM363.9 558.2l-4.8-8.9-1.6-4.4 .6-3.7 2.9-2 1.5.4 1.4 1.5 4.4 9.6 .1 4.4-.9 2.9-.7 1-1.4.4-1.5-1.2zM368.3 626.3l-1.5-2.3-.4-3.7 .4-3.9 1.3-3.3-1.3-13.1 .9-7.2 .6-1.9 1.4-1.5 1.5.1 2.9 1.8 2.8 4.4 .8 20.3-.7 5.1-1.5 3.7-2.9 2.1-4.3-.6zM371.2 651l-1.9-4.6 .4-4.2 1.5 0 .9 2.8-.1 4.3-.8 1.7zM278.8 650.8l.9.4 1.5-1.3 1.1-6.4-.5-10.1-.6-3.2-1.5-2.7-1.4.2-.4 1.3-2.2 13.1 .9 5.8 2.2 2.9zM320 627.6l.4.7 1.4-.9-1.2-15.8-1.6-4.3-1.5-.1-1.4 4.4 .1 4.4 1.3 7 2.5 4.6zM327.2 549.3l.4.5 1.5-.9 .3-2.5-.3-2.7-1.5-1.8-1.1 3 .7 4.4z" fill="#f8f6f1" fill-rule="evenodd" stroke="#f8f6f1" stroke-width="0.3"/>
<path d="M206.6 713.2l4.1 0 .8-3.6 1.4.1 .8 3.5 4.8 0 .4-4.4 1.3-4 7.2-3 4.4-5.3 4.7 12.3 .6 4.4 2.3 0 .6-8.7 4.1-10.2 1.6-8.7 2.9-5.8-.8-4-1.5.2-1.8 8.2-1.1.6-5.8.3-4.4 4.5-2.9-6.1-1.4-1.5-2.9 1.1-2.9 2.2-2.1 3.2-2.3 8.6-1.4 2.4-1.5.3-5.8-1.3-1.4 1.6-1.5 4.4-.5 8.7zM278.8 713.2l3.8 0-.7-5.8-3.7-10.2 .1-7.7 2.9-4.3 2.9-.9 2.9.6 1.4-.8 1-2.8-2-10.2-.1-11.6-2.1-11.6 1.4-21.8-1.6-4.3-5.4-7.3-.8-5.8 1.8-11.6 2-4.9 2.9-3.5 7.3-2 2-2.6 .5-4.4-.3-5.8-1.5-5.8-2.2-2.6-2.9-1.1-4.3 2.2-1.5.1-1.9-1.5-.5-2.9 2.6-7.2-.2-2.9-1.4-3-1.5.1-2.9 5.8-1.4 1.3-3.7 1.6-2.7 2.9-.3 1.4 2.7 4.4 .5 2.9-.9 5.5-1.5 3.4-1.4.3-1.5-1.3-1.7-5 .3-4.9 1.4-5.3-1.5-10.1 1.5-8.3 1.5-3.1 2.9-2.6 2.9 0 4.4 2.5 1.4-.6 5.2-12.6 2.8-13-33.1 0 .4 4.8 1 1 4.8-1.6 2.2 1.6 2 4.3 .9 4.4-.2 4.3-2 6.5-1.4 3.5-3.2 4.5 1.2 8.7 0 5.8-.9 4.5-2.5 5.7 .1 1.4 3 5.8 5.2 7.4 .9 2.8 0 4.3-1.3 4.4-2.5 3.4-1.5.3-4.3-3.2-1.5-.1-1.4 1.2-3.8 5.6-.5 2.9 1.5 10.2-2 14.5-1.4 4.3-5.4 7.3-2.9 5.1-1.7 3.6-.4 2.9 .6 1.4 1.5.7 2.9-.3 3.7-6.2 2.1-.9 1.4 1.7 4.4 12.9 2.9 2.7 1.4-1 3.2-5.2 2.6-2.6 1.5 0 1.4 1.9 3.6 6.5 1.6 4.4-1.3 11.6 2.9 8.7 1.3 11.6 3.6 6 .5 2.7zM279.7 651.2l-1.4-.6-1.5-2.2-1.1-4.9 2.2-14.5 .4-1.3 1.4-.2 1.9 4.4 .7 10.2-.9 7.2-1.7 1.9zM256.5 654.8l-1.5-1.3-1-5.6 1-7.5 1.5-1 3.6 2.7 1.3 4.3-1.6 5.8-1.9 2.2-1.4.4zM296.6 713.2l4 0-.6-7.1-1.4.4-1.5 2.8-.5 3.9zM312.8 713.2l11.3 0-.7-2.9-3.6-7.3-.3-4.3 .7-2.9 3.4-5.8 2.3-7.3 1.7-2.8 2.9-1.7 2.9-.7 4.4 1 .3-1.6-.1-8.7-.8-2.9-3.8-1.9-5.8-6.2-4.3.4-1.5-1.5-.8-2.4 0-4.4 2.3-13.5 1.4.1 5.8 5.9 2.9 0 1.5-1.2 1.5-2.9 3-13-.3-5.8-1.3-3.6-8.3-6.6-2.8-4.3-1.3-8.7 1.1-8.7 1.1-1.5 1.5-.5 2.9.4 1.4.7 4.4 5.8 4.3.2 2.9.9 1.8 2.7 1.2 9.2 1.4 2.6 2.6-1.7 .9-2.9-.6-4.7-1.4-3-3.3-3.9-.6-4.3 1.3-8.7 4-6.8 0-4.9-1.4 0-3.1 5.9-8.6 8.9-2.9.9-1.4-2.2-.2-6.2 .9-5.8 1.9-5.8 3.2-5.8 .7-4.3-1.1-10.2-.4-15.9-1.7-2.9-4.8-4.8-1.1-3.9-15.7 0-1 4.3-3.8 8.7-.4 5.8 1.2 2.9 .5.4 4.4-1.2 1.4.5 1.6 1.8 1.1 2.9 .1 5.8-1.4 8.7 .7 8.7-2.3 5.8-2.7 2.4-2.9.9-1.4-.5-2.2-2.8-.4-7.3 2.5-11.6-.2-2.9-1.2-2.9-5.9 4.4-1.4 2.1-1.1 5.1 .2 4.4 3.5 8.7 1.3 11.6 3.8 10.1 1.7 13.1 1 20.3 4 14.5-.3 5.8-2.4 10.1 .6 7.3-.6 3.6-1.5.4-1.3-6.9-1.6-2.7-1.5-.4-1.4.8-1.8 3.8 2.3 17.4 .9 2.5 4.1 4.7 .8 2.9-.8 24.7zM320.4 628.3l-2.9-5.3-1.1-5.6-.3-5.8 1.4-4.4 1.5.1 1.4 2.9 1.5 15.9-.1 1.5-1.4.7zM330.5 632.4l-1.4-2.1-.7-4.2 .7-3.1 1.4-1 1.7 1.2 1 4.4-1 4.3-1.7.5zM327.6 549.8l-1.2-3.4 1.2-4.5 1.5 1.8 .3 2.7-.3 2.5-1.5.9zM330.5 565.2l-1-1.4 1-1.5 0 2.9zM257.2 698.7l2.2-.4 1.4-1.5 3.1-12.6-1.5-5.8-3-4.3-1.5-1-1.9 2.4-1.2 5.8 .6 13 1.1 4.1 .7.3zM357.8 679.8l.3.6 0-2.2-.3 1.6zM368.1 626.1l3.1.9 3.1-.9 2.5-4.3 .9-5.8-.8-20.3-2.8-4.4-2.9-1.8-1.5-.1-1.6 1.9-1.2 7.3 1.2 14.5-1.3 3.3-.4 3.9 .4 3.7 1.3 2.1zM219.7 618.9l1.9.2 .5-1.7-.5-2.4-1.4-.8-1.5.4-.8 1.4 1.8 2.9zM231.8 618.9l1.4.3 1.5-1 1.2-6.6-.9-4.3-1.8-1.8-1.4-.5-2.9 1.8-1.8 4.8 1.5 4.4 3.2 2.9zM210.5 616l1 .4 1-.4 .7-1.5-1.7-2.5-1.5.3-.2.8 .7 2.9zM229.8 584.1l2 .5 1.4-.8 2-4.1 .7-7.2-1.2-8.1-1.5-3.9-1.4-.6-4.4 0-5.8-5.1-1.4-.4-1.5.6-1.4 1.9-1.5 3.5-1.4 5 .1 4.2 1.3 1.8 5.8 2 5.8 8.7 2.4 2zM380.6 582.6l.7 1 0-37.1-5.8-2-1.4 1-1.1 3.8-1 15.9 8.6 17.4zM246.9 573.9l3.9-1.4 2.3-1.5 .7-1.4 .3-16 .9-3.3 2.6-3.9-1.1-3.4-1.5-1.9-1.4-.2-2.9 1.5-1.7-.4-1.2-1.8-1.8-6.9-1.1-1.2-1.5-.3-1.4 2.7-.3 4.6 .3 7.3 1.6 8.7-.3 11.6 1.6 5.7 2 1.5zM223.6 542l2.4.5 1.4-1 1.5-2.9 .5-6.7-.5-2.3-1.5-.9-2.9 1.6-1.8 3-.5 4.4 1.4 4.3zM358.9 526.1l.7 1 1.4.2 5.8-2.2 4.4.4 1.4-.7 2.9-3.3 1.4-7-17.7 0-.7 8.7 .4 2.9zM208 523.2l2 1.3 2.9-.6 2-3.6 .8-5.8-14.2 0 1.1 4.3 5.4 4.4z" fill="#f2f7f3" fill-rule="evenodd" stroke="#f2f7f3" stroke-width="0.3"/>
<path d="M210.7 713.2l3 0-.8-3.5-1.4-.1-.8 3.6zM282.5 711.7l.1 1.5 4.6 0 1.2-5.2 1.5 0 1.2 5.2 5.5 0 .5-3.9 1.5-2.8 1.4-.4 .6 7.1 12.2 0 .8-24.7-.8-2.9-4.1-4.7-.9-2.5-2.3-17.4 1.8-3.8 1.4-.8 1.5.4 1.6 2.7 1.3 6.9 1.5-.4 .6-3.6-.6-7.3 2.4-10.1 .3-5.8-4-14.5-1-20.3-1.7-13.1-3.8-10.1-1.3-11.6-3.1-7.3-.7-4.3 1.6-7.3 1.1-1.6 5.8-4.2 1.2 2.9 .2 2.9-2.5 11.6 .4 7.3 2.2 2.8 1.4.5 2.9-.9 3.6-3.9 1.4-4.3-.7-8.7 1.4-8.7-.1-5.8-1.1-2.9-1.6-1.8-1.4-.5-4.4 1.2-.5-.4-.9-1.5-.4-2.8 .5-4.4 3.8-8.7 1-4.3-5.9 0-1.4 4.3-6.4 11.1-5.8 6.7-1.4.7-1.5-1.1-.6-2.9 1.9-8.7-.2-10.1-7.6 0-2.8 13-5.2 12.6-1.4.6-5.9-2.7-2.9 1.1-2.7 4.4-1.4 5.8-.2 4.9 1.4 8.1-1.4 5.3-.3 4.9 1.3 4.3 1.9 2 1.4-.3 .9-1.7 1.5-7.2-.5-2.9-2.7-4.4 .3-1.4 2.7-2.9 3.7-1.6 1.4-1.3 2.9-5.8 1.5-.1 1.6 4.4-.3 2.9-2.3 5.8 .5 2.9 1.9 1.5 1.5-.1 4.3-2.2 2.9 1.1 2.2 2.6 1.5 5.8 .3 5.8-.5 4.4-2 2.6-7.3 2-2.9 3.5-2 4.9-1.8 11.6 .8 5.8 5.4 7.3 1.6 4.3-1.4 21.8 2.1 11.6 .1 11.6 1.9 8.7-.9 4.3-1.4.8-2.9-.6-2.9.9-1.8 1.9-1.3 2.9 .1 7.2 3.2 8.7 1.1 5.8zM289.9 647.1l-.7-5 .7-1.8 1.4-.7 1.4 2.5 0 2.9-1.4 2.6-1.4-.5zM295.7 553.9l-1.3-3.2 1.3-3.8 1 3.8-1 3.2zM305.8 620.9l-.9-2 0-2.9 .9-3.2 1.5-1.9 1.4 1.5 0 4.9-1.4 3.1-1.5.5zM255.2 653.7l1.3 1.1 1.4-.4 1.9-2.2 1.5-4.3-.5-4.7-1.4-1.9-2.9-1.9-1.5 1-.9 4.6-.1 4.3 1.2 4.4zM330.2 631.9l1.8.4 1.2-4.7-1-4.4-1.7-1.2-1.4 1-.7 3.1 .7 4.2 1.1 1.6zM330.5 565.2l0-2.9-1 1.5 1 1.4z" fill="#e5f2ea" fill-rule="evenodd" stroke="#e5f2ea" stroke-width="0.3"/>
<path d="M287.2 713.2l3.9 0-1.2-5.2-1.5 0-1.2 5.2zM289.6 646.4l1.7 1.2 1.4-2.6 0-2.9-1.4-2.5-1.4.7-.7 1.8 .4 4.3zM305.4 620.3l.4.6 1.5-.5 1.4-3.1 0-4.9-1.4-1.5-1.5 1.9-.9 3.2 .5 4.3zM295.4 553.6l1.3-2.9-1-3.8-1.3 3.8 1 2.9zM294.2 536.2l1.5 1.1 1.4-.7 5.8-6.7 6.4-11.1 1.4-4.3-15.4 0 .2 10.1-1.9 8.7 .6 2.9z" fill="#d3ede0" fill-rule="evenodd" stroke="#d3ede0" stroke-width="0.3"/>
<path d="M182.4 615.4l5.8 2.7 3 5.1 2.8 2.7 5.8.5 1.5 1.8 1.5 3.9 .8 10-2.6 27.6 1.2 20.3-.6 13 .7 10.2" fill="none" class="cd"/>
<path d="M196.9 587.7l-1-2.2-.2-4.3 2-2.9 2.1-.4 1.1 3.3-.7 4.3-1.8 2.4-1.5-.2" fill="none" class="cd"/>
<path d="M182.4 582.4l2.9.4 4.4 6.7 4.3 2 .9 1.3 3.7 13 .6 4.4-.8 4-1.5 1.1-5.8-.4-4.3-2.9-1.5-.2-2.9 1.2" fill="none" class="cd"/>
<path d="M188.2 578.6l-.4-3.2 .4-1.5 1.5-1.4 1.9 1.4 .9 2.9-1.4 2.2-2.9-.4" fill="none" class="cd"/>
<path d="M349.9 713.2l-3.4-16 1-5.8 1.9-4.3 1.5.8 7.3 10.8 .1 4.3-1.7 10.2" fill="none" class="cd"/>
<path d="M371.8 713.2l1.9-10.2-1.1-1.8-4.3-.8-4.1-3.2-1.3-2.9 .1-5.8 1-4.3 2.8-6.8 1.5-2 1.4-.7 1.5 2.2 2.9 9.2 1.4-1.7 1.3-6-3-10.2-.1-5.8 .4-1.3 7.2-.7" fill="none" class="cd"/>
<path d="M348 679.4l-3-6-1.2-5.2 0-4.3 1.2-2.9 1.5-.1 1.5 1.3 2.2 6-.2 8.7-.6 2.6-1.4-.1" fill="none" class="cd"/>
<path d="M221.6 662.5l-1.4-.2-1.5-1.8-6.1-18.4 .4-5.8 1.4-3.8 1.4-1.6 1.5.2 1.4 2 2.9 13.2 1.5 2.3 1.4 0 1.5-1.1 5.8-7.9 1.4 3-.3 5.3-2.6 6.5-8.7 8.1" fill="none" class="cd"/>
<path d="M371.2 651l-1.9-4.6 .4-4.2 1.5 0 .9 2.8-.1 4.3-.8 1.7" fill="none" class="cd"/>
<path d="M381.3 643.2l-3-1.1-1.7-2.9 1.2-4.4 3.5-2.6" fill="none" class="cd"/>
<path d="M355.2 624.5l-1-2.7 1-3.1 1.5.9 .6 2.2-.6 2.3-1.5.4" fill="none" class="cd"/>
<path d="M223.1 600l-.9-2.9 .9-3.8 1.7.9 1.1 2.9-1.4 2.7-1.4.2" fill="none" class="cd"/>
<path d="M182.4 572.1l5.8-8.6 1.5-.6 1.4.7 5.8 6.3 2.9-.4 3.4-2.8 .8-2.9 1.1-14.5-.9-1.7-6.3-2.7-1.3-1.4-.5-2.9 .6-5.8 1.3-2.9 1.8-1.4 3 .7 2.8 3.6 4.4 10.9 1.2 7.9-1.2 6.5-4.2 12.4-2.6 23.2 .8 21.7 2.8 11.6 1.2 8.7-3.4 26.2 1.8 14.5-2.2 24.6 .1 10.2" fill="none" class="cd"/>
<path d="M363.9 558.2l-4.8-8.9-1.6-4.4 .6-3.7 2.9-2 1.5.4 1.4 1.5 4.4 9.6 .1 4.4-.9 2.9-.7 1-1.4.4-1.5-1.2" fill="none" class="cd"/>
<path d="M381.3 533.7l-1-1.8 .8-5.8-1.2-11.6" fill="none" class="cd"/>
<path d="M193.8 514.5l-1 5.8-1.7 3.6-5.8 4.3-2.9 3.8" fill="none" class="cd"/>
<path d="M227 514.5l-1.1 5.8-1.4 1.9-2.9 1-1.4-1.3-.5-1.6-.6-5.8" fill="none" class="cd"/>
<path d="M250.5 514.5l-1.3 5.8-1.4 1.7-1.5.3-2.2-2-1.2-5.8" fill="none" class="cd"/>
<path d="M218.5 713.2l.4-4.4 1.3-4 7.2-3 4.4-5.3 4.7 12.3 .6 4.4" fill="none" class="cs"/>
<path d="M239.4 713.2l.6-8.7 4.1-10.2 1.6-8.7 2.9-5.8-.8-4-1.5.2-1.8 8.2-1.1.6-5.8.3-4.4 4.5-2.9-6.1-1.4-1.5-2.9 1.1-2.9 2.2-2.1 3.2-2.3 8.6-1.4 2.4-1.5.3-5.8-1.3-1.4 1.6-1.5 4.4-.5 8.7" fill="none" class="cs"/>
<path d="M324.1 713.2l-.7-2.9-3.6-7.3-.3-4.3 .7-2.9 3.4-5.8 2.3-7.3 1.7-2.8 2.9-1.7 2.9-.7 4.4 1 .4-5.9-1-7.3-3.8-1.9-5.8-6.2-4.3.4-1.5-1.5-.9-5.3 2.3-14.5 .1-.5 1.4.1 5.8 5.9 2.9 0 1.5-1.1 2.4-5.9 2.2-11.6-.4-4.3-1.3-3.6-8.3-6.6-2.8-4.3-1.3-8.7 1.1-8.7 1.1-1.5 1.5-.5 2.9.4 1.4.7 4.4 5.8 4.3.2 2.9.9 1.8 2.7 1.2 9.2 1.4 2.6 2.6-1.7 .9-2.9-.6-4.7-1.4-3-3.3-3.9-.6-4.3 1.3-8.7 4-6.8 0-4.9-1.4 0-3.1 5.9-8.6 8.9-2.9.9-1.4-2.2-.2-6.2 .9-5.8 1.9-5.8 3.2-5.8 .7-4.3-1.1-10.2-.4-15.9-1.7-2.9-4.8-4.8-1.1-3.9" fill="none" class="cs"/>
<path d="M257.2 698.7l2.2-.4 1.4-1.5 3.1-12.6-1.5-5.8-3-4.3-1.5-1-1.9 2.4-1.2 5.8 .6 13 1.1 4.1 .7.3" fill="none" class="cs"/>
<path d="M357.8 679.8l.3.6 0-2.2-.3 1.6" fill="none" class="cs"/>
<path d="M279.7 651.2l-1.4-.6-1.5-2.2-1.1-4.9 2.2-14.5 .4-1.3 1.4-.2 1.9 4.4 .7 10.2-.9 7.2-1.7 1.9" fill="none" class="cs"/>
<path d="M320.4 628.3l-2.9-5.3-1.1-5.6-.3-5.8 1.4-4.4 1.5.1 1.4 2.9 1.5 15.9-.1 1.5-1.4.7" fill="none" class="cs"/>
<path d="M368.1 626.1l3.1.9 3.1-.9 2.5-4.3 .9-5.8-.8-20.3-2.8-4.4-2.9-1.8-1.5-.1-1.6 1.9-1.2 7.3 1.2 14.5-1.3 3.3-.4 3.9 .4 3.7 1.3 2.1" fill="none" class="cs"/>
<path d="M219.7 618.9l1.9.2 .5-1.7-.5-2.4-1.4-.8-1.5.4-.8 1.4 1.8 2.9" fill="none" class="cs"/>
<path d="M231.8 618.9l1.4.3 1.5-1 1.2-6.6-.9-4.3-1.8-1.8-1.4-.5-2.9 1.8-1.8 4.8 1.5 4.4 3.2 2.9" fill="none" class="cs"/>
<path d="M210.5 616l1 .4 1-.4 .7-1.5-1.7-2.5-1.5.3-.2.8 .7 2.9" fill="none" class="cs"/>
<path d="M229.8 584.1l2 .5 1.4-.8 2-4.1 .7-7.2-1.2-8.1-1.5-3.9-1.4-.6-4.4 0-5.8-5.1-1.4-.4-1.5.6-1.4 1.9-1.5 3.5-1.4 5 .1 4.2 1.3 1.8 5.8 2 5.8 8.7 2.4 2" fill="none" class="cs"/>
<path d="M246.9 573.9l3.9-1.4 2.3-1.5 .7-1.4 .3-16 .9-3.3 2.6-3.9-1.1-3.4-1.5-1.9-1.4-.2-2.9 1.5-1.7-.4-1.2-1.8-1.8-6.9-1.1-1.2-1.5-.3-1.4 2.7-.3 4.6 .3 7.3 1.6 8.7-.3 11.6 1.6 5.7 2 1.5" fill="none" class="cs"/>
<path d="M327.6 549.8l-1.2-3.4 1.2-4.5 1.5 1.8 .3 2.7-.3 2.5-1.5.9" fill="none" class="cs"/>
<path d="M381.3 546.5l-4.3-1.9-1.5-.1-1.4 1-1.3 5.2-.9 13.1 .7 3.6 2.9 4.3 2.9 7.6 2.9 4.3" fill="none" class="cs"/>
<path d="M223.6 542l2.4.5 1.4-1 1.5-2.9 .5-6.7-.5-2.3-1.5-.9-2.9 1.6-1.8 3-.5 4.4 1.4 4.3" fill="none" class="cs"/>
<path d="M201.5 514.5l1.3 4.4 5.8 4.7 2.9 1 2.9-2.7 1.3-7.4" fill="none" class="cs"/>
<path d="M254.6 514.5l.4 4.8 1 1 4.8-1.6 2.2 1.6 2 4.3 .9 4.4-.2 4.3-2 6.5-1.4 3.5-3.2 4.5 1.2 8.7 0 5.8-.9 4.5-2.5 5.7 .1 1.4 3 5.8 5.2 7.4 .9 2.8 0 4.3-1.3 4.4-2.5 3.4-1.5.3-4.3-3.2-1.5-.1-1.4 1.2-3.8 5.6-.5 2.9 1.5 10.2-2 14.5-1.4 4.3-5.4 7.3-2.9 5.1-1.7 3.6-.4 2.9 .6 1.4 1.5.7 2.9-.3 3.7-6.2 2.1-.9 1.4 1.7 4.4 12.9 2.9 2.7 1.4-1 3.2-5.2 2.6-2.6 1.5 0 1.4 1.9 3.6 6.5 1.6 4.4-1.3 11.6 2.9 8.7 1.3 11.6 3.6 6 .5 2.7" fill="none" class="cs"/>
<path d="M359.2 514.5l-.6 10.1 1 2.5 1.4.2 5.8-2.2 4.4.4 1.4-.7 2.9-3.3 1.4-7" fill="none" class="cs"/>
<path d="M213.7 713.2l-.8-3.5-1.4-.1-.8 3.6" fill="none" class="cs"/>
<path d="M296.6 713.2l.5-3.9 1.5-2.8 1.4-.4 .6 7.1" fill="none" class="cs"/>
<path d="M312.8 713.2l.8-24.7-.8-2.9-4.1-4.7-.9-2.5-2.3-17.4 1.8-3.8 1.4-.8 1.5.4 1.6 2.7 1.3 6.9 1.5-.4 .6-3.6-.6-7.3 2.4-10.1 .3-5.8-4-14.5-1-20.3-1.7-13.1-3.8-10.1-1.3-11.6-3.1-7.3-.7-4.3 1.6-7.3 1.1-1.6 5.8-4.2 1.2 2.9 .2 2.9-2.5 11.6 .4 7.3 2.2 2.8 1.4.5 2.9-.9 3.6-3.9 1.4-4.3-.7-8.7 1.4-8.7-.1-5.8-1.1-2.9-1.6-1.8-1.4-.5-4.4 1.2-.5-.4-.9-1.5-.4-2.8 .5-4.4 3.8-8.7 1-4.3" fill="none" class="cs"/>
<path d="M255.2 653.7l1.3 1.1 1.4-.4 1.9-2.2 1.5-4.3-.5-4.7-1.4-1.9-2.9-1.9-1.5 1-.9 4.6-.1 4.3 1.2 4.4" fill="none" class="cs"/>
<path d="M330.2 631.9l1.8.4 1.2-4.7-1-4.4-1.7-1.2-1.4 1-.7 3.1 .7 4.2 1.1 1.6" fill="none" class="cs"/>
<path d="M330.5 565.2l0-2.9-1 1.5 1 1.4" fill="none" class="cs"/>
<path d="M287.7 514.5l-2.8 13-5.2 12.6-1.4.6-5.9-2.7-2.9 1.1-2.9 4.8-1.5 8.3 1.5 10.1-1.4 5.3-.3 4.9 1.3 4.3 1.9 2 1.4-.3 .9-1.7 1.5-7.2-.5-2.9-2.7-4.4 .3-1.4 2.7-2.9 3.7-1.6 1.4-1.3 2.9-5.8 1.5-.1 1.6 4.4-.3 2.9-2.3 5.8 .5 2.9 1.9 1.5 1.5-.1 4.3-2.2 2.9 1.1 2.2 2.6 1.5 5.8 .3 5.8-.5 4.4-2 2.6-7.3 2-2.9 3.5-2 4.9-1.8 11.6 .8 5.8 5.4 7.3 1.6 4.3-1.4 21.8 2.1 11.6 .1 11.6 1.9 8.7-.9 4.3-1.4.8-2.9-.6-2.9.9-1.8 1.9-1.3 2.9 .1 7.2 3.7 10.2 .7 5.8" fill="none" class="cs"/>
<path d="M209.7 522.8V704.1M191.5 686H373M227.8 522.8V704.1M191.5 667.8H373M245.9 522.8V704.1M191.5 649.7H373M264.1 522.8V704.1M191.5 631.6H373M282.2 522.8V704.1M191.5 613.4H373M300.4 522.8V704.1M191.5 595.3H373M318.6 522.8V704.1M191.5 577.2H373M336.7 522.8V704.1M191.5 559.1H373M354.9 522.8V704.1M191.5 540.9H373" stroke="#c8c8c8" stroke-width="0.7" stroke-dasharray="2.6 1.6" fill="none" opacity="0.35"/>
<path d="M282.2 522.8V704.1M191.5 613.4H373" stroke="#e04850" stroke-width="1.7" stroke-dasharray="5.4 2.8" fill="none" opacity="0.68"/>
<text x="236" y="557.8" transform="rotate(5 236 552.7)" style="fill:#111;stroke:#f8f6f1" class="cl">–0.02</text>
<text x="299.5" y="596.8" transform="rotate(-85 299.5 591.7)" style="fill:#111;stroke:#e5f2ea" class="cl">0.02</text>
<text x="344" y="544.2" transform="rotate(60 344 539.1)" style="fill:#111;stroke:#f8f6f1" class="cl">0</text>
<text x="199.7" y="640.3" transform="rotate(-60 199.7 635.2)" style="fill:#111;stroke:#ede2d0" class="cl">–0.04</text>
<text x="253.2" y="672.9" transform="rotate(-60 253.2 667.8)" style="fill:#111;stroke:#f8f6f1" class="cl">0</text>
<text x="339.4" y="652.1" transform="rotate(65 339.4 647)" style="fill:#111;stroke:#f8f6f1" class="cl">–0.02</text>
<text x="345.8" y="698.3" transform="rotate(60 345.8 693.2)" style="fill:#111;stroke:#f8f6f1" class="cl">0</text>
<text x="196" y="662.1" transform="rotate(-88 196 657)" style="fill:#111;stroke:#e9dac4" class="cl">90</text>
</g>
<path d="M191.5 522.8v-5M191.5 704.1v5M191.5 704.1h-5M373 704.1h5M209.7 522.8v-5M209.7 704.1v5M191.5 686h-5M373 686h5M227.8 522.8v-5M227.8 704.1v5M191.5 667.8h-5M373 667.8h5M245.9 522.8v-5M245.9 704.1v5M191.5 649.7h-5M373 649.7h5M264.1 522.8v-5M264.1 704.1v5M191.5 631.6h-5M373 631.6h5M282.2 522.8v-5M282.2 704.1v5M191.5 613.4h-5M373 613.4h5M300.4 522.8v-5M300.4 704.1v5M191.5 595.3h-5M373 595.3h5M318.6 522.8v-5M318.6 704.1v5M191.5 577.2h-5M373 577.2h5M336.7 522.8v-5M336.7 704.1v5M191.5 559.1h-5M373 559.1h5M354.9 522.8v-5M354.9 704.1v5M191.5 540.9h-5M373 540.9h5M373 522.8v-5M373 704.1v5M191.5 522.8h-5M373 522.8h5" stroke="#2a2a2a" stroke-width="1.3" fill="none"/>
<rect x="191.5" y="522.8" width="181.5" height="181.3" fill="none" stroke="#2a2a2a" stroke-width="1.4"/>
<text x="191.5" y="724.2" text-anchor="middle" class="tl">-5</text>
<text x="180.8" y="708.6" text-anchor="end" class="tl">-5</text>
<text x="209.7" y="724.2" text-anchor="middle" class="tl">-4</text>
<text x="180.8" y="690.5" text-anchor="end" class="tl">-4</text>
<text x="227.8" y="724.2" text-anchor="middle" class="tl">-3</text>
<text x="180.8" y="672.3" text-anchor="end" class="tl">-3</text>
<text x="245.9" y="724.2" text-anchor="middle" class="tl">-2</text>
<text x="180.8" y="654.2" text-anchor="end" class="tl">-2</text>
<text x="264.1" y="724.2" text-anchor="middle" class="tl">-1</text>
<text x="180.8" y="636.1" text-anchor="end" class="tl">-1</text>
<text x="282.2" y="724.2" text-anchor="middle" class="tl">0</text>
<text x="180.8" y="617.9" text-anchor="end" class="tl">0</text>
<text x="300.4" y="724.2" text-anchor="middle" class="tl">1</text>
<text x="180.8" y="599.8" text-anchor="end" class="tl">1</text>
<text x="318.6" y="724.2" text-anchor="middle" class="tl">2</text>
<text x="180.8" y="581.7" text-anchor="end" class="tl">2</text>
<text x="336.7" y="724.2" text-anchor="middle" class="tl">3</text>
<text x="180.8" y="563.6" text-anchor="end" class="tl">3</text>
<text x="354.9" y="724.2" text-anchor="middle" class="tl">4</text>
<text x="180.8" y="545.4" text-anchor="end" class="tl">4</text>
<text x="373" y="724.2" text-anchor="middle" class="tl">5</text>
<text x="180.8" y="527.3" text-anchor="end" class="tl">5</text>
<text x="188.3" y="511.7" class="pl">(i)</text>
<text x="160.0" y="613.4" transform="rotate(-90 160.0 613.4)" text-anchor="middle" class="at">Distance along TC track (×100 km)</text>
<text x="282.2" y="742.9" text-anchor="middle" class="at">Distance across TC track (×100 km)</text>
<clipPath id="k21"><rect x="419.3" y="522.8" width="181.5" height="181.3"/></clipPath>
<g clip-path="url(#k21)">
<rect x="419.3" y="522.8" width="181.5" height="181.3" fill="#f6f4ee"/>
<path d="M413.9 589.9l7.2.9 9.1 4.5 9.4 1.7-.3 12.8 2.7 12.7 4.5 8 0 19.2 .9 14.5 .6 21.8 .3 23.5-34.4 0z" fill="#ecdcc6" class="cd"/>
<path d="M584.8 613.5l1.2-42.5-1.2-16.4-1.2-12.4-2.5-10.5 2.4-9.9 .7-8.8-4.3-1.1 .4 0-3.7 0 2 0-1.1 0-4.8 0-1.7 0-1.3 0-2.7 0-2 0-1.3 0-1.9 0-3 0-4.2 0-5 0-6.3 0-14.5 0-30.7 0-9 0-6.6 0-5.4 0-4.8 0-4.3 0-4.1 0-4.1 0-3.2 0-.3 0 1.5 0-1.5 0-1.9 0 .4 0 1 0-1.6 0-.5 0 3.2 1.7 2.5 7.6-1.8 10.1 5.7 9.9 1.7 13.3 3.3 16.9 9.2 42.5 3.9 41.4-3.2 16.5 .3 13.2 3.7 11.6-3.7 8.9 1.8 8.9 3.6.6-2.3 0 4.1 0-4 0 2.7 0 4 0 .3 0 1.3 0 3.1 0 2.8 0 1.2 0 .4 0 1.8 0 3.1 0 4.3 0 5.5 0 12.6 0 20.6 0 7.1 0 5.6 0 4.8 0 4.1 0 3.5 0 3.2 0 2.9 0 1.6 0 .8 0 3 0 3.2 0-2.3 0 1.6 0 3.3 0-1.7 0 2.5 0-.6 0 1.1-8.6-1-9.1-2.3-10.5 0-13.1 .1-17.3z" fill="#eef5f0" class="cs"/>
<path d="M565.9 613l-9.2-41.5-5.4-17.3-4.4-12.6-4.9-10.5 .3-9.5-.8-8.3-5.7-1.4-.7 0-.8 0-4.2 0 1.7 0-1.1 0-4.6 0-1.2 0-.5 0-1.6 0-.7 0 .4 0 .3 0-.5 0-.8 0-.8 0-.1 0 11.8 0-6.2 0-3.6 0-2.8 0-2.7 0-2.6 0-2.6 0-2.7 0-3 0-2.5 0 .2 0 1.8 0-1.5 0-2 0-.2 0 .4 0-2.5 0-1.7 0 1.8 0 .7 7.3-3.9 10.9 3.1 9.7-1.3 13.5-1 17.6-1.2 42.5 2.6 42.3-3.7 17.3-.3 13.1 3.4 10.9-4.2 9.6 1.4 8.4 3.2 0-2.7 0 3.7 0-4.5 0 2.3 0 3.5 0-.2 0 .8 0 2.5 0 2.3 0 .6 0-.7 0-.2 0 1.1 0 2.3 0 3.3 0 4.3 0 11.3 0 23.9 0 6.4 0 4.8 0 4.1 0 3.3 0 2.8 0 2.4 0 2.1 0 .9 0 2.2 0 2.3 0-3.1 0 .7 0 2.4 0-2.7 0 1.5 0-1.6-1 0-8.5-2.2-10-3.6-9.7-1.6-12.5-1.9-17.1z" fill="#c2e6d6" class="cs"/>
<path d="M545.3 631.9l-3.2-8.8 .7-6.8 2.1-6.2-1.4-5.5-4.5-4.4-2.7-5.4 .7-4.3 3.4-4.2-.9-4-2.7-4.1-.4-3.8-.6-3.6-2.5-4.6-3.3-3.4-2.5-1.6-1.1-1.8 .1-2.1 .8-2.1 .9-2 .5-1.4-.1-1-.4-.5-.6-.1 .4-.3-4.7 1.6-1.3.3-1.2.5-1.2.9-1.3 1.3-1.8 1.9-2.2 2.5-2 2.3-.4 2.3 1.4 2.5 .9 2.7-2.6 3.2-4 1.6 .5 3.8 2.5 5-2.6 2.9-4 2.8 .8 4.8 3 6.1-.9 4.8-3.7 4.3-1.4 6 1.3 6.8 1.7 9.4-3 12 1.6 7.3 5 6.4-.3 6.4-3.3 6.2 3.5 5.6-1.2 5.1 1.7 5.5 4.8 6.5 1.3 4.3-2.5 4.1-1.4 3.4 1.9 4.2 2.2 3.2 .8 2.8 1.1 1.8 2.3 0 2.2 0 1.2 0 .5 0 .2 0 .4 0 .5 0-.6 0 6.3 0 3.3 0 2.8 0 2.6 0 2.4 0 2.1 0 1.4 0 .5 0 0-.3 .9-2.9 2.1-3.8 .8-3.9-.9-3.5 1.8-5.1 .2-4.6-2.8-3.5 4.4-7.1-1-4.9-4.3-3.9 3.9-7.6-2-5.5-3.1-6.5 2.5-8.1z" fill="#74d2b6" class="cs"/>
<path d="M528.2 622.3l1.1-3.6-.3-2.9-.3-2.7 .8-3.1 1.1-2.9-.5-2.5-2.1-1.8-2.7-1.2-2.2-2.1-1.7-2.4-1.4-2.3-1-2-.1-1.8 .6-1.7 .9-1.5 .8-1.3 .2-1.2-.3-1.2-.6-1-.9-.9-.9-.5-.9-.3-.8-.1-.8.2-.5.3-.5.4-.4.6-.5.7-.6.9-1 1-1.3 1-1.5.8-1.5.6-1.1 1-.4 1.6 .5 2.1 1.3 2.6 1.7 2.9 1.6 2.6 .7 2.3-.6 2.4-1.5 2.2-1.3 2.1-.3 2.5 0 2.8-.1 2.8 .9 3.4 2.9 3.9 2.9 2 .4 2.8-.6 3 .1 2.8 .3 2.6-.8 2.8-1.4 2.7-.4 2.4 1.4 2.3 2.5 1.4 2.5 1.6 2 2.6 1.5 2.8 1.3 2.5 1 2 .7 1.5 .4 1.3 0 1.1 0 .9 0 .8 .1.6 .3.4 .4.1 .6-.2 1.2-.8 .8-1 .9-1.2 1-1.4 .9-1.4 .8-1.3 .6-1.3 .2-1.3-.2-1.3-.7-1.4-1-1.1-1.1-1.1-.5-1.5 .3-2.4 1.2-3.1 1.3-3 .6-2.6-.3-2.5-.1-2.5 0-2.8-.9-2.3-2.6-.9-2.2-1.3z" fill="#3cb09f" class="cs"/>
<path d="M456.5 531l-.1-.7-.3-.7-.4-.6-.6-.4-.6-.3-.7-.1-.7.1-.7.3-.5.4-.5.6-.2.7-.1.7 .1.7 .2.6 .5.6 .5.4 .7.3 .7.1 .7-.1 .6-.3 .6-.4 .4-.6 .3-.6z" fill="#f6f4ee" class="cs"/>
<path d="M426.6 527.3l-.2-.9-.3-.9-.6-.7-.8-.6-.8-.4-1-.1-.9.1-.9.4-.7.6-.6.7-.4.9-.1.9 .1 1 .4.8 .6.8 .7.6 .9.3 .9.2 1-.2 .8-.3 .8-.6 .6-.8 .3-.8z" fill="#eef5f0" class="cs"/>
<path d="M465.2 578.1l0-.9-.2-.9-.2-.8-.3-.5-.4-.4-.3-.1-.4.1-.4.4-.3.5-.2.8-.1.9-.1.9 .1.9 .1.9 .2.8 .3.5 .4.4 .4.1 .3-.1 .4-.4 .3-.5 .2-.8 .2-.9z" fill="#f6f4ee" class="cs"/>
<path d="M429.8 617.1l0-1.2-.2-1.1-.2-.9-.3-.7-.3-.5-.4-.2-.4.2-.4.5-.3.7-.2.9-.1 1.1-.1 1.2 .1 1.1 .1 1.1 .2 1 .3.7 .4.5 .4.1 .4-.1 .3-.5 .3-.7 .2-1 .2-1.1z" fill="#ecdcc6" class="cd"/>
<path d="M576.3 577.2l-.1-1.2-.3-1.1-.4-.9-.6-.7-.6-.5-.7-.1-.7.1-.7.5-.6.7-.4.9-.3 1.1 0 1.2 0 1.2 .3 1.1 .4.9 .6.7 .7.5 .7.1 .7-.1 .6-.5 .6-.7 .4-.9 .3-1.1z" fill="#f6f4ee" class="cs"/>
<path d="M566.7 662.4l-.1-1.4-.1-1.3-.2-1.1-.3-.9-.3-.6-.3-.1-.3.1-.3.6-.3.9-.2 1.1-.1 1.3-.1 1.4 .1 1.4 .1 1.3 .2 1.1 .3.9 .3.6 .3.1 .3-.1 .3-.6 .3-.9 .2-1.1 .1-1.3z" fill="#c2e6d6" class="cs"/>
<path d="M437.4 522.8V704.1M419.3 686H600.8M455.6 522.8V704.1M419.3 667.8H600.8M473.8 522.8V704.1M419.3 649.7H600.8M491.9 522.8V704.1M419.3 631.6H600.8M510.1 522.8V704.1M419.3 613.4H600.8M528.2 522.8V704.1M419.3 595.3H600.8M546.4 522.8V704.1M419.3 577.2H600.8M564.5 522.8V704.1M419.3 559.1H600.8M582.6 522.8V704.1M419.3 540.9H600.8" stroke="#c8c8c8" stroke-width="0.7" stroke-dasharray="2.6 1.6" fill="none" opacity="0.35"/>
<path d="M510.1 522.8V704.1M419.3 613.4H600.8" stroke="#e04850" stroke-width="1.7" stroke-dasharray="5.4 2.8" fill="none" opacity="0.68"/>
<text x="520" y="565.1" transform="rotate(-55 520 560)" style="fill:#111;stroke:#74d2b6" class="cl">0.15</text>
<text x="496.4" y="610.4" transform="rotate(-85 496.4 605.3)" style="fill:#111;stroke:#eef5f0" class="cl">0.05</text>
<text x="560.9" y="606.8" transform="rotate(70 560.9 601.7)" style="fill:#111;stroke:#c2e6d6" class="cl">0.05</text>
<text x="552.7" y="650.3" transform="rotate(75 552.7 645.2)" style="fill:#111;stroke:#c2e6d6" class="cl">0.1</text>
<text x="438.4" y="636.7" transform="rotate(80 438.4 631.6)" style="fill:#111;stroke:#ecdcc6" class="cl">–0.05</text>
<text x="476.5" y="670.2" transform="rotate(-65 476.5 665.1)" style="fill:#111;stroke:#f6f4ee" class="cl">0</text>
<text x="578.1" y="663.9" transform="rotate(65 578.1 658.8)" style="fill:#111;stroke:#eef5f0" class="cl">0</text>
</g>
<path d="M419.3 522.8v-5M419.3 704.1v5M419.3 704.1h-5M600.8 704.1h5M437.4 522.8v-5M437.4 704.1v5M419.3 686h-5M600.8 686h5M455.6 522.8v-5M455.6 704.1v5M419.3 667.8h-5M600.8 667.8h5M473.8 522.8v-5M473.8 704.1v5M419.3 649.7h-5M600.8 649.7h5M491.9 522.8v-5M491.9 704.1v5M419.3 631.6h-5M600.8 631.6h5M510.1 522.8v-5M510.1 704.1v5M419.3 613.4h-5M600.8 613.4h5M528.2 522.8v-5M528.2 704.1v5M419.3 595.3h-5M600.8 595.3h5M546.4 522.8v-5M546.4 704.1v5M419.3 577.2h-5M600.8 577.2h5M564.5 522.8v-5M564.5 704.1v5M419.3 559.1h-5M600.8 559.1h5M582.6 522.8v-5M582.6 704.1v5M419.3 540.9h-5M600.8 540.9h5M600.8 522.8v-5M600.8 704.1v5M419.3 522.8h-5M600.8 522.8h5" stroke="#2a2a2a" stroke-width="1.3" fill="none"/>
<rect x="419.3" y="522.8" width="181.5" height="181.3" fill="none" stroke="#2a2a2a" stroke-width="1.4"/>
<text x="419.3" y="724.2" text-anchor="middle" class="tl">-5</text>
<text x="408.6" y="708.6" text-anchor="end" class="tl">-5</text>
<text x="437.4" y="724.2" text-anchor="middle" class="tl">-4</text>
<text x="408.6" y="690.5" text-anchor="end" class="tl">-4</text>
<text x="455.6" y="724.2" text-anchor="middle" class="tl">-3</text>
<text x="408.6" y="672.3" text-anchor="end" class="tl">-3</text>
<text x="473.8" y="724.2" text-anchor="middle" class="tl">-2</text>
<text x="408.6" y="654.2" text-anchor="end" class="tl">-2</text>
<text x="491.9" y="724.2" text-anchor="middle" class="tl">-1</text>
<text x="408.6" y="636.1" text-anchor="end" class="tl">-1</text>
<text x="510.1" y="724.2" text-anchor="middle" class="tl">0</text>
<text x="408.6" y="617.9" text-anchor="end" class="tl">0</text>
<text x="528.2" y="724.2" text-anchor="middle" class="tl">1</text>
<text x="408.6" y="599.8" text-anchor="end" class="tl">1</text>
<text x="546.4" y="724.2" text-anchor="middle" class="tl">2</text>
<text x="408.6" y="581.7" text-anchor="end" class="tl">2</text>
<text x="564.5" y="724.2" text-anchor="middle" class="tl">3</text>
<text x="408.6" y="563.6" text-anchor="end" class="tl">3</text>
<text x="582.6" y="724.2" text-anchor="middle" class="tl">4</text>
<text x="408.6" y="545.4" text-anchor="end" class="tl">4</text>
<text x="600.8" y="724.2" text-anchor="middle" class="tl">5</text>
<text x="408.6" y="527.3" text-anchor="end" class="tl">5</text>
<text x="419.3" y="509.4" class="pl">(j)</text>
<text x="510.1" y="742.9" text-anchor="middle" class="at">Distance across TC track (×100 km)</text>
<clipPath id="k22"><rect x="646.9" y="522.8" width="181.5" height="181.3"/></clipPath>
<g clip-path="url(#k22)">
<rect x="646.9" y="522.8" width="181.5" height="181.3" fill="#f6f4ee"/>
<path d="M641.5 551.8l5.4 0 9.1 18.1 10.9 1.9 9 16.3 5.5 19.9 4.5 14.5-.9 9.1-5.4 12.7-3.7 23.5-3.6 27.2 1.8 14.5-32.6 0z" fill="#ecdcc6" class="cd"/>
<path d="M641.5 629.8l8.1 3.6 1.8 25.4-2.7 14.5-7.2 3.6z" fill="#e6bf95" class="cd"/>
<path d="M656.9 532.8l-.2-.6-.5-.5-.9-.5-1.1-.3-1.4-.2-1.4-.1-1.4.1-1.3.2-1.1.3-.9.5-.5.5-.2.6 .2.5 .5.6 .9.4 1.1.4 1.3.2 1.4 0 1.4 0 1.4-.2 1.1-.4 .9-.4 .5-.6z" fill="#ecdcc6" class="cd"/>
<path d="M812.9 612.9l.1-41.8-4.7-16.1-1.3-13.5 3.9-10.9-4-9.6-2.4-9.1 .2 0 .3 0-.9 0-2.9 0-2 0-.4 0-1.8 0-3.4 0-2.1 0-.9 0-1.6 0-2.7 0-3.2 0-3.2 0-3.2 0-3.6 0-5 0-12.6 0-14.1 0-5.3 0-3.8 0-3.1 0-2.6 0-2.5 0-2.7 0-2.4 0-.9 0 .4 0-1.1 0-2.8 0-1.2 0 .2 0-3.9 0 .3 0-.2 2.1 2.4 7.2-1.2 10.2-1.8 11.7-.7 13.3 4.1 15.3 1.2 41 3 42.5-.4 17 .2 13.2 .8 11.3 5.7 10.3-4.3 8 2 0 1.6 0 2.8 0 .1 0 2.8 0 .4 0 1.5 0 2.9 0 1.3 0 .4 0 1.4 0 2.5 0 3.3 0 3.5 0 3.9 0 4.3 0 5.4 0 12.8 0 10.6 0 5 0 3.7 0 3.2 0 3.4 0 4 0 4.2 0 2.5 0 .1 0 .6 0 3 0 1.1 0-.5 0 1.7 0-.5 0 1.9 0-2.1 0 5.8 0-2.8-7.6-1.9-10.1 .4-10.8 1.5-12.7-1.6-17.6z" fill="#eef5f0" class="cs"/>
<path d="M794.8 614.1l-1.2-23.3 0-13.8-4.9-11.4-.9-9.9 2-9.5-3.3-7.8 1.2-8-3.9-6.8-1.3-6.8-2.6-4.9 .3 0-.6 0-1.1 0-2.4 0-3 0-2.4 0-1.4 0-1.3 0-2.1 0-2.8 0-3.1 0-3.3 0-3.6 0-5.8 0-3.1 0-3.1 0-2.5 0-2.5 0-2.7 0-2.7 0-2.1 0-1.1 0-.5 0-.3 0-1.4 0-3.8 0-.5 0 1 0-1.1 1.7 2.2 7.8-1.4 6.4-2.1 7 2.6 9.4-3.3 8 4.3 11.8 1.2 12-1.8 12.9 2.8 24.7 .6 23.9 5.2 14.6-1.1 11.3 .3 10.2 0 9.1 4.2 7.6-1.7 8.5 6.3 4.5-2.7 7.6 1.1 4.1 1.2 0 2.2 0 3.7 0 .5 0 1.7 0 3 0 1.7 0 1.1 0 1.9 0 2.7 0 3.1 0 3.1 0 3.5 0 5.7 0 4.3 0 3.5 0 3.2 0 3 0 2.5 0 1.5 0 .4 0 1.1 0 1.9 0 .6 0 .6 0 2 0-1.8 0 3.7 0 2-2.3-1.9-7.6-1.6-7.9 2.5-6.6-2.8-9.6 2.2-8.2 1-9.6-3.4-13 0-13.8z" fill="#c2e6d6" class="cs"/>
<path d="M778.8 615.5l.1-13.5-3.4-8.1 4.3-6.2-2.9-6.3 1.7-5.1-.6-4.9-4.2-4.5 .1-4.1-.1-3.8-1.9-3.9 .2-3.3 1.4-2.7-.6-2.8-3-3.6-3.1-3.2-1.7-1.7-.1-1.8 .3-1.6 0-1.3-.7-.8-1.3-.2-1.9.3-2.3.2-4-1.2-6.5 1.2-2.2.9-1.9.7-1.8.7-1.8.8-1.9 1.1-1.7 1.3-1.3 1.6-.4 1.9 .5 2.4 .3 2.5-1.3 2.6-2.8 2.9-1.6 3.4 1.5 3.4 1.5 3.8-1.2 4.1-.2 4.5 .9 4.8-2.9 5.4-.7 6 .8 6.4 1.7 7.8 .3 13.5-.8 14.9 0 7.8-1.3 6.4 5.2 4.5-.4 5.4-.8 5.2 .8 4-.2 4.2 .3 3.6 1.6 2.6 .7 3-.5 3.2 .4 2.5 1.9 2 2.5 2.5 2 2.4 1 1.9 .5 1.5 .4 1.3 .8 1 1.3.7 1.6.5 2.2.8 3.6 1.5 4-.2 2.2-.6 1.9-.3 1.7-.3 1.8-.6 2-1.5 2.2-2.7 1.8-2.9 .8-2.4-.4-2.1-.4-2.3 1.6-3.3 3.4-2.3 1.4-2.6-1.9-4.4-.2-3.8 3.2-2.7 .2-4.4-1.8-5.5-.3-5.3-1.2-6.3 2.7-5.3 .1-7.8z" fill="#74d2b6" class="cs"/>
<path d="M772.2 621.8l-1-6.9-.6-5.3 .3-4.5 0-4.4-2.7-5.1-.9-4.1 2.6-2.8 .9-3-2.3-4.3-1.5-3.4 .8-2.7 .8-2.5-1.3-2.8-2.8-1.8-2.6-.8-1.5-1.3-.7-1.5-.4-1.5-.6-1.2-1-1.2-1.2-1.2-1.4-1-1.5-.6-1.9.1-1.8.7-1.2.8-.9.9-.7.9-.6 1.2-.7 1.3-1.1 1.5-1.4 1.6-1.4 1.7-1 1.9-.1 2.3 .1 2.5-.8 2.6-2.3 2.6-2.1 2.7-.6 3.2 .4 3.5-.2 3.7-.1 3.8 1.1 4.2 .1 4.4-1.3 4.4 1.1 5.2-.3 6.5-.8 6.6 1.4 4.3-2.5 5.9-.3 4.5 3.8 2.1 2.4 3.4-.8 3.7-.7 3.6 .8 3.1 .7 3.1 0 2.9 .3 2.7 1.1 2.6 1.4 2.6 1.1 2.3 .6 1.9 .3 1.7 .4 1.5 .8 1.2 1.2.9 1.5.6 1.5.7 1.6.7 2 .9 1.7.5 1.2-.2 1-.6 .9-.9 1.1-1.2 1.5-1.4 2-1.2 2.5-.9 2.1-1.6 .7-2.2-.8-2.2-.9-2.5 1-2.7 2.7-3.9 1.6-4.1-.9-2.7-1-2.8 .1-3.8-.6-3.5-.4-3.8 2-5.5 1.3-5.5-.2-4.9z" fill="#3cb09f" class="cs"/>
<path d="M765.5 617.1l-.4-2.4-.2-2.3-.4-2.3-.3-2.2 0-2.4 .2-2.4-.2-2.1-1.1-1.6-1.7-1.2-1.6-1.5-.7-1.9 .3-1.7 .9-1.8 .8-1.8 .1-1.5-.5-1.1-1-1-1.3-1-1.3-1.2-1.2-1.1-1.1-.8-1-.6-.8-.3-.8 0-1.5.5-.9.6-1 .8-1 .8-1 1-.8 1-.7 1-.5 1.2-.4 1.3-.2 1.4-.4 1.5-.5 1.6-.6 1.8-.4 1.8-.1 2 .3 2.1 .3 2.2-.1 2.2-.7 2.2-.9 2.2-.4 2.3 .5 2.5 .9 2.6 .3 2.5-.6.1-1.1 2.2-.3 2.4 .6 2.5 1.2 2.6 .6 2.4-.4 2.1-1.1 2-.8 1.9 .4 2.1 1.5 2.2 2.3 2.1 2.2 1.6 1.7 1.4 1.1 1.4 .6 1.4 .4 1.3 .3 1 .3 1 .4.9 .6.7 .7.7 .7.5 .8.4 .6.1 .7-.1 .6-.3 .5-.6 .6-.7 .5-.9 .7-1.1 .6-1.3 .6-1.4 .4-1.5 .1-1.5-.1-1.7 .2-1.8 .8-2 1.3-1.8 1.5-1.7 1.1-1.8 .4-2.1 .1-2.3 .1-2.3 .3-2.4 .1-2.4-.3-2.5z" fill="#2a8d8b" class="cs"/>
<path d="M754.2 617.9l-.1-.6-.1-.7 0-.6-.1-.6-.1-.6-.1-.6-.1-.6-.1-.6-.1-.5-.1-.5-.1-.5-.1-.5-.1-.4-.1-.4-.1-.3-.2-.4-.1-.2-.1-.3-.1-.2-.1-.2-.1-.1-.1-.1-.1 0-.1 0 .2 0-.1.1-.2.1-.2.2-.2.2-.1.3-.2.3-.2.4-.1.4-.2.4-.1.4-.1.5 0 .4 0 .5 .1.5 .1.5 .1.5 .2.5 .1.6 .2.5 .2.6 .1.6 .1.6 0 .6-.1.4-.1.6-.1.5-.2.6-.2.5-.3.6-.2.5-.2.5-.2.5-.1.5 0 .5 0 .5 0 .4 .1.4 .1.4 .2.4 .1.3 .2.3 .2.2 .2.3 .1.1 .2.2 .2.1 .1.1 1.6.6 .1 0 .2-.1 .1-.1 .1-.1 .1-.2 .2-.2 .1-.3 .1-.2 .1-.4 .1-.3 .1-.4 .1-.4 .1-.5 0-.5 .1-.5 0-.6-.1-.6 0-.6-.1-.6 0-.6-.1-.7-.1-.6z" fill="#24717a" class="cs"/>
<path d="M665 522.8V704.1M646.9 686H828.4M683.2 522.8V704.1M646.9 667.8H828.4M701.4 522.8V704.1M646.9 649.7H828.4M719.5 522.8V704.1M646.9 631.6H828.4M737.6 522.8V704.1M646.9 613.4H828.4M755.8 522.8V704.1M646.9 595.3H828.4M773.9 522.8V704.1M646.9 577.2H828.4M792.1 522.8V704.1M646.9 559.1H828.4M810.2 522.8V704.1M646.9 540.9H828.4" stroke="#c8c8c8" stroke-width="0.7" stroke-dasharray="2.6 1.6" fill="none" opacity="0.35"/>
<path d="M737.6 522.8V704.1M646.9 613.4H828.4" stroke="#e04850" stroke-width="1.7" stroke-dasharray="5.4 2.8" fill="none" opacity="0.68"/>
<text x="747.6" y="563.3" transform="rotate(-20 747.6 558.2)" style="fill:#111;stroke:#74d2b6" class="cl">0.15</text>
<text x="754.9" y="578.7" transform="rotate(-40 754.9 573.6)" style="fill:#111;stroke:#3cb09f" class="cl">0.2</text>
<text x="730.4" y="626.7" transform="rotate(-85 730.4 621.6)" style="fill:#111;stroke:#c2e6d6" class="cl">0.05</text>
<text x="711.3" y="644.8" transform="rotate(-60 711.3 639.7)" style="fill:#111;stroke:#f6f4ee" class="cl">0</text>
<text x="779.4" y="614.9" transform="rotate(88 779.4 609.8)" style="fill:#111;stroke:#c2e6d6" class="cl">0.1</text>
<text x="793" y="613.1" transform="rotate(88 793 608)" style="fill:#111;stroke:#c2e6d6" class="cl">0.05</text>
<text x="816.6" y="684.7" transform="rotate(80 816.6 679.6)" style="fill:#111;stroke:#f6f4ee" class="cl">0</text>
<text x="676.8" y="586.8" transform="rotate(70 676.8 581.7)" style="fill:#111;stroke:#f6f4ee" class="cl">–0.05</text>
<text x="650.5" y="653" transform="rotate(85 650.5 647.9)" style="fill:#111;stroke:#e6bf95" class="cl">–0.1</text>
</g>
<path d="M646.9 522.8v-5M646.9 704.1v5M646.9 704.1h-5M828.4 704.1h5M665 522.8v-5M665 704.1v5M646.9 686h-5M828.4 686h5M683.2 522.8v-5M683.2 704.1v5M646.9 667.8h-5M828.4 667.8h5M701.4 522.8v-5M701.4 704.1v5M646.9 649.7h-5M828.4 649.7h5M719.5 522.8v-5M719.5 704.1v5M646.9 631.6h-5M828.4 631.6h5M737.6 522.8v-5M737.6 704.1v5M646.9 613.4h-5M828.4 613.4h5M755.8 522.8v-5M755.8 704.1v5M646.9 595.3h-5M828.4 595.3h5M773.9 522.8v-5M773.9 704.1v5M646.9 577.2h-5M828.4 577.2h5M792.1 522.8v-5M792.1 704.1v5M646.9 559.1h-5M828.4 559.1h5M810.2 522.8v-5M810.2 704.1v5M646.9 540.9h-5M828.4 540.9h5M828.4 522.8v-5M828.4 704.1v5M646.9 522.8h-5M828.4 522.8h5" stroke="#2a2a2a" stroke-width="1.3" fill="none"/>
<rect x="646.9" y="522.8" width="181.5" height="181.3" fill="none" stroke="#2a2a2a" stroke-width="1.4"/>
<text x="646.9" y="724.2" text-anchor="middle" class="tl">-5</text>
<text x="636.2" y="708.6" text-anchor="end" class="tl">-5</text>
<text x="665" y="724.2" text-anchor="middle" class="tl">-4</text>
<text x="636.2" y="690.5" text-anchor="end" class="tl">-4</text>
<text x="683.2" y="724.2" text-anchor="middle" class="tl">-3</text>
<text x="636.2" y="672.3" text-anchor="end" class="tl">-3</text>
<text x="701.4" y="724.2" text-anchor="middle" class="tl">-2</text>
<text x="636.2" y="654.2" text-anchor="end" class="tl">-2</text>
<text x="719.5" y="724.2" text-anchor="middle" class="tl">-1</text>
<text x="636.2" y="636.1" text-anchor="end" class="tl">-1</text>
<text x="737.6" y="724.2" text-anchor="middle" class="tl">0</text>
<text x="636.2" y="617.9" text-anchor="end" class="tl">0</text>
<text x="755.8" y="724.2" text-anchor="middle" class="tl">1</text>
<text x="636.2" y="599.8" text-anchor="end" class="tl">1</text>
<text x="773.9" y="724.2" text-anchor="middle" class="tl">2</text>
<text x="636.2" y="581.7" text-anchor="end" class="tl">2</text>
<text x="792.1" y="724.2" text-anchor="middle" class="tl">3</text>
<text x="636.2" y="563.6" text-anchor="end" class="tl">3</text>
<text x="810.2" y="724.2" text-anchor="middle" class="tl">4</text>
<text x="636.2" y="545.4" text-anchor="end" class="tl">4</text>
<text x="828.4" y="724.2" text-anchor="middle" class="tl">5</text>
<text x="636.2" y="527.3" text-anchor="end" class="tl">5</text>
<text x="643.3" y="510.3" class="pl">(k)</text>
<text x="737.6" y="742.9" text-anchor="middle" class="at">Distance across TC track (×100 km)</text>
<clipPath id="k23"><rect x="874.5" y="522.8" width="181.5" height="181.3"/></clipPath>
<g clip-path="url(#k23)">
<rect x="874.5" y="522.8" width="181.5" height="181.3" fill="#f6f4ee"/>
<path d="M869.1 550l5.4 0 12.7 9.1 7.6 4.1 6.9 11.3 10.9 18.1 1.8 22.7-3.6 21.7-9.1 27.2-1.8 14.5-1.8 14.5-1.8 16.3-27.2 0z" fill="#ecdcc6" class="cd"/>
<path d="M869.1 530.1l18.1 3.6-5.4 1.8-12.7.9z" fill="#ecdcc6" class="cd"/>
<path d="M1061.4 573.6l-8.1 3.6-.6 27.2-1.2 27.2 1.8 27.2 8.1 3.6z" fill="#ecdcc6" class="cd"/>
<path d="M1056.9 534.6l-.1-.6-.3-.5-.4-.5-.6-.3-.6-.2-.7-.1-.7.1-.7.2-.5.3-.5.5-.2.5-.1.6 .1.5 .2.6 .5.4 .5.4 .7.2 .7.1 .7-.1 .6-.2 .6-.4 .4-.4 .3-.6z" fill="#ecdcc6" class="cd"/>
<path d="M1021.8 612.4l-.9-41.9 .3-17.1-2.3-13.3 1.1-11 .7-9.4-.4-7.8-3 0-1.4 0 .9 0 1.2 0-.5 0-2.6 0-1.3 0-2 0-2.3 0-.6 0-.3 0-1.7 0-2.8 0-2.9 0-2.8 0-3.1 0-3.9 0-9.7 0-9.6 0-4 0-3 0-2.7 0-2.7 0-2.8 0-2.1 0-.4 0 .1 0-1 0 .1 0 .2 0-4.4 0-.8 0-3.3 0 2.4 0-1.7 0 1.4 1-1.8 8.6-.3 9.5-1.9 11.2 1.6 12.9 .1 17.2 .9 41.7 0 41.3-2.9 18.2 3 12.1 1.3 10.7-2.1 10-.3 8.5 2 .2-1.1 0 2.5 0 1.1 0 1.2 0 .3 0 .4 0 .7 0 1.6 0 1.9 0 1.5 0 1.6 0 1.9 0 2.3 0 2.7 0 3.1 0 4.1 0 9.7 0 10.9 0 3.7 0 2.6 0 2 0 2.1 0 2.6 0 2.4 0 .6 0-.5 0 1.6 0 3.1 0 1.3 0 2.4 0 .9 0-.1 0-1.3 0 1.2 0 .2-.8 2.4-8.7 1.3-9.8-2.9-10.4 1.5-13.3 .9-17.4z" fill="#eef5f0" class="cs"/>
<path d="M998.5 631l3.1-13.7-1.8-10-2.6-8.9 1.4-6.8-.3-6.7-1.1-6.4-1.3-6 1.2-5-1.4-5.2 1.2-4.4-1.8-4.5-2.5-3.9-.8-3.5-1.1-3-1.6-2.7-1.1-2.5-.8-2.2-.9-1.9-.9-1.5-1.2-1.2-1.3-.8-1.5-.4-1.9-.2-3.1-.4-3.3-.5-2.1.5-1.8.9-1.5 1.1-1.1 1.4-.9 1.5-1.4 1.6-2.1 1.5-1.9 2.2-.4 3-.4 3.3-1.1 3.7 .7 3.8 .3 4.3-2.1 4.9 .6 4.8-1.6 5.8 .3 5.6-.7 6.3-.6 6.8 0 7.2 .8 7.7 .4 9.3-1.8 15.4-.1 15.1 3.6 7.4 1.4 6.6-3 8-.6 6.2-.2 5.6 3.9 3.5 .4 4.6 1.8 3.9 .6 4.1-1.9 4.4 1.2 3.2 2.2 3.1 .2 3.1 .1 2.7 1.4 2.2 2 0 1.6 0 1.1 0 .9 0 1.1 0 1.4 0 1.8 0 3.1 0 2.8 0 2.1 0 1.8 0 1.8 0 1.5 0 1.1 0 .6 0 .8 0 1.7-2.2 2.4-3.2 1.5-2.5 .4-3 1.5-2.6 1.2-3.1-1.3-5.1-.7-4.9-.5-5.2 .9-4.5 1.3-4.7 1.7-5.1-1.5-7.3 1.4-6.6-1.5-9.4z" fill="#c2e6d6" class="cs"/>
<path d="M993.7 610.2l0-5.1-2-4.1-.1-4.1 1.2-4.2-1.2-3.6-.2-3.6 .9-3.7-1.8-3-2.2-2.8 .4-3.1 .9-3-.8-2.6-1.5-2.2-.6-2.2 .1-2.2 0-1.9-.8-1.5-1.5-1.2-1.6-.8-1.6-.7-1.5-.6-1.3-.6-1.3-.4-1.4-.4-1.5-.2-1 .2-.9.6-.7.8-.4 1-.3 1.3-.4 1.5-1 1.8-1.5 1.9-1.5 2-.7 2.2 .2 2.6-.5 2.5-1.7 2.3-.9 2.7 .6 3.4-.1 3.3-1.5 3-.5 3.5 0 3.8-.2 3.9 .5 4.3 .3 4.5 1.1 5.4-.4 4.3-.7 4.5 1.4 4-1 4-.9 4 1.6 3.5 0 3.5-.7 3.4 1.7 3.2 2.6 3.6 1.1 3.3 .5 2.9 1.3 3 1.4 2.7 .6 2.2-.1 1.9-.2 1.7 .1 1.5 .5 1.3 .9 1 1 .7 1 .3 1.1-.1 1.3-.4 2.8-.5 1.2-.1 1.2 0 1.3-.1 1.4-.3 1.5-.9 1.2-1.5 .6-1.9-.2-1.9-.4-2 .7-2.5 1.8-3.6 1.2-3.6-.6-2.4-.4-2.8 2-4.6 .9-3.8-2.2-2.2-.3-3.4 1.9-5.1-.6-3.6 1-4.7 2.1-4.6z" fill="#74d2b6" class="cs"/>
<path d="M986.5 608.7l0-2.3-.8-2.2-1.3-2-.6-2.1 .6-2.4 .8-2.3 0-2.1-.9-1.9-.9-1.7-.1-1.9 .3-1.8 .3-1.8-.4-1.5-1-1.2-1.4-1-1.3-1.1-1-1-.7-1-.4-.9-.4-.7-.3-.5-.3-.5-.5-.3-.5-.2-.1.1-.6.1-.7.3-.7.4-.6.6-.5.8-.3.9-.1 1.1 0 1.2-.1 1.4-.3 1.4-.7 1.6-1 1.8-.9 1.8-.4 2-.1 1.9-.1 2.1-.2 2.1-.3 2.1 .1 2.3 .3 2.2 .2 2.3 .1 2.3 .3 2.3 .7 2.1 .4 2.5-.3 2.2-.7 2-.1 2.1 .7 2.4 .9 2.4 .3 2.1-.5 1.9-.7 1.6-.1 1.8 .6 1.9 1.1 1.8 .9 1.6 .5 1.3 .2 1.2 .1 1.1 0 1 .3.8 .3.6 .6.4 .5.2 .6 0 .6-.1 2.9-1 .7-.3 .8-.4 .8-.3 .8-.4 .7-.4 .5-.7 0-1.1-.4-1.5-.7-1.6-.5-1.7 .2-1.5 1-1.2 1.3-1.1 .7-1.4 0-2-.3-2.2 .4-1.9 1.5-1.6 1.4-2.3 .3-2.3-.8-2.1-.8-2.4z" fill="#3cb09f" class="cs"/>
<path d="M892.6 522.8V704.1M874.5 686H1056M910.8 522.8V704.1M874.5 667.8H1056M929 522.8V704.1M874.5 649.7H1056M947.1 522.8V704.1M874.5 631.6H1056M965.2 522.8V704.1M874.5 613.4H1056M983.4 522.8V704.1M874.5 595.3H1056M1001.5 522.8V704.1M874.5 577.2H1056M1019.7 522.8V704.1M874.5 559.1H1056M1037.8 522.8V704.1M874.5 540.9H1056" stroke="#c8c8c8" stroke-width="0.7" stroke-dasharray="2.6 1.6" fill="none" opacity="0.35"/>
<path d="M965.2 522.8V704.1M874.5 613.4H1056" stroke="#e04850" stroke-width="1.7" stroke-dasharray="5.4 2.8" fill="none" opacity="0.68"/>
<text x="912.6" y="612.2" transform="rotate(88 912.6 607.1)" style="fill:#111;stroke:#ecdcc6" class="cl">–0.05</text>
<text x="945.3" y="653.9" transform="rotate(80 945.3 648.8)" style="fill:#111;stroke:#f6f4ee" class="cl">0</text>
<text x="995.2" y="571.4" transform="rotate(75 995.2 566.3)" style="fill:#111;stroke:#c2e6d6" class="cl">0.05</text>
<text x="985.2" y="576.9" transform="rotate(60 985.2 571.8)" style="fill:#111;stroke:#74d2b6" class="cl">0.1</text>
<text x="982.5" y="589.5" transform="rotate(60 982.5 584.4)" style="fill:#111;stroke:#3cb09f" class="cl">0.15</text>
<text x="1012.4" y="679.3" transform="rotate(75 1012.4 674.2)" style="fill:#111;stroke:#eef5f0" class="cl">0</text>
<text x="1047.8" y="619.5" transform="rotate(-88 1047.8 614.4)" style="fill:#111;stroke:#f6f4ee" class="cl">–0.05</text>
</g>
<path d="M874.5 522.8v-5M874.5 704.1v5M874.5 704.1h-5M1056 704.1h5M892.6 522.8v-5M892.6 704.1v5M874.5 686h-5M1056 686h5M910.8 522.8v-5M910.8 704.1v5M874.5 667.8h-5M1056 667.8h5M929 522.8v-5M929 704.1v5M874.5 649.7h-5M1056 649.7h5M947.1 522.8v-5M947.1 704.1v5M874.5 631.6h-5M1056 631.6h5M965.2 522.8v-5M965.2 704.1v5M874.5 613.4h-5M1056 613.4h5M983.4 522.8v-5M983.4 704.1v5M874.5 595.3h-5M1056 595.3h5M1001.5 522.8v-5M1001.5 704.1v5M874.5 577.2h-5M1056 577.2h5M1019.7 522.8v-5M1019.7 704.1v5M874.5 559.1h-5M1056 559.1h5M1037.8 522.8v-5M1037.8 704.1v5M874.5 540.9h-5M1056 540.9h5M1056 522.8v-5M1056 704.1v5M874.5 522.8h-5M1056 522.8h5" stroke="#2a2a2a" stroke-width="1.3" fill="none"/>
<rect x="874.5" y="522.8" width="181.5" height="181.3" fill="none" stroke="#2a2a2a" stroke-width="1.4"/>
<text x="874.5" y="724.2" text-anchor="middle" class="tl">-5</text>
<text x="863.8" y="708.6" text-anchor="end" class="tl">-5</text>
<text x="892.6" y="724.2" text-anchor="middle" class="tl">-4</text>
<text x="863.8" y="690.5" text-anchor="end" class="tl">-4</text>
<text x="910.8" y="724.2" text-anchor="middle" class="tl">-3</text>
<text x="863.8" y="672.3" text-anchor="end" class="tl">-3</text>
<text x="929" y="724.2" text-anchor="middle" class="tl">-2</text>
<text x="863.8" y="654.2" text-anchor="end" class="tl">-2</text>
<text x="947.1" y="724.2" text-anchor="middle" class="tl">-1</text>
<text x="863.8" y="636.1" text-anchor="end" class="tl">-1</text>
<text x="965.2" y="724.2" text-anchor="middle" class="tl">0</text>
<text x="863.8" y="617.9" text-anchor="end" class="tl">0</text>
<text x="983.4" y="724.2" text-anchor="middle" class="tl">1</text>
<text x="863.8" y="599.8" text-anchor="end" class="tl">1</text>
<text x="1001.5" y="724.2" text-anchor="middle" class="tl">2</text>
<text x="863.8" y="581.7" text-anchor="end" class="tl">2</text>
<text x="1019.7" y="724.2" text-anchor="middle" class="tl">3</text>
<text x="863.8" y="563.6" text-anchor="end" class="tl">3</text>
<text x="1037.8" y="724.2" text-anchor="middle" class="tl">4</text>
<text x="863.8" y="545.4" text-anchor="end" class="tl">4</text>
<text x="1056" y="724.2" text-anchor="middle" class="tl">5</text>
<text x="863.8" y="527.3" text-anchor="end" class="tl">5</text>
<text x="875.6" y="511.5" class="pl">(l)</text>
<text x="965.2" y="742.9" text-anchor="middle" class="at">Distance across TC track (×100 km)</text>
<rect x="1073.0" y="49.2" width="22.8" height="9.47" fill="#fcfcfc"/>
<rect x="1073.0" y="58.3" width="22.8" height="9.47" fill="#e7e8ea"/>
<rect x="1073.0" y="67.3" width="22.8" height="9.47" fill="#d5d7da"/>
<rect x="1073.0" y="76.4" width="22.8" height="9.47" fill="#c2c6ce"/>
<rect x="1073.0" y="85.5" width="22.8" height="9.47" fill="#b0b8c8"/>
<rect x="1073.0" y="94.5" width="22.8" height="9.47" fill="#a0afc7"/>
<rect x="1073.0" y="103.6" width="22.8" height="9.47" fill="#92a6c8"/>
<rect x="1073.0" y="112.7" width="22.8" height="9.47" fill="#7f9acb"/>
<rect x="1073.0" y="121.7" width="22.8" height="9.47" fill="#6d8ec8"/>
<rect x="1073.0" y="130.8" width="22.8" height="9.47" fill="#5f84c6"/>
<rect x="1073.0" y="139.9" width="22.8" height="9.47" fill="#4e78b8"/>
<rect x="1073.0" y="148.9" width="22.8" height="9.47" fill="#3c69a6"/>
<rect x="1073.0" y="158" width="22.8" height="9.47" fill="#2f5b93"/>
<rect x="1073.0" y="167" width="22.8" height="9.47" fill="#254e7f"/>
<rect x="1073.0" y="176.1" width="22.8" height="9.47" fill="#1e4069"/>
<rect x="1073.0" y="185.2" width="22.8" height="9.47" fill="#193151"/>
<rect x="1073.0" y="194.2" width="22.8" height="9.47" fill="#142439"/>
<rect x="1073.0" y="203.3" width="22.8" height="9.47" fill="#0f1a2b"/>
<rect x="1073.0" y="212.4" width="22.8" height="9.47" fill="#0a111c"/>
<rect x="1073.0" y="221.4" width="22.8" height="9.47" fill="#05080d"/>
<rect x="1073.0" y="49.2" width="22.8" height="181.3" fill="none" stroke="#555" stroke-width="1.1"/>
<path d="M1095.8 49.2h6" stroke="#444" stroke-width="1.1"/>
<text x="1105.2" y="54.2" class="cb">0</text>
<path d="M1095.8 85.5h6" stroke="#444" stroke-width="1.1"/>
<text x="1105.2" y="90.5" class="cb">–0.4</text>
<path d="M1095.8 121.7h6" stroke="#444" stroke-width="1.1"/>
<text x="1105.2" y="126.7" class="cb">–0.8</text>
<path d="M1095.8 158h6" stroke="#444" stroke-width="1.1"/>
<text x="1105.2" y="163" class="cb">–1.2</text>
<path d="M1095.8 194.2h6" stroke="#444" stroke-width="1.1"/>
<text x="1105.2" y="199.2" class="cb">–1.6</text>
<path d="M1095.8 230.5h6" stroke="#444" stroke-width="1.1"/>
<text x="1105.2" y="235.5" class="cb">–2</text>
<rect x="1073.0" y="286.7" width="22.8" height="9.47" fill="#fcfcfc"/>
<rect x="1073.0" y="295.8" width="22.8" height="9.47" fill="#e7e8ea"/>
<rect x="1073.0" y="304.8" width="22.8" height="9.47" fill="#d5d7da"/>
<rect x="1073.0" y="313.9" width="22.8" height="9.47" fill="#c2c6ce"/>
<rect x="1073.0" y="323" width="22.8" height="9.47" fill="#b0b8c8"/>
<rect x="1073.0" y="332" width="22.8" height="9.47" fill="#a0afc7"/>
<rect x="1073.0" y="341.1" width="22.8" height="9.47" fill="#92a6c8"/>
<rect x="1073.0" y="350.2" width="22.8" height="9.47" fill="#7f9acb"/>
<rect x="1073.0" y="359.2" width="22.8" height="9.47" fill="#6d8ec8"/>
<rect x="1073.0" y="368.3" width="22.8" height="9.47" fill="#5f84c6"/>
<rect x="1073.0" y="377.4" width="22.8" height="9.47" fill="#4e78b8"/>
<rect x="1073.0" y="386.4" width="22.8" height="9.47" fill="#3c69a6"/>
<rect x="1073.0" y="395.5" width="22.8" height="9.47" fill="#2f5b93"/>
<rect x="1073.0" y="404.5" width="22.8" height="9.47" fill="#254e7f"/>
<rect x="1073.0" y="413.6" width="22.8" height="9.47" fill="#1e4069"/>
<rect x="1073.0" y="422.7" width="22.8" height="9.47" fill="#193151"/>
<rect x="1073.0" y="431.7" width="22.8" height="9.47" fill="#142439"/>
<rect x="1073.0" y="440.8" width="22.8" height="9.47" fill="#0f1a2b"/>
<rect x="1073.0" y="449.9" width="22.8" height="9.47" fill="#0a111c"/>
<rect x="1073.0" y="458.9" width="22.8" height="9.47" fill="#05080d"/>
<rect x="1073.0" y="286.7" width="22.8" height="181.3" fill="none" stroke="#555" stroke-width="1.1"/>
<path d="M1095.8 286.7h6" stroke="#444" stroke-width="1.1"/>
<text x="1105.2" y="291.7" class="cb">0</text>
<path d="M1095.8 323h6" stroke="#444" stroke-width="1.1"/>
<text x="1105.2" y="328" class="cb">–0.4</text>
<path d="M1095.8 359.2h6" stroke="#444" stroke-width="1.1"/>
<text x="1105.2" y="364.2" class="cb">–0.8</text>
<path d="M1095.8 395.5h6" stroke="#444" stroke-width="1.1"/>
<text x="1105.2" y="400.5" class="cb">–1.2</text>
<path d="M1095.8 431.7h6" stroke="#444" stroke-width="1.1"/>
<text x="1105.2" y="436.7" class="cb">–1.6</text>
<path d="M1095.8 468h6" stroke="#444" stroke-width="1.1"/>
<text x="1105.2" y="473" class="cb">–2</text>
<rect x="1073.0" y="522.8" width="22.8" height="11.73" fill="#1e3441"/>
<rect x="1073.0" y="534.1" width="22.8" height="11.73" fill="#1f5562"/>
<rect x="1073.0" y="545.5" width="22.8" height="11.73" fill="#24717a"/>
<rect x="1073.0" y="556.8" width="22.8" height="11.73" fill="#2a8d8b"/>
<rect x="1073.0" y="568.1" width="22.8" height="11.73" fill="#3cb09f"/>
<rect x="1073.0" y="579.5" width="22.8" height="11.73" fill="#74d2b6"/>
<rect x="1073.0" y="590.8" width="22.8" height="11.73" fill="#c2e6d6"/>
<rect x="1073.0" y="602.1" width="22.8" height="11.73" fill="#eef5f0"/>
<rect x="1073.0" y="613.4" width="22.8" height="11.73" fill="#f6f4ee"/>
<rect x="1073.0" y="624.8" width="22.8" height="11.73" fill="#ecdcc6"/>
<rect x="1073.0" y="636.1" width="22.8" height="11.73" fill="#e6bf95"/>
<rect x="1073.0" y="647.4" width="22.8" height="11.73" fill="#d49c7b"/>
<rect x="1073.0" y="658.8" width="22.8" height="11.73" fill="#b57b70"/>
<rect x="1073.0" y="670.1" width="22.8" height="11.73" fill="#916060"/>
<rect x="1073.0" y="681.4" width="22.8" height="11.73" fill="#6e4550"/>
<rect x="1073.0" y="692.8" width="22.8" height="11.73" fill="#4a2a3a"/>
<rect x="1073.0" y="522.8" width="22.8" height="181.3" fill="none" stroke="#555" stroke-width="1.1"/>
<path d="M1095.8 522.8h6" stroke="#444" stroke-width="1.1"/>
<text x="1105.2" y="527.8" class="cb">0.4</text>
<path d="M1095.8 568.1h6" stroke="#444" stroke-width="1.1"/>
<text x="1105.2" y="573.1" class="cb">0.2</text>
<path d="M1095.8 613.4h6" stroke="#444" stroke-width="1.1"/>
<text x="1105.2" y="618.4" class="cb">0</text>
<path d="M1095.8 658.8h6" stroke="#444" stroke-width="1.1"/>
<text x="1105.2" y="663.8" class="cb">–0.2</text>
<path d="M1095.8 704.1h6" stroke="#444" stroke-width="1.1"/>
<text x="1105.2" y="709.1" class="cb">–0.4</text>
</svg>
<div class="cap" style="top:774.6px;word-spacing:-0.6px"><b>Figure 2.</b>&nbsp; (a&#8211;d) Spatial structure of the TC-generated cold wake (&#176;C) in different seasons in the observations from the testing set: (a) winter, (b) spring, (c) summer, and</div>
<div class="cap" style="top:797.4px;word-spacing:0.41px">(d) autumn. (e&#8211;h) As in (a&#8211;d), but for reproductions. (i&#8211;l) Differences (&#176;C) between the reproductions (e&#8211;h) and the observations (a&#8211;d) in four seasons, that is, the</div>
<div class="cap" style="top:820.3px">observations are subtracted from the reproductions.</div>
</body></html>
